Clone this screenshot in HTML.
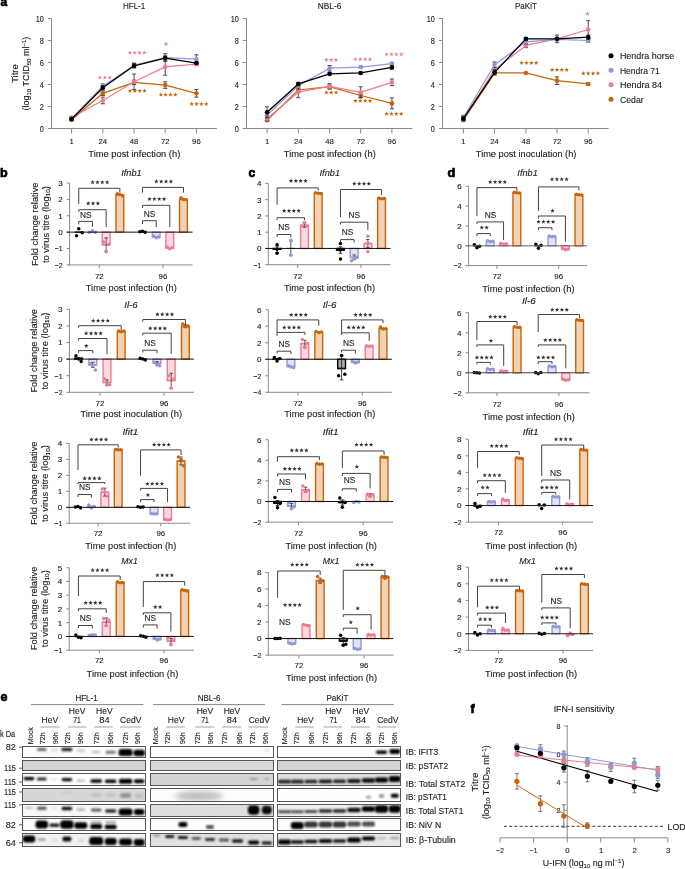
<!DOCTYPE html>
<html><head><meta charset="utf-8"><title>Figure</title>
<style>
html,body{margin:0;padding:0;background:#fff;}
body{width:685px;height:869px;overflow:hidden;}
svg{display:block;font-family:"Liberation Sans",sans-serif;will-change:transform;}
text{stroke:#1c1c1c;stroke-width:0.12px;}
</style></head><body>
<svg width="685" height="869" viewBox="0 0 685 869" fill="#1c1c1c">
<rect width="685" height="869" fill="#fff"/>
<text x="0.6" y="6.4" font-size="12" fill="#000" font-weight="bold" style="stroke:#000;stroke-width:0.7px">a</text>
<line x1="51.5" y1="18.5" x2="51.5" y2="129" stroke="#8a8a8a" stroke-width="1"/>
<line x1="48.2" y1="128.5" x2="216.8" y2="128.5" stroke="#8a8a8a" stroke-width="1"/>
<line x1="47.9" y1="128.5" x2="51.5" y2="128.5" stroke="#8a8a8a" stroke-width="1"/>
<text x="43.8" y="131.95" font-size="8.2" text-anchor="end" textLength="4.05" lengthAdjust="spacingAndGlyphs">0</text>
<line x1="47.9" y1="106.5" x2="51.5" y2="106.5" stroke="#8a8a8a" stroke-width="1"/>
<text x="43.8" y="109.95" font-size="8.2" text-anchor="end" textLength="4.05" lengthAdjust="spacingAndGlyphs">2</text>
<line x1="47.9" y1="84.5" x2="51.5" y2="84.5" stroke="#8a8a8a" stroke-width="1"/>
<text x="43.8" y="87.95" font-size="8.2" text-anchor="end" textLength="4.05" lengthAdjust="spacingAndGlyphs">4</text>
<line x1="47.9" y1="62.5" x2="51.5" y2="62.5" stroke="#8a8a8a" stroke-width="1"/>
<text x="43.8" y="65.95" font-size="8.2" text-anchor="end" textLength="4.05" lengthAdjust="spacingAndGlyphs">6</text>
<line x1="47.9" y1="40.5" x2="51.5" y2="40.5" stroke="#8a8a8a" stroke-width="1"/>
<text x="43.8" y="43.95" font-size="8.2" text-anchor="end" textLength="4.05" lengthAdjust="spacingAndGlyphs">8</text>
<line x1="47.9" y1="18.5" x2="51.5" y2="18.5" stroke="#8a8a8a" stroke-width="1"/>
<text x="43.8" y="21.95" font-size="8.2" text-anchor="end" textLength="8.1" lengthAdjust="spacingAndGlyphs">10</text>
<line x1="71.6" y1="128.5" x2="71.6" y2="133.5" stroke="#8a8a8a" stroke-width="1"/>
<text x="71.6" y="143.68" font-size="8" text-anchor="middle" textLength="4.3" lengthAdjust="spacingAndGlyphs">1</text>
<line x1="102.8" y1="128.5" x2="102.8" y2="133.5" stroke="#8a8a8a" stroke-width="1"/>
<text x="102.8" y="143.68" font-size="8" text-anchor="middle" textLength="8.6" lengthAdjust="spacingAndGlyphs">24</text>
<line x1="134.1" y1="128.5" x2="134.1" y2="133.5" stroke="#8a8a8a" stroke-width="1"/>
<text x="134.1" y="143.68" font-size="8" text-anchor="middle" textLength="8.6" lengthAdjust="spacingAndGlyphs">48</text>
<line x1="165.2" y1="128.5" x2="165.2" y2="133.5" stroke="#8a8a8a" stroke-width="1"/>
<text x="165.2" y="143.68" font-size="8" text-anchor="middle" textLength="8.6" lengthAdjust="spacingAndGlyphs">72</text>
<line x1="196.4" y1="128.5" x2="196.4" y2="133.5" stroke="#8a8a8a" stroke-width="1"/>
<text x="196.4" y="143.68" font-size="8" text-anchor="middle" textLength="8.6" lengthAdjust="spacingAndGlyphs">96</text>
<text x="134.1" y="9.4" font-size="8.8" text-anchor="middle" textLength="22.4" lengthAdjust="spacingAndGlyphs">HFL-1</text>
<text x="134.3" y="157.2" font-size="9.3" text-anchor="middle" textLength="92" lengthAdjust="spacingAndGlyphs">Time post infection (h)</text>
<line x1="71.6" y1="118.6" x2="71.6" y2="120.8" stroke="#3a3a3a" stroke-width="0.9"/>
<line x1="69.5" y1="118.6" x2="73.7" y2="118.6" stroke="#3a3a3a" stroke-width="0.9"/>
<line x1="69.5" y1="120.8" x2="73.7" y2="120.8" stroke="#3a3a3a" stroke-width="0.9"/>
<line x1="102.8" y1="91.1" x2="102.8" y2="95.5" stroke="#3a3a3a" stroke-width="0.9"/>
<line x1="100.7" y1="91.1" x2="104.9" y2="91.1" stroke="#3a3a3a" stroke-width="0.9"/>
<line x1="100.7" y1="95.5" x2="104.9" y2="95.5" stroke="#3a3a3a" stroke-width="0.9"/>
<line x1="134.1" y1="80.1" x2="134.1" y2="84.5" stroke="#3a3a3a" stroke-width="0.9"/>
<line x1="132" y1="80.1" x2="136.2" y2="80.1" stroke="#3a3a3a" stroke-width="0.9"/>
<line x1="132" y1="84.5" x2="136.2" y2="84.5" stroke="#3a3a3a" stroke-width="0.9"/>
<line x1="165.2" y1="81.75" x2="165.2" y2="88.35" stroke="#3a3a3a" stroke-width="0.9"/>
<line x1="163.1" y1="81.75" x2="167.3" y2="81.75" stroke="#3a3a3a" stroke-width="0.9"/>
<line x1="163.1" y1="88.35" x2="167.3" y2="88.35" stroke="#3a3a3a" stroke-width="0.9"/>
<line x1="196.4" y1="89.45" x2="196.4" y2="97.15" stroke="#3a3a3a" stroke-width="0.9"/>
<line x1="194.3" y1="89.45" x2="198.5" y2="89.45" stroke="#3a3a3a" stroke-width="0.9"/>
<line x1="194.3" y1="97.15" x2="198.5" y2="97.15" stroke="#3a3a3a" stroke-width="0.9"/>
<polyline points="71.6,119.7 102.8,93.3 134.1,82.3 165.2,85.05 196.4,93.3" fill="none" stroke="#c8650c" stroke-width="1.25" stroke-linejoin="round"/>
<circle cx="71.6" cy="119.7" r="2.3" fill="#c8650c"/>
<circle cx="102.8" cy="93.3" r="2.3" fill="#c8650c"/>
<circle cx="134.1" cy="82.3" r="2.3" fill="#c8650c"/>
<circle cx="165.2" cy="85.05" r="2.3" fill="#c8650c"/>
<circle cx="196.4" cy="93.3" r="2.3" fill="#c8650c"/>
<line x1="71.6" y1="116.4" x2="71.6" y2="118.6" stroke="#3a3a3a" stroke-width="0.9"/>
<line x1="69.5" y1="116.4" x2="73.7" y2="116.4" stroke="#3a3a3a" stroke-width="0.9"/>
<line x1="69.5" y1="118.6" x2="73.7" y2="118.6" stroke="#3a3a3a" stroke-width="0.9"/>
<line x1="102.8" y1="97.15" x2="102.8" y2="103.75" stroke="#3a3a3a" stroke-width="0.9"/>
<line x1="100.7" y1="97.15" x2="104.9" y2="97.15" stroke="#3a3a3a" stroke-width="0.9"/>
<line x1="100.7" y1="103.75" x2="104.9" y2="103.75" stroke="#3a3a3a" stroke-width="0.9"/>
<line x1="134.1" y1="74.05" x2="134.1" y2="89.45" stroke="#3a3a3a" stroke-width="0.9"/>
<line x1="132" y1="74.05" x2="136.2" y2="74.05" stroke="#3a3a3a" stroke-width="0.9"/>
<line x1="132" y1="89.45" x2="136.2" y2="89.45" stroke="#3a3a3a" stroke-width="0.9"/>
<line x1="165.2" y1="58.65" x2="165.2" y2="75.15" stroke="#3a3a3a" stroke-width="0.9"/>
<line x1="163.1" y1="58.65" x2="167.3" y2="58.65" stroke="#3a3a3a" stroke-width="0.9"/>
<line x1="163.1" y1="75.15" x2="167.3" y2="75.15" stroke="#3a3a3a" stroke-width="0.9"/>
<line x1="196.4" y1="63.05" x2="196.4" y2="65.25" stroke="#3a3a3a" stroke-width="0.9"/>
<line x1="194.3" y1="63.05" x2="198.5" y2="63.05" stroke="#3a3a3a" stroke-width="0.9"/>
<line x1="194.3" y1="65.25" x2="198.5" y2="65.25" stroke="#3a3a3a" stroke-width="0.9"/>
<polyline points="71.6,117.5 102.8,100.45 134.1,81.75 165.2,66.9 196.4,64.15" fill="none" stroke="#ee7c93" stroke-width="1.25" stroke-linejoin="round"/>
<circle cx="71.6" cy="117.5" r="2.3" fill="#ee7c93"/>
<circle cx="102.8" cy="100.45" r="2.3" fill="#ee7c93"/>
<circle cx="134.1" cy="81.75" r="2.3" fill="#ee7c93"/>
<circle cx="165.2" cy="66.9" r="2.3" fill="#ee7c93"/>
<circle cx="196.4" cy="64.15" r="2.3" fill="#ee7c93"/>
<line x1="71.6" y1="117.5" x2="71.6" y2="119.7" stroke="#3a3a3a" stroke-width="0.9"/>
<line x1="69.5" y1="117.5" x2="73.7" y2="117.5" stroke="#3a3a3a" stroke-width="0.9"/>
<line x1="69.5" y1="119.7" x2="73.7" y2="119.7" stroke="#3a3a3a" stroke-width="0.9"/>
<line x1="102.8" y1="83.95" x2="102.8" y2="88.35" stroke="#3a3a3a" stroke-width="0.9"/>
<line x1="100.7" y1="83.95" x2="104.9" y2="83.95" stroke="#3a3a3a" stroke-width="0.9"/>
<line x1="100.7" y1="88.35" x2="104.9" y2="88.35" stroke="#3a3a3a" stroke-width="0.9"/>
<line x1="134.1" y1="63.05" x2="134.1" y2="67.45" stroke="#3a3a3a" stroke-width="0.9"/>
<line x1="132" y1="63.05" x2="136.2" y2="63.05" stroke="#3a3a3a" stroke-width="0.9"/>
<line x1="132" y1="67.45" x2="136.2" y2="67.45" stroke="#3a3a3a" stroke-width="0.9"/>
<line x1="165.2" y1="53.7" x2="165.2" y2="61.4" stroke="#3a3a3a" stroke-width="0.9"/>
<line x1="163.1" y1="53.7" x2="167.3" y2="53.7" stroke="#3a3a3a" stroke-width="0.9"/>
<line x1="163.1" y1="61.4" x2="167.3" y2="61.4" stroke="#3a3a3a" stroke-width="0.9"/>
<line x1="196.4" y1="54.8" x2="196.4" y2="63.6" stroke="#3a3a3a" stroke-width="0.9"/>
<line x1="194.3" y1="54.8" x2="198.5" y2="54.8" stroke="#3a3a3a" stroke-width="0.9"/>
<line x1="194.3" y1="63.6" x2="198.5" y2="63.6" stroke="#3a3a3a" stroke-width="0.9"/>
<polyline points="71.6,118.6 102.8,86.15 134.1,65.25 165.2,57.55 196.4,59.2" fill="none" stroke="#8f99d6" stroke-width="1.25" stroke-linejoin="round"/>
<circle cx="71.6" cy="118.6" r="2.3" fill="#8f99d6"/>
<circle cx="102.8" cy="86.15" r="2.3" fill="#8f99d6"/>
<circle cx="134.1" cy="65.25" r="2.3" fill="#8f99d6"/>
<circle cx="165.2" cy="57.55" r="2.3" fill="#8f99d6"/>
<circle cx="196.4" cy="59.2" r="2.3" fill="#8f99d6"/>
<line x1="71.6" y1="118.05" x2="71.6" y2="120.25" stroke="#3a3a3a" stroke-width="0.9"/>
<line x1="69.5" y1="118.05" x2="73.7" y2="118.05" stroke="#3a3a3a" stroke-width="0.9"/>
<line x1="69.5" y1="120.25" x2="73.7" y2="120.25" stroke="#3a3a3a" stroke-width="0.9"/>
<line x1="102.8" y1="85.6" x2="102.8" y2="90" stroke="#3a3a3a" stroke-width="0.9"/>
<line x1="100.7" y1="85.6" x2="104.9" y2="85.6" stroke="#3a3a3a" stroke-width="0.9"/>
<line x1="100.7" y1="90" x2="104.9" y2="90" stroke="#3a3a3a" stroke-width="0.9"/>
<line x1="134.1" y1="63.6" x2="134.1" y2="68" stroke="#3a3a3a" stroke-width="0.9"/>
<line x1="132" y1="63.6" x2="136.2" y2="63.6" stroke="#3a3a3a" stroke-width="0.9"/>
<line x1="132" y1="68" x2="136.2" y2="68" stroke="#3a3a3a" stroke-width="0.9"/>
<line x1="165.2" y1="55.9" x2="165.2" y2="60.3" stroke="#3a3a3a" stroke-width="0.9"/>
<line x1="163.1" y1="55.9" x2="167.3" y2="55.9" stroke="#3a3a3a" stroke-width="0.9"/>
<line x1="163.1" y1="60.3" x2="167.3" y2="60.3" stroke="#3a3a3a" stroke-width="0.9"/>
<line x1="196.4" y1="61.95" x2="196.4" y2="64.15" stroke="#3a3a3a" stroke-width="0.9"/>
<line x1="194.3" y1="61.95" x2="198.5" y2="61.95" stroke="#3a3a3a" stroke-width="0.9"/>
<line x1="194.3" y1="64.15" x2="198.5" y2="64.15" stroke="#3a3a3a" stroke-width="0.9"/>
<polyline points="71.6,119.15 102.8,87.8 134.1,65.8 165.2,58.1 196.4,63.05" fill="none" stroke="#000000" stroke-width="1.35" stroke-linejoin="round"/>
<circle cx="71.6" cy="119.15" r="2.3" fill="#000000"/>
<circle cx="102.8" cy="87.8" r="2.3" fill="#000000"/>
<circle cx="134.1" cy="65.8" r="2.3" fill="#000000"/>
<circle cx="165.2" cy="58.1" r="2.3" fill="#000000"/>
<circle cx="196.4" cy="63.05" r="2.3" fill="#000000"/>
<path d="M100.05 75.15 L100.63 76.7 L102.28 76.77 L100.99 77.8 L101.43 79.4 L100.05 78.49 L98.67 79.4 L99.11 77.8 L97.82 76.77 L99.47 76.7ZM104.9 75.15 L105.48 76.7 L107.13 76.77 L105.84 77.8 L106.28 79.4 L104.9 78.49 L103.52 79.4 L103.96 77.8 L102.67 76.77 L104.32 76.7ZM109.75 75.15 L110.33 76.7 L111.98 76.77 L110.69 77.8 L111.13 79.4 L109.75 78.49 L108.37 79.4 L108.81 77.8 L107.52 76.77 L109.17 76.7Z" fill="#ee7c93"/>
<path d="M129.82 50.35 L130.41 51.9 L132.06 51.97 L130.76 53 L131.21 54.6 L129.82 53.69 L128.44 54.6 L128.89 53 L127.59 51.97 L129.24 51.9ZM134.67 50.35 L135.26 51.9 L136.91 51.97 L135.61 53 L136.06 54.6 L134.67 53.69 L133.29 54.6 L133.74 53 L132.44 51.97 L134.09 51.9ZM139.52 50.35 L140.11 51.9 L141.76 51.97 L140.46 53 L140.91 54.6 L139.52 53.69 L138.14 54.6 L138.59 53 L137.29 51.97 L138.94 51.9ZM144.38 50.35 L144.96 51.9 L146.61 51.97 L145.31 53 L145.76 54.6 L144.38 53.69 L142.99 54.6 L143.44 53 L142.14 51.97 L143.79 51.9Z" fill="#ee7c93"/>
<path d="M166 41.75 L166.58 43.3 L168.23 43.37 L166.94 44.4 L167.38 46 L166 45.09 L164.62 46 L165.06 44.4 L163.77 43.37 L165.42 43.3Z" fill="#ee7c93"/>
<path d="M130.03 88.55 L130.61 90.1 L132.26 90.17 L130.96 91.2 L131.41 92.8 L130.03 91.89 L128.64 92.8 L129.09 91.2 L127.79 90.17 L129.44 90.1ZM134.88 88.55 L135.46 90.1 L137.11 90.17 L135.81 91.2 L136.26 92.8 L134.88 91.89 L133.49 92.8 L133.94 91.2 L132.64 90.17 L134.29 90.1ZM139.72 88.55 L140.31 90.1 L141.96 90.17 L140.66 91.2 L141.11 92.8 L139.72 91.89 L138.34 92.8 L138.79 91.2 L137.49 90.17 L139.14 90.1ZM144.58 88.55 L145.16 90.1 L146.81 90.17 L145.51 91.2 L145.96 92.8 L144.58 91.89 L143.19 92.8 L143.64 91.2 L142.34 90.17 L143.99 90.1Z" fill="#c8650c"/>
<path d="M160.82 92.35 L161.41 93.9 L163.06 93.97 L161.76 95 L162.21 96.6 L160.82 95.69 L159.44 96.6 L159.89 95 L158.59 93.97 L160.24 93.9ZM165.67 92.35 L166.26 93.9 L167.91 93.97 L166.61 95 L167.06 96.6 L165.67 95.69 L164.29 96.6 L164.74 95 L163.44 93.97 L165.09 93.9ZM170.52 92.35 L171.11 93.9 L172.76 93.97 L171.46 95 L171.91 96.6 L170.52 95.69 L169.14 96.6 L169.59 95 L168.29 93.97 L169.94 93.9ZM175.38 92.35 L175.96 93.9 L177.61 93.97 L176.31 95 L176.76 96.6 L175.38 95.69 L173.99 96.6 L174.44 95 L173.14 93.97 L174.79 93.9Z" fill="#c8650c"/>
<path d="M191.72 101.75 L192.31 103.3 L193.96 103.37 L192.66 104.4 L193.11 106 L191.72 105.09 L190.34 106 L190.79 104.4 L189.49 103.37 L191.14 103.3ZM196.57 101.75 L197.16 103.3 L198.81 103.37 L197.51 104.4 L197.96 106 L196.57 105.09 L195.19 106 L195.64 104.4 L194.34 103.37 L195.99 103.3ZM201.42 101.75 L202.01 103.3 L203.66 103.37 L202.36 104.4 L202.81 106 L201.42 105.09 L200.04 106 L200.49 104.4 L199.19 103.37 L200.84 103.3ZM206.28 101.75 L206.86 103.3 L208.51 103.37 L207.21 104.4 L207.66 106 L206.28 105.09 L204.89 106 L205.34 104.4 L204.04 103.37 L205.69 103.3Z" fill="#c8650c"/>
<line x1="246.5" y1="18.5" x2="246.5" y2="129" stroke="#8a8a8a" stroke-width="1"/>
<line x1="243.2" y1="128.5" x2="412.3" y2="128.5" stroke="#8a8a8a" stroke-width="1"/>
<line x1="242.9" y1="128.5" x2="246.5" y2="128.5" stroke="#8a8a8a" stroke-width="1"/>
<text x="238.8" y="131.95" font-size="8.2" text-anchor="end" textLength="4.05" lengthAdjust="spacingAndGlyphs">0</text>
<line x1="242.9" y1="106.5" x2="246.5" y2="106.5" stroke="#8a8a8a" stroke-width="1"/>
<text x="238.8" y="109.95" font-size="8.2" text-anchor="end" textLength="4.05" lengthAdjust="spacingAndGlyphs">2</text>
<line x1="242.9" y1="84.5" x2="246.5" y2="84.5" stroke="#8a8a8a" stroke-width="1"/>
<text x="238.8" y="87.95" font-size="8.2" text-anchor="end" textLength="4.05" lengthAdjust="spacingAndGlyphs">4</text>
<line x1="242.9" y1="62.5" x2="246.5" y2="62.5" stroke="#8a8a8a" stroke-width="1"/>
<text x="238.8" y="65.95" font-size="8.2" text-anchor="end" textLength="4.05" lengthAdjust="spacingAndGlyphs">6</text>
<line x1="242.9" y1="40.5" x2="246.5" y2="40.5" stroke="#8a8a8a" stroke-width="1"/>
<text x="238.8" y="43.95" font-size="8.2" text-anchor="end" textLength="4.05" lengthAdjust="spacingAndGlyphs">8</text>
<line x1="242.9" y1="18.5" x2="246.5" y2="18.5" stroke="#8a8a8a" stroke-width="1"/>
<text x="238.8" y="21.95" font-size="8.2" text-anchor="end" textLength="8.1" lengthAdjust="spacingAndGlyphs">10</text>
<line x1="267.1" y1="128.5" x2="267.1" y2="133.5" stroke="#8a8a8a" stroke-width="1"/>
<text x="267.1" y="143.68" font-size="8" text-anchor="middle" textLength="4.3" lengthAdjust="spacingAndGlyphs">1</text>
<line x1="298.3" y1="128.5" x2="298.3" y2="133.5" stroke="#8a8a8a" stroke-width="1"/>
<text x="298.3" y="143.68" font-size="8" text-anchor="middle" textLength="8.6" lengthAdjust="spacingAndGlyphs">24</text>
<line x1="329.6" y1="128.5" x2="329.6" y2="133.5" stroke="#8a8a8a" stroke-width="1"/>
<text x="329.6" y="143.68" font-size="8" text-anchor="middle" textLength="8.6" lengthAdjust="spacingAndGlyphs">48</text>
<line x1="360.7" y1="128.5" x2="360.7" y2="133.5" stroke="#8a8a8a" stroke-width="1"/>
<text x="360.7" y="143.68" font-size="8" text-anchor="middle" textLength="8.6" lengthAdjust="spacingAndGlyphs">72</text>
<line x1="391.9" y1="128.5" x2="391.9" y2="133.5" stroke="#8a8a8a" stroke-width="1"/>
<text x="391.9" y="143.68" font-size="8" text-anchor="middle" textLength="8.6" lengthAdjust="spacingAndGlyphs">96</text>
<text x="329.6" y="9.4" font-size="8.8" text-anchor="middle" textLength="23.5" lengthAdjust="spacingAndGlyphs">NBL-6</text>
<text x="329.8" y="157.2" font-size="9.3" text-anchor="middle" textLength="92" lengthAdjust="spacingAndGlyphs">Time post infection (h)</text>
<line x1="267.1" y1="119.15" x2="267.1" y2="121.35" stroke="#3a3a3a" stroke-width="0.9"/>
<line x1="265" y1="119.15" x2="269.2" y2="119.15" stroke="#3a3a3a" stroke-width="0.9"/>
<line x1="265" y1="121.35" x2="269.2" y2="121.35" stroke="#3a3a3a" stroke-width="0.9"/>
<line x1="298.3" y1="88.35" x2="298.3" y2="91.65" stroke="#3a3a3a" stroke-width="0.9"/>
<line x1="296.2" y1="88.35" x2="300.4" y2="88.35" stroke="#3a3a3a" stroke-width="0.9"/>
<line x1="296.2" y1="91.65" x2="300.4" y2="91.65" stroke="#3a3a3a" stroke-width="0.9"/>
<line x1="329.6" y1="85.05" x2="329.6" y2="88.35" stroke="#3a3a3a" stroke-width="0.9"/>
<line x1="327.5" y1="85.05" x2="331.7" y2="85.05" stroke="#3a3a3a" stroke-width="0.9"/>
<line x1="327.5" y1="88.35" x2="331.7" y2="88.35" stroke="#3a3a3a" stroke-width="0.9"/>
<line x1="360.7" y1="93.3" x2="360.7" y2="97.7" stroke="#3a3a3a" stroke-width="0.9"/>
<line x1="358.6" y1="93.3" x2="362.8" y2="93.3" stroke="#3a3a3a" stroke-width="0.9"/>
<line x1="358.6" y1="97.7" x2="362.8" y2="97.7" stroke="#3a3a3a" stroke-width="0.9"/>
<line x1="391.9" y1="97.92" x2="391.9" y2="108.92" stroke="#3a3a3a" stroke-width="0.9"/>
<line x1="389.8" y1="97.92" x2="394" y2="97.92" stroke="#3a3a3a" stroke-width="0.9"/>
<line x1="389.8" y1="108.92" x2="394" y2="108.92" stroke="#3a3a3a" stroke-width="0.9"/>
<polyline points="267.1,120.25 298.3,90 329.6,86.7 360.7,95.5 391.9,103.42" fill="none" stroke="#c8650c" stroke-width="1.25" stroke-linejoin="round"/>
<circle cx="267.1" cy="120.25" r="2.3" fill="#c8650c"/>
<circle cx="298.3" cy="90" r="2.3" fill="#c8650c"/>
<circle cx="329.6" cy="86.7" r="2.3" fill="#c8650c"/>
<circle cx="360.7" cy="95.5" r="2.3" fill="#c8650c"/>
<circle cx="391.9" cy="103.42" r="2.3" fill="#c8650c"/>
<line x1="267.1" y1="116.4" x2="267.1" y2="120.8" stroke="#3a3a3a" stroke-width="0.9"/>
<line x1="265" y1="116.4" x2="269.2" y2="116.4" stroke="#3a3a3a" stroke-width="0.9"/>
<line x1="265" y1="120.8" x2="269.2" y2="120.8" stroke="#3a3a3a" stroke-width="0.9"/>
<line x1="298.3" y1="86.7" x2="298.3" y2="97.7" stroke="#3a3a3a" stroke-width="0.9"/>
<line x1="296.2" y1="86.7" x2="300.4" y2="86.7" stroke="#3a3a3a" stroke-width="0.9"/>
<line x1="296.2" y1="97.7" x2="300.4" y2="97.7" stroke="#3a3a3a" stroke-width="0.9"/>
<line x1="329.6" y1="83.73" x2="329.6" y2="89.23" stroke="#3a3a3a" stroke-width="0.9"/>
<line x1="327.5" y1="83.73" x2="331.7" y2="83.73" stroke="#3a3a3a" stroke-width="0.9"/>
<line x1="327.5" y1="89.23" x2="331.7" y2="89.23" stroke="#3a3a3a" stroke-width="0.9"/>
<line x1="360.7" y1="86.81" x2="360.7" y2="97.81" stroke="#3a3a3a" stroke-width="0.9"/>
<line x1="358.6" y1="86.81" x2="362.8" y2="86.81" stroke="#3a3a3a" stroke-width="0.9"/>
<line x1="358.6" y1="97.81" x2="362.8" y2="97.81" stroke="#3a3a3a" stroke-width="0.9"/>
<line x1="391.9" y1="79" x2="391.9" y2="85.6" stroke="#3a3a3a" stroke-width="0.9"/>
<line x1="389.8" y1="79" x2="394" y2="79" stroke="#3a3a3a" stroke-width="0.9"/>
<line x1="389.8" y1="85.6" x2="394" y2="85.6" stroke="#3a3a3a" stroke-width="0.9"/>
<polyline points="267.1,118.6 298.3,92.2 329.6,86.48 360.7,92.31 391.9,82.3" fill="none" stroke="#ee7c93" stroke-width="1.25" stroke-linejoin="round"/>
<circle cx="267.1" cy="118.6" r="2.3" fill="#ee7c93"/>
<circle cx="298.3" cy="92.2" r="2.3" fill="#ee7c93"/>
<circle cx="329.6" cy="86.48" r="2.3" fill="#ee7c93"/>
<circle cx="360.7" cy="92.31" r="2.3" fill="#ee7c93"/>
<circle cx="391.9" cy="82.3" r="2.3" fill="#ee7c93"/>
<line x1="267.1" y1="113.1" x2="267.1" y2="117.5" stroke="#3a3a3a" stroke-width="0.9"/>
<line x1="265" y1="113.1" x2="269.2" y2="113.1" stroke="#3a3a3a" stroke-width="0.9"/>
<line x1="265" y1="117.5" x2="269.2" y2="117.5" stroke="#3a3a3a" stroke-width="0.9"/>
<line x1="298.3" y1="83.95" x2="298.3" y2="87.25" stroke="#3a3a3a" stroke-width="0.9"/>
<line x1="296.2" y1="83.95" x2="300.4" y2="83.95" stroke="#3a3a3a" stroke-width="0.9"/>
<line x1="296.2" y1="87.25" x2="300.4" y2="87.25" stroke="#3a3a3a" stroke-width="0.9"/>
<line x1="329.6" y1="65.47" x2="329.6" y2="70.97" stroke="#3a3a3a" stroke-width="0.9"/>
<line x1="327.5" y1="65.47" x2="331.7" y2="65.47" stroke="#3a3a3a" stroke-width="0.9"/>
<line x1="327.5" y1="70.97" x2="331.7" y2="70.97" stroke="#3a3a3a" stroke-width="0.9"/>
<line x1="360.7" y1="66.02" x2="360.7" y2="68.22" stroke="#3a3a3a" stroke-width="0.9"/>
<line x1="358.6" y1="66.02" x2="362.8" y2="66.02" stroke="#3a3a3a" stroke-width="0.9"/>
<line x1="358.6" y1="68.22" x2="362.8" y2="68.22" stroke="#3a3a3a" stroke-width="0.9"/>
<line x1="391.9" y1="62.5" x2="391.9" y2="64.7" stroke="#3a3a3a" stroke-width="0.9"/>
<line x1="389.8" y1="62.5" x2="394" y2="62.5" stroke="#3a3a3a" stroke-width="0.9"/>
<line x1="389.8" y1="64.7" x2="394" y2="64.7" stroke="#3a3a3a" stroke-width="0.9"/>
<polyline points="267.1,115.3 298.3,85.6 329.6,68.22 360.7,67.12 391.9,63.6" fill="none" stroke="#8f99d6" stroke-width="1.25" stroke-linejoin="round"/>
<circle cx="267.1" cy="115.3" r="2.3" fill="#8f99d6"/>
<circle cx="298.3" cy="85.6" r="2.3" fill="#8f99d6"/>
<circle cx="329.6" cy="68.22" r="2.3" fill="#8f99d6"/>
<circle cx="360.7" cy="67.12" r="2.3" fill="#8f99d6"/>
<circle cx="391.9" cy="63.6" r="2.3" fill="#8f99d6"/>
<line x1="267.1" y1="106.83" x2="267.1" y2="117.83" stroke="#3a3a3a" stroke-width="0.9"/>
<line x1="265" y1="106.83" x2="269.2" y2="106.83" stroke="#3a3a3a" stroke-width="0.9"/>
<line x1="265" y1="117.83" x2="269.2" y2="117.83" stroke="#3a3a3a" stroke-width="0.9"/>
<line x1="298.3" y1="82.3" x2="298.3" y2="85.6" stroke="#3a3a3a" stroke-width="0.9"/>
<line x1="296.2" y1="82.3" x2="300.4" y2="82.3" stroke="#3a3a3a" stroke-width="0.9"/>
<line x1="296.2" y1="85.6" x2="300.4" y2="85.6" stroke="#3a3a3a" stroke-width="0.9"/>
<line x1="329.6" y1="72.73" x2="329.6" y2="74.93" stroke="#3a3a3a" stroke-width="0.9"/>
<line x1="327.5" y1="72.73" x2="331.7" y2="72.73" stroke="#3a3a3a" stroke-width="0.9"/>
<line x1="327.5" y1="74.93" x2="331.7" y2="74.93" stroke="#3a3a3a" stroke-width="0.9"/>
<line x1="360.7" y1="71.85" x2="360.7" y2="74.05" stroke="#3a3a3a" stroke-width="0.9"/>
<line x1="358.6" y1="71.85" x2="362.8" y2="71.85" stroke="#3a3a3a" stroke-width="0.9"/>
<line x1="358.6" y1="74.05" x2="362.8" y2="74.05" stroke="#3a3a3a" stroke-width="0.9"/>
<line x1="391.9" y1="65.8" x2="391.9" y2="69.1" stroke="#3a3a3a" stroke-width="0.9"/>
<line x1="389.8" y1="65.8" x2="394" y2="65.8" stroke="#3a3a3a" stroke-width="0.9"/>
<line x1="389.8" y1="69.1" x2="394" y2="69.1" stroke="#3a3a3a" stroke-width="0.9"/>
<polyline points="267.1,112.33 298.3,83.95 329.6,73.83 360.7,72.95 391.9,67.45" fill="none" stroke="#000000" stroke-width="1.35" stroke-linejoin="round"/>
<circle cx="267.1" cy="112.33" r="2.3" fill="#000000"/>
<circle cx="298.3" cy="83.95" r="2.3" fill="#000000"/>
<circle cx="329.6" cy="73.83" r="2.3" fill="#000000"/>
<circle cx="360.7" cy="72.95" r="2.3" fill="#000000"/>
<circle cx="391.9" cy="67.45" r="2.3" fill="#000000"/>
<path d="M326.35 57.55 L326.93 59.1 L328.58 59.17 L327.29 60.2 L327.73 61.8 L326.35 60.89 L324.97 61.8 L325.41 60.2 L324.12 59.17 L325.77 59.1ZM331.2 57.55 L331.78 59.1 L333.43 59.17 L332.14 60.2 L332.58 61.8 L331.2 60.89 L329.82 61.8 L330.26 60.2 L328.97 59.17 L330.62 59.1ZM336.05 57.55 L336.63 59.1 L338.28 59.17 L336.99 60.2 L337.43 61.8 L336.05 60.89 L334.67 61.8 L335.11 60.2 L333.82 59.17 L335.47 59.1Z" fill="#ee7c93"/>
<path d="M355.43 56.95 L356.01 58.5 L357.66 58.57 L356.36 59.6 L356.81 61.2 L355.43 60.29 L354.04 61.2 L354.49 59.6 L353.19 58.57 L354.84 58.5ZM360.28 56.95 L360.86 58.5 L362.51 58.57 L361.21 59.6 L361.66 61.2 L360.28 60.29 L358.89 61.2 L359.34 59.6 L358.04 58.57 L359.69 58.5ZM365.12 56.95 L365.71 58.5 L367.36 58.57 L366.06 59.6 L366.51 61.2 L365.12 60.29 L363.74 61.2 L364.19 59.6 L362.89 58.57 L364.54 58.5ZM369.98 56.95 L370.56 58.5 L372.21 58.57 L370.91 59.6 L371.36 61.2 L369.98 60.29 L368.59 61.2 L369.04 59.6 L367.74 58.57 L369.39 58.5Z" fill="#ee7c93"/>
<path d="M386.62 51.95 L387.21 53.5 L388.86 53.57 L387.56 54.6 L388.01 56.2 L386.62 55.29 L385.24 56.2 L385.69 54.6 L384.39 53.57 L386.04 53.5ZM391.48 51.95 L392.06 53.5 L393.71 53.57 L392.41 54.6 L392.86 56.2 L391.48 55.29 L390.09 56.2 L390.54 54.6 L389.24 53.57 L390.89 53.5ZM396.32 51.95 L396.91 53.5 L398.56 53.57 L397.26 54.6 L397.71 56.2 L396.32 55.29 L394.94 56.2 L395.39 54.6 L394.09 53.57 L395.74 53.5ZM401.18 51.95 L401.76 53.5 L403.41 53.57 L402.11 54.6 L402.56 56.2 L401.18 55.29 L399.79 56.2 L400.24 54.6 L398.94 53.57 L400.59 53.5Z" fill="#ee7c93"/>
<path d="M326.35 90.25 L326.93 91.8 L328.58 91.87 L327.29 92.9 L327.73 94.5 L326.35 93.59 L324.97 94.5 L325.41 92.9 L324.12 91.87 L325.77 91.8ZM331.2 90.25 L331.78 91.8 L333.43 91.87 L332.14 92.9 L332.58 94.5 L331.2 93.59 L329.82 94.5 L330.26 92.9 L328.97 91.87 L330.62 91.8ZM336.05 90.25 L336.63 91.8 L338.28 91.87 L336.99 92.9 L337.43 94.5 L336.05 93.59 L334.67 94.5 L335.11 92.9 L333.82 91.87 L335.47 91.8Z" fill="#c8650c"/>
<path d="M355.43 98.55 L356.01 100.1 L357.66 100.17 L356.36 101.2 L356.81 102.8 L355.43 101.89 L354.04 102.8 L354.49 101.2 L353.19 100.17 L354.84 100.1ZM360.28 98.55 L360.86 100.1 L362.51 100.17 L361.21 101.2 L361.66 102.8 L360.28 101.89 L358.89 102.8 L359.34 101.2 L358.04 100.17 L359.69 100.1ZM365.12 98.55 L365.71 100.1 L367.36 100.17 L366.06 101.2 L366.51 102.8 L365.12 101.89 L363.74 102.8 L364.19 101.2 L362.89 100.17 L364.54 100.1ZM369.98 98.55 L370.56 100.1 L372.21 100.17 L370.91 101.2 L371.36 102.8 L369.98 101.89 L368.59 102.8 L369.04 101.2 L367.74 100.17 L369.39 100.1Z" fill="#c8650c"/>
<path d="M386.62 111.55 L387.21 113.1 L388.86 113.17 L387.56 114.2 L388.01 115.8 L386.62 114.89 L385.24 115.8 L385.69 114.2 L384.39 113.17 L386.04 113.1ZM391.48 111.55 L392.06 113.1 L393.71 113.17 L392.41 114.2 L392.86 115.8 L391.48 114.89 L390.09 115.8 L390.54 114.2 L389.24 113.17 L390.89 113.1ZM396.32 111.55 L396.91 113.1 L398.56 113.17 L397.26 114.2 L397.71 115.8 L396.32 114.89 L394.94 115.8 L395.39 114.2 L394.09 113.17 L395.74 113.1ZM401.18 111.55 L401.76 113.1 L403.41 113.17 L402.11 114.2 L402.56 115.8 L401.18 114.89 L399.79 115.8 L400.24 114.2 L398.94 113.17 L400.59 113.1Z" fill="#c8650c"/>
<line x1="442.5" y1="18.5" x2="442.5" y2="129" stroke="#8a8a8a" stroke-width="1"/>
<line x1="439.2" y1="128.5" x2="608.6" y2="128.5" stroke="#8a8a8a" stroke-width="1"/>
<line x1="438.9" y1="128.5" x2="442.5" y2="128.5" stroke="#8a8a8a" stroke-width="1"/>
<text x="434.8" y="131.95" font-size="8.2" text-anchor="end" textLength="4.05" lengthAdjust="spacingAndGlyphs">0</text>
<line x1="438.9" y1="106.5" x2="442.5" y2="106.5" stroke="#8a8a8a" stroke-width="1"/>
<text x="434.8" y="109.95" font-size="8.2" text-anchor="end" textLength="4.05" lengthAdjust="spacingAndGlyphs">2</text>
<line x1="438.9" y1="84.5" x2="442.5" y2="84.5" stroke="#8a8a8a" stroke-width="1"/>
<text x="434.8" y="87.95" font-size="8.2" text-anchor="end" textLength="4.05" lengthAdjust="spacingAndGlyphs">4</text>
<line x1="438.9" y1="62.5" x2="442.5" y2="62.5" stroke="#8a8a8a" stroke-width="1"/>
<text x="434.8" y="65.95" font-size="8.2" text-anchor="end" textLength="4.05" lengthAdjust="spacingAndGlyphs">6</text>
<line x1="438.9" y1="40.5" x2="442.5" y2="40.5" stroke="#8a8a8a" stroke-width="1"/>
<text x="434.8" y="43.95" font-size="8.2" text-anchor="end" textLength="4.05" lengthAdjust="spacingAndGlyphs">8</text>
<line x1="438.9" y1="18.5" x2="442.5" y2="18.5" stroke="#8a8a8a" stroke-width="1"/>
<text x="434.8" y="21.95" font-size="8.2" text-anchor="end" textLength="8.1" lengthAdjust="spacingAndGlyphs">10</text>
<line x1="463.4" y1="128.5" x2="463.4" y2="133.5" stroke="#8a8a8a" stroke-width="1"/>
<text x="463.4" y="143.68" font-size="8" text-anchor="middle" textLength="4.3" lengthAdjust="spacingAndGlyphs">1</text>
<line x1="494.6" y1="128.5" x2="494.6" y2="133.5" stroke="#8a8a8a" stroke-width="1"/>
<text x="494.6" y="143.68" font-size="8" text-anchor="middle" textLength="8.6" lengthAdjust="spacingAndGlyphs">24</text>
<line x1="525.9" y1="128.5" x2="525.9" y2="133.5" stroke="#8a8a8a" stroke-width="1"/>
<text x="525.9" y="143.68" font-size="8" text-anchor="middle" textLength="8.6" lengthAdjust="spacingAndGlyphs">48</text>
<line x1="557" y1="128.5" x2="557" y2="133.5" stroke="#8a8a8a" stroke-width="1"/>
<text x="557" y="143.68" font-size="8" text-anchor="middle" textLength="8.6" lengthAdjust="spacingAndGlyphs">72</text>
<line x1="588.2" y1="128.5" x2="588.2" y2="133.5" stroke="#8a8a8a" stroke-width="1"/>
<text x="588.2" y="143.68" font-size="8" text-anchor="middle" textLength="8.6" lengthAdjust="spacingAndGlyphs">96</text>
<text x="525.9" y="9.4" font-size="8.8" text-anchor="middle" textLength="22" lengthAdjust="spacingAndGlyphs">PaKiT</text>
<text x="526.1" y="157.2" font-size="9.3" text-anchor="middle" textLength="100.5" lengthAdjust="spacingAndGlyphs">Time post inoculation (h)</text>
<line x1="463.4" y1="119.15" x2="463.4" y2="121.35" stroke="#3a3a3a" stroke-width="0.9"/>
<line x1="461.3" y1="119.15" x2="465.5" y2="119.15" stroke="#3a3a3a" stroke-width="0.9"/>
<line x1="461.3" y1="121.35" x2="465.5" y2="121.35" stroke="#3a3a3a" stroke-width="0.9"/>
<line x1="494.6" y1="71.74" x2="494.6" y2="73.94" stroke="#3a3a3a" stroke-width="0.9"/>
<line x1="492.5" y1="71.74" x2="496.7" y2="71.74" stroke="#3a3a3a" stroke-width="0.9"/>
<line x1="492.5" y1="73.94" x2="496.7" y2="73.94" stroke="#3a3a3a" stroke-width="0.9"/>
<line x1="557" y1="76.8" x2="557" y2="84.5" stroke="#3a3a3a" stroke-width="0.9"/>
<line x1="554.9" y1="76.8" x2="559.1" y2="76.8" stroke="#3a3a3a" stroke-width="0.9"/>
<line x1="554.9" y1="84.5" x2="559.1" y2="84.5" stroke="#3a3a3a" stroke-width="0.9"/>
<line x1="588.2" y1="82.85" x2="588.2" y2="85.05" stroke="#3a3a3a" stroke-width="0.9"/>
<line x1="586.1" y1="82.85" x2="590.3" y2="82.85" stroke="#3a3a3a" stroke-width="0.9"/>
<line x1="586.1" y1="85.05" x2="590.3" y2="85.05" stroke="#3a3a3a" stroke-width="0.9"/>
<polyline points="463.4,120.25 494.6,72.84 525.9,72.95 557,80.65 588.2,83.95" fill="none" stroke="#c8650c" stroke-width="1.25" stroke-linejoin="round"/>
<circle cx="463.4" cy="120.25" r="2.3" fill="#c8650c"/>
<circle cx="494.6" cy="72.84" r="2.3" fill="#c8650c"/>
<circle cx="525.9" cy="72.95" r="2.3" fill="#c8650c"/>
<circle cx="557" cy="80.65" r="2.3" fill="#c8650c"/>
<circle cx="588.2" cy="83.95" r="2.3" fill="#c8650c"/>
<line x1="463.4" y1="118.6" x2="463.4" y2="120.8" stroke="#3a3a3a" stroke-width="0.9"/>
<line x1="461.3" y1="118.6" x2="465.5" y2="118.6" stroke="#3a3a3a" stroke-width="0.9"/>
<line x1="461.3" y1="120.8" x2="465.5" y2="120.8" stroke="#3a3a3a" stroke-width="0.9"/>
<line x1="494.6" y1="67.45" x2="494.6" y2="71.85" stroke="#3a3a3a" stroke-width="0.9"/>
<line x1="492.5" y1="67.45" x2="496.7" y2="67.45" stroke="#3a3a3a" stroke-width="0.9"/>
<line x1="492.5" y1="71.85" x2="496.7" y2="71.85" stroke="#3a3a3a" stroke-width="0.9"/>
<line x1="525.9" y1="43.25" x2="525.9" y2="47.65" stroke="#3a3a3a" stroke-width="0.9"/>
<line x1="523.8" y1="43.25" x2="528" y2="43.25" stroke="#3a3a3a" stroke-width="0.9"/>
<line x1="523.8" y1="47.65" x2="528" y2="47.65" stroke="#3a3a3a" stroke-width="0.9"/>
<line x1="557" y1="37.75" x2="557" y2="39.95" stroke="#3a3a3a" stroke-width="0.9"/>
<line x1="554.9" y1="37.75" x2="559.1" y2="37.75" stroke="#3a3a3a" stroke-width="0.9"/>
<line x1="554.9" y1="39.95" x2="559.1" y2="39.95" stroke="#3a3a3a" stroke-width="0.9"/>
<line x1="588.2" y1="20.7" x2="588.2" y2="38.3" stroke="#3a3a3a" stroke-width="0.9"/>
<line x1="586.1" y1="20.7" x2="590.3" y2="20.7" stroke="#3a3a3a" stroke-width="0.9"/>
<line x1="586.1" y1="38.3" x2="590.3" y2="38.3" stroke="#3a3a3a" stroke-width="0.9"/>
<polyline points="463.4,119.7 494.6,69.65 525.9,45.45 557,38.85 588.2,29.5" fill="none" stroke="#ee7c93" stroke-width="1.25" stroke-linejoin="round"/>
<circle cx="463.4" cy="119.7" r="2.3" fill="#ee7c93"/>
<circle cx="494.6" cy="69.65" r="2.3" fill="#ee7c93"/>
<circle cx="525.9" cy="45.45" r="2.3" fill="#ee7c93"/>
<circle cx="557" cy="38.85" r="2.3" fill="#ee7c93"/>
<circle cx="588.2" cy="29.5" r="2.3" fill="#ee7c93"/>
<line x1="463.4" y1="115.3" x2="463.4" y2="119.7" stroke="#3a3a3a" stroke-width="0.9"/>
<line x1="461.3" y1="115.3" x2="465.5" y2="115.3" stroke="#3a3a3a" stroke-width="0.9"/>
<line x1="461.3" y1="119.7" x2="465.5" y2="119.7" stroke="#3a3a3a" stroke-width="0.9"/>
<line x1="494.6" y1="61.95" x2="494.6" y2="67.45" stroke="#3a3a3a" stroke-width="0.9"/>
<line x1="492.5" y1="61.95" x2="496.7" y2="61.95" stroke="#3a3a3a" stroke-width="0.9"/>
<line x1="492.5" y1="67.45" x2="496.7" y2="67.45" stroke="#3a3a3a" stroke-width="0.9"/>
<line x1="525.9" y1="39.62" x2="525.9" y2="44.02" stroke="#3a3a3a" stroke-width="0.9"/>
<line x1="523.8" y1="39.62" x2="528" y2="39.62" stroke="#3a3a3a" stroke-width="0.9"/>
<line x1="523.8" y1="44.02" x2="528" y2="44.02" stroke="#3a3a3a" stroke-width="0.9"/>
<line x1="557" y1="38.3" x2="557" y2="40.5" stroke="#3a3a3a" stroke-width="0.9"/>
<line x1="554.9" y1="38.3" x2="559.1" y2="38.3" stroke="#3a3a3a" stroke-width="0.9"/>
<line x1="554.9" y1="40.5" x2="559.1" y2="40.5" stroke="#3a3a3a" stroke-width="0.9"/>
<line x1="588.2" y1="38.85" x2="588.2" y2="42.15" stroke="#3a3a3a" stroke-width="0.9"/>
<line x1="586.1" y1="38.85" x2="590.3" y2="38.85" stroke="#3a3a3a" stroke-width="0.9"/>
<line x1="586.1" y1="42.15" x2="590.3" y2="42.15" stroke="#3a3a3a" stroke-width="0.9"/>
<polyline points="463.4,117.5 494.6,64.7 525.9,41.82 557,39.4 588.2,40.5" fill="none" stroke="#8f99d6" stroke-width="1.25" stroke-linejoin="round"/>
<circle cx="463.4" cy="117.5" r="2.3" fill="#8f99d6"/>
<circle cx="494.6" cy="64.7" r="2.3" fill="#8f99d6"/>
<circle cx="525.9" cy="41.82" r="2.3" fill="#8f99d6"/>
<circle cx="557" cy="39.4" r="2.3" fill="#8f99d6"/>
<circle cx="588.2" cy="40.5" r="2.3" fill="#8f99d6"/>
<line x1="463.4" y1="116.4" x2="463.4" y2="120.8" stroke="#3a3a3a" stroke-width="0.9"/>
<line x1="461.3" y1="116.4" x2="465.5" y2="116.4" stroke="#3a3a3a" stroke-width="0.9"/>
<line x1="461.3" y1="120.8" x2="465.5" y2="120.8" stroke="#3a3a3a" stroke-width="0.9"/>
<line x1="494.6" y1="69.65" x2="494.6" y2="75.15" stroke="#3a3a3a" stroke-width="0.9"/>
<line x1="492.5" y1="69.65" x2="496.7" y2="69.65" stroke="#3a3a3a" stroke-width="0.9"/>
<line x1="492.5" y1="75.15" x2="496.7" y2="75.15" stroke="#3a3a3a" stroke-width="0.9"/>
<line x1="525.9" y1="37.75" x2="525.9" y2="39.95" stroke="#3a3a3a" stroke-width="0.9"/>
<line x1="523.8" y1="37.75" x2="528" y2="37.75" stroke="#3a3a3a" stroke-width="0.9"/>
<line x1="523.8" y1="39.95" x2="528" y2="39.95" stroke="#3a3a3a" stroke-width="0.9"/>
<line x1="557" y1="35" x2="557" y2="42.7" stroke="#3a3a3a" stroke-width="0.9"/>
<line x1="554.9" y1="35" x2="559.1" y2="35" stroke="#3a3a3a" stroke-width="0.9"/>
<line x1="554.9" y1="42.7" x2="559.1" y2="42.7" stroke="#3a3a3a" stroke-width="0.9"/>
<line x1="588.2" y1="35" x2="588.2" y2="39.4" stroke="#3a3a3a" stroke-width="0.9"/>
<line x1="586.1" y1="35" x2="590.3" y2="35" stroke="#3a3a3a" stroke-width="0.9"/>
<line x1="586.1" y1="39.4" x2="590.3" y2="39.4" stroke="#3a3a3a" stroke-width="0.9"/>
<polyline points="463.4,118.6 494.6,72.4 525.9,38.85 557,38.85 588.2,37.2" fill="none" stroke="#000000" stroke-width="1.35" stroke-linejoin="round"/>
<circle cx="463.4" cy="118.6" r="2.3" fill="#000000"/>
<circle cx="494.6" cy="72.4" r="2.3" fill="#000000"/>
<circle cx="525.9" cy="38.85" r="2.3" fill="#000000"/>
<circle cx="557" cy="38.85" r="2.3" fill="#000000"/>
<circle cx="588.2" cy="37.2" r="2.3" fill="#000000"/>
<path d="M587.5 11.45 L588.08 13 L589.73 13.07 L588.44 14.1 L588.88 15.7 L587.5 14.79 L586.12 15.7 L586.56 14.1 L585.27 13.07 L586.92 13Z" fill="#ee7c93"/>
<path d="M521.62 60.55 L522.21 62.1 L523.86 62.17 L522.56 63.2 L523.01 64.8 L521.62 63.89 L520.24 64.8 L520.69 63.2 L519.39 62.17 L521.04 62.1ZM526.48 60.55 L527.06 62.1 L528.71 62.17 L527.41 63.2 L527.86 64.8 L526.48 63.89 L525.09 64.8 L525.54 63.2 L524.24 62.17 L525.89 62.1ZM531.33 60.55 L531.91 62.1 L533.56 62.17 L532.26 63.2 L532.71 64.8 L531.33 63.89 L529.94 64.8 L530.39 63.2 L529.09 62.17 L530.74 62.1ZM536.17 60.55 L536.76 62.1 L538.41 62.17 L537.11 63.2 L537.56 64.8 L536.17 63.89 L534.79 64.8 L535.24 63.2 L533.94 62.17 L535.59 62.1Z" fill="#c8650c"/>
<path d="M552.12 67.55 L552.71 69.1 L554.36 69.17 L553.06 70.2 L553.51 71.8 L552.12 70.89 L550.74 71.8 L551.19 70.2 L549.89 69.17 L551.54 69.1ZM556.98 67.55 L557.56 69.1 L559.21 69.17 L557.91 70.2 L558.36 71.8 L556.98 70.89 L555.59 71.8 L556.04 70.2 L554.74 69.17 L556.39 69.1ZM561.83 67.55 L562.41 69.1 L564.06 69.17 L562.76 70.2 L563.21 71.8 L561.83 70.89 L560.44 71.8 L560.89 70.2 L559.59 69.17 L561.24 69.1ZM566.67 67.55 L567.26 69.1 L568.91 69.17 L567.61 70.2 L568.06 71.8 L566.67 70.89 L565.29 71.8 L565.74 70.2 L564.44 69.17 L566.09 69.1Z" fill="#c8650c"/>
<path d="M583.33 71.05 L583.91 72.6 L585.56 72.67 L584.26 73.7 L584.71 75.3 L583.33 74.39 L581.94 75.3 L582.39 73.7 L581.09 72.67 L582.74 72.6ZM588.18 71.05 L588.76 72.6 L590.41 72.67 L589.11 73.7 L589.56 75.3 L588.18 74.39 L586.79 75.3 L587.24 73.7 L585.94 72.67 L587.59 72.6ZM593.03 71.05 L593.61 72.6 L595.26 72.67 L593.96 73.7 L594.41 75.3 L593.03 74.39 L591.64 75.3 L592.09 73.7 L590.79 72.67 L592.44 72.6ZM597.88 71.05 L598.46 72.6 L600.11 72.67 L598.81 73.7 L599.26 75.3 L597.88 74.39 L596.49 75.3 L596.94 73.7 L595.64 72.67 L597.29 72.6Z" fill="#c8650c"/>
<text x="17.9" y="73.5" font-size="9" text-anchor="middle" textLength="18.9" lengthAdjust="spacingAndGlyphs" transform="rotate(-90 17.9 73.5)">Titre</text>
<text x="29.2" y="73.6" font-size="9" text-anchor="middle" textLength="74" lengthAdjust="spacingAndGlyphs" transform="rotate(-90 29.2 73.6)">(log<tspan font-size="6" dy="1.6">10</tspan><tspan dy="-1.6"> TCID</tspan><tspan font-size="6" dy="1.6">50</tspan><tspan dy="-1.6"> ml</tspan><tspan font-size="6" dy="-3">−1</tspan><tspan dy="3">)</tspan></text>
<circle cx="611" cy="55.7" r="2.5" fill="#000000"/>
<text x="619.9" y="59" font-size="9.5" textLength="54.4" lengthAdjust="spacingAndGlyphs">Hendra horse</text>
<circle cx="611" cy="70.2" r="2.5" fill="#8f99d6"/>
<text x="619.9" y="73.5" font-size="9.5" textLength="39.9" lengthAdjust="spacingAndGlyphs">Hendra 71</text>
<circle cx="611" cy="84.7" r="2.5" fill="#ee7c93"/>
<text x="619.9" y="88" font-size="9.5" textLength="42.2" lengthAdjust="spacingAndGlyphs">Hendra 84</text>
<circle cx="611" cy="99.2" r="2.5" fill="#c8650c"/>
<text x="619.9" y="102.5" font-size="9.5" textLength="23.8" lengthAdjust="spacingAndGlyphs">Cedar</text>
<text x="0" y="177.2" font-size="12.5" fill="#000" font-weight="bold" style="stroke:#000;stroke-width:0.7px">b</text>
<text x="248.4" y="176.6" font-size="12" fill="#000" font-weight="bold" style="stroke:#000;stroke-width:0.7px">c</text>
<text x="447.6" y="177.1" font-size="12.8" fill="#000" font-weight="bold" style="stroke:#000;stroke-width:0.7px">d</text>
<line x1="69.6" y1="183" x2="69.6" y2="265.4" stroke="#8a8a8a" stroke-width="1"/>
<line x1="69.1" y1="264.9" x2="192.5" y2="264.9" stroke="#8a8a8a" stroke-width="1"/>
<line x1="66.6" y1="264.9" x2="69.6" y2="264.9" stroke="#8a8a8a" stroke-width="1"/>
<text x="62.7" y="267.75" font-size="7.9" text-anchor="end" textLength="7.88" lengthAdjust="spacingAndGlyphs">−2</text>
<line x1="66.6" y1="248.52" x2="69.6" y2="248.52" stroke="#8a8a8a" stroke-width="1"/>
<text x="62.7" y="251.37" font-size="7.9" text-anchor="end" textLength="7.88" lengthAdjust="spacingAndGlyphs">−1</text>
<line x1="66.6" y1="232.14" x2="69.6" y2="232.14" stroke="#8a8a8a" stroke-width="1"/>
<text x="62.7" y="234.99" font-size="7.9" text-anchor="end" textLength="4.5" lengthAdjust="spacingAndGlyphs">0</text>
<line x1="66.6" y1="215.76" x2="69.6" y2="215.76" stroke="#8a8a8a" stroke-width="1"/>
<text x="62.7" y="218.61" font-size="7.9" text-anchor="end" textLength="4.5" lengthAdjust="spacingAndGlyphs">1</text>
<line x1="66.6" y1="199.38" x2="69.6" y2="199.38" stroke="#8a8a8a" stroke-width="1"/>
<text x="62.7" y="202.23" font-size="7.9" text-anchor="end" textLength="4.5" lengthAdjust="spacingAndGlyphs">2</text>
<line x1="66.6" y1="183" x2="69.6" y2="183" stroke="#8a8a8a" stroke-width="1"/>
<text x="62.7" y="185.85" font-size="7.9" text-anchor="end" textLength="4.5" lengthAdjust="spacingAndGlyphs">3</text>
<text x="131.5" y="176.2" font-size="9" text-anchor="middle" font-style="italic" textLength="20.5" lengthAdjust="spacingAndGlyphs">Ifnb1</text>
<line x1="99.3" y1="264.9" x2="99.3" y2="268.1" stroke="#8a8a8a" stroke-width="1"/>
<text x="99.3" y="279.11" font-size="7.8" text-anchor="middle" textLength="8.8" lengthAdjust="spacingAndGlyphs">72</text>
<line x1="163" y1="264.9" x2="163" y2="268.1" stroke="#8a8a8a" stroke-width="1"/>
<text x="163" y="279.11" font-size="7.8" text-anchor="middle" textLength="8.8" lengthAdjust="spacingAndGlyphs">96</text>
<text x="131.3" y="291.1" font-size="9.3" text-anchor="middle" textLength="91" lengthAdjust="spacingAndGlyphs">Time post infection (h)</text>
<line x1="74.85" y1="232.14" x2="82.65" y2="232.14" stroke="#000000" stroke-width="1.4"/>
<circle cx="78.75" cy="228.86" r="1.75" fill="#000000"/>
<circle cx="82.25" cy="232.63" r="1.75" fill="#000000"/>
<circle cx="76.55" cy="235.74" r="1.75" fill="#000000"/>
<rect x="88.55" y="231.81" width="7.8" height="0.33" fill="#e2e4f5" stroke="#8f99d6" stroke-width="1.4"/>
<line x1="88.55" y1="231.81" x2="96.35" y2="231.81" stroke="#8f99d6" stroke-width="1.4"/>
<circle cx="89.55" cy="232.14" r="1.75" fill="#8f99d6"/>
<circle cx="92.45" cy="230.83" r="1.75" fill="#8f99d6"/>
<circle cx="95.35" cy="232.14" r="1.75" fill="#8f99d6"/>
<rect x="102.25" y="232.14" width="7.8" height="12.61" fill="#fad9e0" stroke="#ee7c93" stroke-width="1.4"/>
<line x1="102.25" y1="244.75" x2="110.05" y2="244.75" stroke="#ee7c93" stroke-width="1.4"/>
<line x1="106.15" y1="237.87" x2="106.15" y2="250.98" stroke="#333" stroke-width="0.8"/>
<line x1="104.35" y1="237.87" x2="107.95" y2="237.87" stroke="#333" stroke-width="0.8"/>
<line x1="104.35" y1="250.98" x2="107.95" y2="250.98" stroke="#333" stroke-width="0.8"/>
<circle cx="103.55" cy="241.97" r="1.75" fill="#ee7c93"/>
<circle cx="106.15" cy="251.63" r="1.75" fill="#ee7c93"/>
<circle cx="108.75" cy="244.42" r="1.75" fill="#ee7c93"/>
<rect x="115.95" y="194.96" width="7.8" height="37.18" fill="#f1d2b3" stroke="#c8650c" stroke-width="1.4"/>
<line x1="115.95" y1="194.96" x2="123.75" y2="194.96" stroke="#c8650c" stroke-width="1.4"/>
<circle cx="117.25" cy="193.65" r="1.75" fill="#c8650c"/>
<circle cx="119.85" cy="194.47" r="1.75" fill="#c8650c"/>
<circle cx="122.45" cy="195.78" r="1.75" fill="#c8650c"/>
<line x1="138.62" y1="232.14" x2="146.43" y2="232.14" stroke="#000000" stroke-width="1.4"/>
<circle cx="139.93" cy="231.81" r="1.75" fill="#000000"/>
<circle cx="142.53" cy="231.32" r="1.75" fill="#000000"/>
<circle cx="145.12" cy="232.14" r="1.75" fill="#000000"/>
<rect x="152.28" y="232.14" width="7.8" height="4.91" fill="#e2e4f5" stroke="#8f99d6" stroke-width="1.4"/>
<line x1="152.28" y1="237.05" x2="160.08" y2="237.05" stroke="#8f99d6" stroke-width="1.4"/>
<circle cx="153.58" cy="236.23" r="1.75" fill="#8f99d6"/>
<circle cx="156.18" cy="237.87" r="1.75" fill="#8f99d6"/>
<circle cx="158.78" cy="237.05" r="1.75" fill="#8f99d6"/>
<rect x="165.92" y="232.14" width="7.8" height="16.05" fill="#fad9e0" stroke="#ee7c93" stroke-width="1.4"/>
<line x1="165.92" y1="248.19" x2="173.72" y2="248.19" stroke="#ee7c93" stroke-width="1.4"/>
<circle cx="167.22" cy="247.21" r="1.75" fill="#ee7c93"/>
<circle cx="169.82" cy="248.85" r="1.75" fill="#ee7c93"/>
<circle cx="172.42" cy="247.7" r="1.75" fill="#ee7c93"/>
<rect x="179.57" y="199.38" width="7.8" height="32.76" fill="#f1d2b3" stroke="#c8650c" stroke-width="1.4"/>
<line x1="179.57" y1="199.38" x2="187.38" y2="199.38" stroke="#c8650c" stroke-width="1.4"/>
<circle cx="180.88" cy="197.74" r="1.75" fill="#c8650c"/>
<circle cx="183.47" cy="199.38" r="1.75" fill="#c8650c"/>
<circle cx="186.07" cy="199.87" r="1.75" fill="#c8650c"/>
<line x1="66.6" y1="232.14" x2="192.5" y2="232.14" stroke="#111" stroke-width="1"/>
<polyline points="78.75,224.5 78.75,221.4 92.45,221.4 92.45,226.7" fill="none" stroke="#3a3a3a" stroke-width="0.95" stroke-linejoin="round" stroke-linejoin="miter"/>
<text x="85.8" y="217.55" font-size="9.2" text-anchor="middle" textLength="11.6" lengthAdjust="spacingAndGlyphs">NS</text>
<polyline points="78.75,211.8 78.75,209.7 106.15,209.7 106.15,227.2" fill="none" stroke="#3a3a3a" stroke-width="0.95" stroke-linejoin="round" stroke-linejoin="miter"/>
<path d="M88.2 201.05 L88.78 202.6 L90.43 202.67 L89.14 203.7 L89.58 205.3 L88.2 204.39 L86.82 205.3 L87.26 203.7 L85.97 202.67 L87.62 202.6ZM93.05 201.05 L93.63 202.6 L95.28 202.67 L93.99 203.7 L94.43 205.3 L93.05 204.39 L91.67 205.3 L92.11 203.7 L90.82 202.67 L92.47 202.6ZM97.9 201.05 L98.48 202.6 L100.13 202.67 L98.84 203.7 L99.28 205.3 L97.9 204.39 L96.52 205.3 L96.96 203.7 L95.67 202.67 L97.32 202.6Z" fill="#333"/>
<polyline points="78.75,203.9 78.75,188.3 119.85,188.3 119.85,192.5" fill="none" stroke="#3a3a3a" stroke-width="0.95" stroke-linejoin="round" stroke-linejoin="miter"/>
<path d="M92.62 179.95 L93.21 181.5 L94.86 181.57 L93.56 182.6 L94.01 184.2 L92.62 183.29 L91.24 184.2 L91.69 182.6 L90.39 181.57 L92.04 181.5ZM97.47 179.95 L98.06 181.5 L99.71 181.57 L98.41 182.6 L98.86 184.2 L97.47 183.29 L96.09 184.2 L96.54 182.6 L95.24 181.57 L96.89 181.5ZM102.32 179.95 L102.91 181.5 L104.56 181.57 L103.26 182.6 L103.71 184.2 L102.32 183.29 L100.94 184.2 L101.39 182.6 L100.09 181.57 L101.74 181.5ZM107.17 179.95 L107.76 181.5 L109.41 181.57 L108.11 182.6 L108.56 184.2 L107.17 183.29 L105.79 184.2 L106.24 182.6 L104.94 181.57 L106.59 181.5Z" fill="#333"/>
<polyline points="142.53,224 142.53,220.7 156.18,220.7 156.18,227.2" fill="none" stroke="#3a3a3a" stroke-width="0.95" stroke-linejoin="round" stroke-linejoin="miter"/>
<text x="149.55" y="216.65" font-size="9.2" text-anchor="middle" textLength="11.6" lengthAdjust="spacingAndGlyphs">NS</text>
<polyline points="142.53,207.9 142.53,205.3 169.82,205.3 169.82,227.2" fill="none" stroke="#3a3a3a" stroke-width="0.95" stroke-linejoin="round" stroke-linejoin="miter"/>
<path d="M149.5 196.75 L150.08 198.3 L151.73 198.37 L150.44 199.4 L150.88 201 L149.5 200.09 L148.12 201 L148.56 199.4 L147.27 198.37 L148.92 198.3ZM154.35 196.75 L154.93 198.3 L156.58 198.37 L155.29 199.4 L155.73 201 L154.35 200.09 L152.97 201 L153.41 199.4 L152.12 198.37 L153.77 198.3ZM159.2 196.75 L159.78 198.3 L161.43 198.37 L160.14 199.4 L160.58 201 L159.2 200.09 L157.82 201 L158.26 199.4 L156.97 198.37 L158.62 198.3ZM164.05 196.75 L164.63 198.3 L166.28 198.37 L164.99 199.4 L165.43 201 L164.05 200.09 L162.67 201 L163.11 199.4 L161.82 198.37 L163.47 198.3Z" fill="#333"/>
<polyline points="142.53,192.7 142.53,187.4 183.47,187.4 183.47,192.7" fill="none" stroke="#3a3a3a" stroke-width="0.95" stroke-linejoin="round" stroke-linejoin="miter"/>
<path d="M156.32 179.15 L156.91 180.7 L158.56 180.77 L157.26 181.8 L157.71 183.4 L156.32 182.49 L154.94 183.4 L155.39 181.8 L154.09 180.77 L155.74 180.7ZM161.17 179.15 L161.76 180.7 L163.41 180.77 L162.11 181.8 L162.56 183.4 L161.17 182.49 L159.79 183.4 L160.24 181.8 L158.94 180.77 L160.59 180.7ZM166.02 179.15 L166.61 180.7 L168.26 180.77 L166.96 181.8 L167.41 183.4 L166.02 182.49 L164.64 183.4 L165.09 181.8 L163.79 180.77 L165.44 180.7ZM170.88 179.15 L171.46 180.7 L173.11 180.77 L171.81 181.8 L172.26 183.4 L170.88 182.49 L169.49 183.4 L169.94 181.8 L168.64 180.77 L170.29 180.7Z" fill="#333"/>
<line x1="69.4" y1="309.3" x2="69.4" y2="392.8" stroke="#8a8a8a" stroke-width="1"/>
<line x1="68.9" y1="392.3" x2="193.9" y2="392.3" stroke="#8a8a8a" stroke-width="1"/>
<line x1="66.4" y1="392.3" x2="69.4" y2="392.3" stroke="#8a8a8a" stroke-width="1"/>
<text x="62.5" y="395.15" font-size="7.9" text-anchor="end" textLength="7.88" lengthAdjust="spacingAndGlyphs">−2</text>
<line x1="66.4" y1="375.7" x2="69.4" y2="375.7" stroke="#8a8a8a" stroke-width="1"/>
<text x="62.5" y="378.55" font-size="7.9" text-anchor="end" textLength="7.88" lengthAdjust="spacingAndGlyphs">−1</text>
<line x1="66.4" y1="359.1" x2="69.4" y2="359.1" stroke="#8a8a8a" stroke-width="1"/>
<text x="62.5" y="361.95" font-size="7.9" text-anchor="end" textLength="4.5" lengthAdjust="spacingAndGlyphs">0</text>
<line x1="66.4" y1="342.5" x2="69.4" y2="342.5" stroke="#8a8a8a" stroke-width="1"/>
<text x="62.5" y="345.35" font-size="7.9" text-anchor="end" textLength="4.5" lengthAdjust="spacingAndGlyphs">1</text>
<line x1="66.4" y1="325.9" x2="69.4" y2="325.9" stroke="#8a8a8a" stroke-width="1"/>
<text x="62.5" y="328.75" font-size="7.9" text-anchor="end" textLength="4.5" lengthAdjust="spacingAndGlyphs">2</text>
<line x1="66.4" y1="309.3" x2="69.4" y2="309.3" stroke="#8a8a8a" stroke-width="1"/>
<text x="62.5" y="312.15" font-size="7.9" text-anchor="end" textLength="4.5" lengthAdjust="spacingAndGlyphs">3</text>
<text x="131" y="307.8" font-size="9" text-anchor="middle" font-style="italic" textLength="13.5" lengthAdjust="spacingAndGlyphs">Il-6</text>
<line x1="99.9" y1="392.3" x2="99.9" y2="395.5" stroke="#8a8a8a" stroke-width="1"/>
<text x="99.9" y="406.31" font-size="7.8" text-anchor="middle" textLength="8.8" lengthAdjust="spacingAndGlyphs">72</text>
<line x1="164.1" y1="392.3" x2="164.1" y2="395.5" stroke="#8a8a8a" stroke-width="1"/>
<text x="164.1" y="406.31" font-size="7.8" text-anchor="middle" textLength="8.8" lengthAdjust="spacingAndGlyphs">96</text>
<text x="131.2" y="416.8" font-size="9.3" text-anchor="middle" textLength="101.6" lengthAdjust="spacingAndGlyphs">Time post inoculation (h)</text>
<rect x="74.7" y="358.27" width="7.8" height="0.83" fill="#a9a9a9" stroke="#000000" stroke-width="1.4"/>
<line x1="74.7" y1="358.27" x2="82.5" y2="358.27" stroke="#000000" stroke-width="1.4"/>
<circle cx="76" cy="355.78" r="1.75" fill="#000000"/>
<circle cx="78.6" cy="359.1" r="1.75" fill="#000000"/>
<circle cx="81.2" cy="361.59" r="1.75" fill="#000000"/>
<rect x="88.9" y="359.1" width="7.8" height="5.81" fill="#e2e4f5" stroke="#8f99d6" stroke-width="1.4"/>
<line x1="88.9" y1="364.91" x2="96.7" y2="364.91" stroke="#8f99d6" stroke-width="1.4"/>
<line x1="92.8" y1="362.42" x2="92.8" y2="367.4" stroke="#333" stroke-width="0.8"/>
<line x1="91" y1="362.42" x2="94.6" y2="362.42" stroke="#333" stroke-width="0.8"/>
<line x1="91" y1="367.4" x2="94.6" y2="367.4" stroke="#333" stroke-width="0.8"/>
<circle cx="90.2" cy="364.08" r="1.75" fill="#8f99d6"/>
<circle cx="92.8" cy="365.74" r="1.75" fill="#8f99d6"/>
<circle cx="95.4" cy="369.89" r="1.75" fill="#8f99d6"/>
<rect x="103.1" y="359.1" width="7.8" height="23.41" fill="#fad9e0" stroke="#ee7c93" stroke-width="1.4"/>
<line x1="103.1" y1="382.51" x2="110.9" y2="382.51" stroke="#ee7c93" stroke-width="1.4"/>
<line x1="107" y1="379.85" x2="107" y2="385.66" stroke="#333" stroke-width="0.8"/>
<line x1="105.2" y1="379.85" x2="108.8" y2="379.85" stroke="#333" stroke-width="0.8"/>
<line x1="105.2" y1="385.66" x2="108.8" y2="385.66" stroke="#333" stroke-width="0.8"/>
<circle cx="104.4" cy="379.02" r="1.75" fill="#ee7c93"/>
<circle cx="107" cy="384" r="1.75" fill="#ee7c93"/>
<circle cx="109.6" cy="384.83" r="1.75" fill="#ee7c93"/>
<rect x="117.3" y="331.54" width="7.8" height="27.56" fill="#f1d2b3" stroke="#c8650c" stroke-width="1.4"/>
<line x1="117.3" y1="331.54" x2="125.1" y2="331.54" stroke="#c8650c" stroke-width="1.4"/>
<circle cx="118.6" cy="330.88" r="1.75" fill="#c8650c"/>
<circle cx="121.2" cy="331.71" r="1.75" fill="#c8650c"/>
<circle cx="123.8" cy="330.88" r="1.75" fill="#c8650c"/>
<line x1="138.9" y1="359.1" x2="146.7" y2="359.1" stroke="#000000" stroke-width="1.4"/>
<circle cx="140.2" cy="358.27" r="1.75" fill="#000000"/>
<circle cx="142.8" cy="359.1" r="1.75" fill="#000000"/>
<circle cx="145.4" cy="359.93" r="1.75" fill="#000000"/>
<rect x="153.1" y="359.1" width="7.8" height="4.15" fill="#e2e4f5" stroke="#8f99d6" stroke-width="1.4"/>
<line x1="153.1" y1="363.25" x2="160.9" y2="363.25" stroke="#8f99d6" stroke-width="1.4"/>
<line x1="157" y1="361.59" x2="157" y2="364.91" stroke="#333" stroke-width="0.8"/>
<line x1="155.2" y1="361.59" x2="158.8" y2="361.59" stroke="#333" stroke-width="0.8"/>
<line x1="155.2" y1="364.91" x2="158.8" y2="364.91" stroke="#333" stroke-width="0.8"/>
<circle cx="154.4" cy="362.42" r="1.75" fill="#8f99d6"/>
<circle cx="157" cy="364.91" r="1.75" fill="#8f99d6"/>
<circle cx="159.6" cy="365.74" r="1.75" fill="#8f99d6"/>
<rect x="167.3" y="359.1" width="7.8" height="21.41" fill="#fad9e0" stroke="#ee7c93" stroke-width="1.4"/>
<line x1="167.3" y1="380.51" x2="175.1" y2="380.51" stroke="#ee7c93" stroke-width="1.4"/>
<line x1="171.2" y1="373.21" x2="171.2" y2="388.15" stroke="#333" stroke-width="0.8"/>
<line x1="169.4" y1="373.21" x2="173" y2="373.21" stroke="#333" stroke-width="0.8"/>
<line x1="169.4" y1="388.15" x2="173" y2="388.15" stroke="#333" stroke-width="0.8"/>
<circle cx="168.6" cy="375.7" r="1.75" fill="#ee7c93"/>
<circle cx="171.2" cy="388.15" r="1.75" fill="#ee7c93"/>
<circle cx="173.8" cy="379.02" r="1.75" fill="#ee7c93"/>
<rect x="181.5" y="326.4" width="7.8" height="32.7" fill="#f1d2b3" stroke="#c8650c" stroke-width="1.4"/>
<line x1="181.5" y1="326.4" x2="189.3" y2="326.4" stroke="#c8650c" stroke-width="1.4"/>
<line x1="185.4" y1="327.56" x2="185.4" y2="324.74" stroke="#333" stroke-width="0.8"/>
<line x1="183.6" y1="327.56" x2="187.2" y2="327.56" stroke="#333" stroke-width="0.8"/>
<line x1="183.6" y1="324.74" x2="187.2" y2="324.74" stroke="#333" stroke-width="0.8"/>
<circle cx="182.8" cy="323.91" r="1.75" fill="#c8650c"/>
<circle cx="185.4" cy="326.73" r="1.75" fill="#c8650c"/>
<circle cx="188" cy="325.9" r="1.75" fill="#c8650c"/>
<line x1="66.4" y1="359.1" x2="193.9" y2="359.1" stroke="#111" stroke-width="1"/>
<polyline points="78.6,352.8 78.6,350.6 92.8,350.6 92.8,353.2" fill="none" stroke="#3a3a3a" stroke-width="0.95" stroke-linejoin="round" stroke-linejoin="miter"/>
<path d="M86.3 343.55 L86.88 345.1 L88.53 345.17 L87.24 346.2 L87.68 347.8 L86.3 346.89 L84.92 347.8 L85.36 346.2 L84.07 345.17 L85.72 345.1Z" fill="#333"/>
<polyline points="78.6,340.6 78.6,338.5 107,338.5 107,354.3" fill="none" stroke="#3a3a3a" stroke-width="0.95" stroke-linejoin="round" stroke-linejoin="miter"/>
<path d="M86.12 331.05 L86.71 332.6 L88.36 332.67 L87.06 333.7 L87.51 335.3 L86.12 334.39 L84.74 335.3 L85.19 333.7 L83.89 332.67 L85.54 332.6ZM90.97 331.05 L91.56 332.6 L93.21 332.67 L91.91 333.7 L92.36 335.3 L90.97 334.39 L89.59 335.3 L90.04 333.7 L88.74 332.67 L90.39 332.6ZM95.83 331.05 L96.41 332.6 L98.06 332.67 L96.76 333.7 L97.21 335.3 L95.83 334.39 L94.44 335.3 L94.89 333.7 L93.59 332.67 L95.24 332.6ZM100.67 331.05 L101.26 332.6 L102.91 332.67 L101.61 333.7 L102.06 335.3 L100.67 334.39 L99.29 335.3 L99.74 333.7 L98.44 332.67 L100.09 332.6Z" fill="#333"/>
<polyline points="78.6,327.8 78.6,325.7 121.2,325.7 121.2,330" fill="none" stroke="#3a3a3a" stroke-width="0.95" stroke-linejoin="round" stroke-linejoin="miter"/>
<path d="M93.22 318.35 L93.81 319.9 L95.46 319.97 L94.16 321 L94.61 322.6 L93.22 321.69 L91.84 322.6 L92.29 321 L90.99 319.97 L92.64 319.9ZM98.07 318.35 L98.66 319.9 L100.31 319.97 L99.01 321 L99.46 322.6 L98.07 321.69 L96.69 322.6 L97.14 321 L95.84 319.97 L97.49 319.9ZM102.92 318.35 L103.51 319.9 L105.16 319.97 L103.86 321 L104.31 322.6 L102.92 321.69 L101.54 322.6 L101.99 321 L100.69 319.97 L102.34 319.9ZM107.77 318.35 L108.36 319.9 L110.01 319.97 L108.71 321 L109.16 322.6 L107.77 321.69 L106.39 322.6 L106.84 321 L105.54 319.97 L107.19 319.9Z" fill="#333"/>
<polyline points="142.8,352.5 142.8,350.2 157,350.2 157,353.2" fill="none" stroke="#3a3a3a" stroke-width="0.95" stroke-linejoin="round" stroke-linejoin="miter"/>
<text x="150.1" y="346.35" font-size="9.2" text-anchor="middle" textLength="11.6" lengthAdjust="spacingAndGlyphs">NS</text>
<polyline points="142.8,335.5 142.8,333.2 171.2,333.2 171.2,354" fill="none" stroke="#3a3a3a" stroke-width="0.95" stroke-linejoin="round" stroke-linejoin="miter"/>
<path d="M150.32 326.05 L150.91 327.6 L152.56 327.67 L151.26 328.7 L151.71 330.3 L150.32 329.39 L148.94 330.3 L149.39 328.7 L148.09 327.67 L149.74 327.6ZM155.17 326.05 L155.76 327.6 L157.41 327.67 L156.11 328.7 L156.56 330.3 L155.17 329.39 L153.79 330.3 L154.24 328.7 L152.94 327.67 L154.59 327.6ZM160.02 326.05 L160.61 327.6 L162.26 327.67 L160.96 328.7 L161.41 330.3 L160.02 329.39 L158.64 330.3 L159.09 328.7 L157.79 327.67 L159.44 327.6ZM164.88 326.05 L165.46 327.6 L167.11 327.67 L165.81 328.7 L166.26 330.3 L164.88 329.39 L163.49 330.3 L163.94 328.7 L162.64 327.67 L164.29 327.6Z" fill="#333"/>
<polyline points="142.8,321.8 142.8,319.5 185.4,319.5 185.4,325" fill="none" stroke="#3a3a3a" stroke-width="0.95" stroke-linejoin="round" stroke-linejoin="miter"/>
<path d="M157.42 312.05 L158.01 313.6 L159.66 313.67 L158.36 314.7 L158.81 316.3 L157.42 315.39 L156.04 316.3 L156.49 314.7 L155.19 313.67 L156.84 313.6ZM162.27 312.05 L162.86 313.6 L164.51 313.67 L163.21 314.7 L163.66 316.3 L162.27 315.39 L160.89 316.3 L161.34 314.7 L160.04 313.67 L161.69 313.6ZM167.12 312.05 L167.71 313.6 L169.36 313.67 L168.06 314.7 L168.51 316.3 L167.12 315.39 L165.74 316.3 L166.19 314.7 L164.89 313.67 L166.54 313.6ZM171.97 312.05 L172.56 313.6 L174.21 313.67 L172.91 314.7 L173.36 316.3 L171.97 315.39 L170.59 316.3 L171.04 314.7 L169.74 313.67 L171.39 313.6Z" fill="#333"/>
<line x1="69.2" y1="443.4" x2="69.2" y2="523.8" stroke="#8a8a8a" stroke-width="1"/>
<line x1="68.7" y1="523.3" x2="190.2" y2="523.3" stroke="#8a8a8a" stroke-width="1"/>
<line x1="66.2" y1="523.3" x2="69.2" y2="523.3" stroke="#8a8a8a" stroke-width="1"/>
<text x="62.3" y="526.15" font-size="7.9" text-anchor="end" textLength="7.88" lengthAdjust="spacingAndGlyphs">−1</text>
<line x1="66.2" y1="507.32" x2="69.2" y2="507.32" stroke="#8a8a8a" stroke-width="1"/>
<text x="62.3" y="510.17" font-size="7.9" text-anchor="end" textLength="4.5" lengthAdjust="spacingAndGlyphs">0</text>
<line x1="66.2" y1="491.34" x2="69.2" y2="491.34" stroke="#8a8a8a" stroke-width="1"/>
<text x="62.3" y="494.19" font-size="7.9" text-anchor="end" textLength="4.5" lengthAdjust="spacingAndGlyphs">1</text>
<line x1="66.2" y1="475.36" x2="69.2" y2="475.36" stroke="#8a8a8a" stroke-width="1"/>
<text x="62.3" y="478.21" font-size="7.9" text-anchor="end" textLength="4.5" lengthAdjust="spacingAndGlyphs">2</text>
<line x1="66.2" y1="459.38" x2="69.2" y2="459.38" stroke="#8a8a8a" stroke-width="1"/>
<text x="62.3" y="462.23" font-size="7.9" text-anchor="end" textLength="4.5" lengthAdjust="spacingAndGlyphs">3</text>
<line x1="66.2" y1="443.4" x2="69.2" y2="443.4" stroke="#8a8a8a" stroke-width="1"/>
<text x="62.3" y="446.25" font-size="7.9" text-anchor="end" textLength="4.5" lengthAdjust="spacingAndGlyphs">4</text>
<text x="130.3" y="435" font-size="9" text-anchor="middle" font-style="italic" textLength="15.8" lengthAdjust="spacingAndGlyphs">Ifit1</text>
<line x1="98.1" y1="523.3" x2="98.1" y2="526.5" stroke="#8a8a8a" stroke-width="1"/>
<text x="98.1" y="535.91" font-size="7.8" text-anchor="middle" textLength="8.8" lengthAdjust="spacingAndGlyphs">72</text>
<line x1="160.8" y1="523.3" x2="160.8" y2="526.5" stroke="#8a8a8a" stroke-width="1"/>
<text x="160.8" y="535.91" font-size="7.8" text-anchor="middle" textLength="8.8" lengthAdjust="spacingAndGlyphs">96</text>
<text x="130.8" y="548.6" font-size="9.3" text-anchor="middle" textLength="91" lengthAdjust="spacingAndGlyphs">Time post infection (h)</text>
<line x1="74.1" y1="507.32" x2="81.9" y2="507.32" stroke="#000000" stroke-width="1.4"/>
<circle cx="75.4" cy="507" r="1.75" fill="#000000"/>
<circle cx="78" cy="506.52" r="1.75" fill="#000000"/>
<circle cx="80.6" cy="507.8" r="1.75" fill="#000000"/>
<rect x="87.5" y="506.52" width="7.8" height="0.8" fill="#e2e4f5" stroke="#8f99d6" stroke-width="1.4"/>
<line x1="87.5" y1="506.52" x2="95.3" y2="506.52" stroke="#8f99d6" stroke-width="1.4"/>
<circle cx="88.8" cy="504.92" r="1.75" fill="#8f99d6"/>
<circle cx="91.4" cy="508.12" r="1.75" fill="#8f99d6"/>
<circle cx="94" cy="506.52" r="1.75" fill="#8f99d6"/>
<rect x="100.9" y="492.14" width="7.8" height="15.18" fill="#fad9e0" stroke="#ee7c93" stroke-width="1.4"/>
<line x1="100.9" y1="492.14" x2="108.7" y2="492.14" stroke="#ee7c93" stroke-width="1.4"/>
<line x1="104.8" y1="496.13" x2="104.8" y2="488.14" stroke="#333" stroke-width="0.8"/>
<line x1="103" y1="496.13" x2="106.6" y2="496.13" stroke="#333" stroke-width="0.8"/>
<line x1="103" y1="488.14" x2="106.6" y2="488.14" stroke="#333" stroke-width="0.8"/>
<circle cx="102.2" cy="488.94" r="1.75" fill="#ee7c93"/>
<circle cx="104.8" cy="492.14" r="1.75" fill="#ee7c93"/>
<circle cx="107.4" cy="496.13" r="1.75" fill="#ee7c93"/>
<rect x="114.3" y="449.79" width="7.8" height="57.53" fill="#f1d2b3" stroke="#c8650c" stroke-width="1.4"/>
<line x1="114.3" y1="449.79" x2="122.1" y2="449.79" stroke="#c8650c" stroke-width="1.4"/>
<circle cx="115.6" cy="449.47" r="1.75" fill="#c8650c"/>
<circle cx="118.2" cy="449.79" r="1.75" fill="#c8650c"/>
<circle cx="120.8" cy="449.79" r="1.75" fill="#c8650c"/>
<line x1="136.65" y1="507.32" x2="144.45" y2="507.32" stroke="#000000" stroke-width="1.4"/>
<circle cx="137.95" cy="506.84" r="1.75" fill="#000000"/>
<circle cx="140.55" cy="507.32" r="1.75" fill="#000000"/>
<circle cx="143.15" cy="507" r="1.75" fill="#000000"/>
<rect x="150.15" y="507.32" width="7.8" height="6.39" fill="#e2e4f5" stroke="#8f99d6" stroke-width="1.4"/>
<line x1="150.15" y1="513.71" x2="157.95" y2="513.71" stroke="#8f99d6" stroke-width="1.4"/>
<circle cx="151.45" cy="513.39" r="1.75" fill="#8f99d6"/>
<circle cx="154.05" cy="514.03" r="1.75" fill="#8f99d6"/>
<circle cx="156.65" cy="513.71" r="1.75" fill="#8f99d6"/>
<rect x="163.65" y="507.32" width="7.8" height="12.46" fill="#fad9e0" stroke="#ee7c93" stroke-width="1.4"/>
<line x1="163.65" y1="519.78" x2="171.45" y2="519.78" stroke="#ee7c93" stroke-width="1.4"/>
<circle cx="164.95" cy="519.3" r="1.75" fill="#ee7c93"/>
<circle cx="167.55" cy="520.1" r="1.75" fill="#ee7c93"/>
<circle cx="170.15" cy="519.62" r="1.75" fill="#ee7c93"/>
<rect x="177.15" y="460.98" width="7.8" height="46.34" fill="#f1d2b3" stroke="#c8650c" stroke-width="1.4"/>
<line x1="177.15" y1="460.98" x2="184.95" y2="460.98" stroke="#c8650c" stroke-width="1.4"/>
<line x1="181.05" y1="464.97" x2="181.05" y2="456.98" stroke="#333" stroke-width="0.8"/>
<line x1="179.25" y1="464.97" x2="182.85" y2="464.97" stroke="#333" stroke-width="0.8"/>
<line x1="179.25" y1="456.98" x2="182.85" y2="456.98" stroke="#333" stroke-width="0.8"/>
<circle cx="178.45" cy="456.98" r="1.75" fill="#c8650c"/>
<circle cx="181.05" cy="459.38" r="1.75" fill="#c8650c"/>
<circle cx="183.65" cy="465.77" r="1.75" fill="#c8650c"/>
<line x1="66.2" y1="507.32" x2="190.2" y2="507.32" stroke="#111" stroke-width="1"/>
<polyline points="78,497 78,494.5 91.4,494.5 91.4,497.5" fill="none" stroke="#3a3a3a" stroke-width="0.95" stroke-linejoin="round" stroke-linejoin="miter"/>
<text x="84.9" y="489.95" font-size="9.2" text-anchor="middle" textLength="11.6" lengthAdjust="spacingAndGlyphs">NS</text>
<polyline points="78,484 78,482.6 104.8,482.6 104.8,484" fill="none" stroke="#3a3a3a" stroke-width="0.95" stroke-linejoin="round" stroke-linejoin="miter"/>
<path d="M84.72 476.05 L85.31 477.6 L86.96 477.67 L85.66 478.7 L86.11 480.3 L84.72 479.39 L83.34 480.3 L83.79 478.7 L82.49 477.67 L84.14 477.6ZM89.57 476.05 L90.16 477.6 L91.81 477.67 L90.51 478.7 L90.96 480.3 L89.57 479.39 L88.19 480.3 L88.64 478.7 L87.34 477.67 L88.99 477.6ZM94.42 476.05 L95.01 477.6 L96.66 477.67 L95.36 478.7 L95.81 480.3 L94.42 479.39 L93.04 480.3 L93.49 478.7 L92.19 477.67 L93.84 477.6ZM99.27 476.05 L99.86 477.6 L101.51 477.67 L100.21 478.7 L100.66 480.3 L99.27 479.39 L97.89 480.3 L98.34 478.7 L97.04 477.67 L98.69 477.6Z" fill="#333"/>
<polyline points="78,470 78,444.8 118.2,444.8 118.2,447.5" fill="none" stroke="#3a3a3a" stroke-width="0.95" stroke-linejoin="round" stroke-linejoin="miter"/>
<path d="M91.42 437.25 L92.01 438.8 L93.66 438.87 L92.36 439.9 L92.81 441.5 L91.42 440.59 L90.04 441.5 L90.49 439.9 L89.19 438.87 L90.84 438.8ZM96.27 437.25 L96.86 438.8 L98.51 438.87 L97.21 439.9 L97.66 441.5 L96.27 440.59 L94.89 441.5 L95.34 439.9 L94.04 438.87 L95.69 438.8ZM101.12 437.25 L101.71 438.8 L103.36 438.87 L102.06 439.9 L102.51 441.5 L101.12 440.59 L99.74 441.5 L100.19 439.9 L98.89 438.87 L100.54 438.8ZM105.97 437.25 L106.56 438.8 L108.21 438.87 L106.91 439.9 L107.36 441.5 L105.97 440.59 L104.59 441.5 L105.04 439.9 L103.74 438.87 L105.39 438.8Z" fill="#333"/>
<polyline points="140.55,502 140.55,499.6 154.05,499.6 154.05,502" fill="none" stroke="#3a3a3a" stroke-width="0.95" stroke-linejoin="round" stroke-linejoin="miter"/>
<path d="M147.9 492.65 L148.48 494.2 L150.13 494.27 L148.84 495.3 L149.28 496.9 L147.9 495.99 L146.52 496.9 L146.96 495.3 L145.67 494.27 L147.32 494.2Z" fill="#333"/>
<polyline points="140.55,490.5 140.55,488.4 167.55,488.4 167.55,502.3" fill="none" stroke="#3a3a3a" stroke-width="0.95" stroke-linejoin="round" stroke-linejoin="miter"/>
<path d="M147.38 481.45 L147.96 483 L149.61 483.07 L148.31 484.1 L148.76 485.7 L147.38 484.79 L145.99 485.7 L146.44 484.1 L145.14 483.07 L146.79 483ZM152.22 481.45 L152.81 483 L154.46 483.07 L153.16 484.1 L153.61 485.7 L152.22 484.79 L150.84 485.7 L151.29 484.1 L149.99 483.07 L151.64 483ZM157.07 481.45 L157.66 483 L159.31 483.07 L158.01 484.1 L158.46 485.7 L157.07 484.79 L155.69 485.7 L156.14 484.1 L154.84 483.07 L156.49 483ZM161.93 481.45 L162.51 483 L164.16 483.07 L162.86 484.1 L163.31 485.7 L161.93 484.79 L160.54 485.7 L160.99 484.1 L159.69 483.07 L161.34 483Z" fill="#333"/>
<polyline points="140.55,475.7 140.55,449.9 181.05,449.9 181.05,455" fill="none" stroke="#3a3a3a" stroke-width="0.95" stroke-linejoin="round" stroke-linejoin="miter"/>
<path d="M154.12 442.35 L154.71 443.9 L156.36 443.97 L155.06 445 L155.51 446.6 L154.12 445.69 L152.74 446.6 L153.19 445 L151.89 443.97 L153.54 443.9ZM158.97 442.35 L159.56 443.9 L161.21 443.97 L159.91 445 L160.36 446.6 L158.97 445.69 L157.59 446.6 L158.04 445 L156.74 443.97 L158.39 443.9ZM163.82 442.35 L164.41 443.9 L166.06 443.97 L164.76 445 L165.21 446.6 L163.82 445.69 L162.44 446.6 L162.89 445 L161.59 443.97 L163.24 443.9ZM168.68 442.35 L169.26 443.9 L170.91 443.97 L169.61 445 L170.06 446.6 L168.68 445.69 L167.29 446.6 L167.74 445 L166.44 443.97 L168.09 443.9Z" fill="#333"/>
<line x1="69.2" y1="567.7" x2="69.2" y2="650.7" stroke="#8a8a8a" stroke-width="1"/>
<line x1="68.7" y1="650.2" x2="193.9" y2="650.2" stroke="#8a8a8a" stroke-width="1"/>
<line x1="66.2" y1="650.2" x2="69.2" y2="650.2" stroke="#8a8a8a" stroke-width="1"/>
<text x="62.3" y="653.05" font-size="7.9" text-anchor="end" textLength="7.88" lengthAdjust="spacingAndGlyphs">−1</text>
<line x1="66.2" y1="636.45" x2="69.2" y2="636.45" stroke="#8a8a8a" stroke-width="1"/>
<text x="62.3" y="639.3" font-size="7.9" text-anchor="end" textLength="4.5" lengthAdjust="spacingAndGlyphs">0</text>
<line x1="66.2" y1="622.7" x2="69.2" y2="622.7" stroke="#8a8a8a" stroke-width="1"/>
<text x="62.3" y="625.55" font-size="7.9" text-anchor="end" textLength="4.5" lengthAdjust="spacingAndGlyphs">1</text>
<line x1="66.2" y1="608.95" x2="69.2" y2="608.95" stroke="#8a8a8a" stroke-width="1"/>
<text x="62.3" y="611.8" font-size="7.9" text-anchor="end" textLength="4.5" lengthAdjust="spacingAndGlyphs">2</text>
<line x1="66.2" y1="595.2" x2="69.2" y2="595.2" stroke="#8a8a8a" stroke-width="1"/>
<text x="62.3" y="598.05" font-size="7.9" text-anchor="end" textLength="4.5" lengthAdjust="spacingAndGlyphs">3</text>
<line x1="66.2" y1="581.45" x2="69.2" y2="581.45" stroke="#8a8a8a" stroke-width="1"/>
<text x="62.3" y="584.3" font-size="7.9" text-anchor="end" textLength="4.5" lengthAdjust="spacingAndGlyphs">4</text>
<line x1="66.2" y1="567.7" x2="69.2" y2="567.7" stroke="#8a8a8a" stroke-width="1"/>
<text x="62.3" y="570.55" font-size="7.9" text-anchor="end" textLength="4.5" lengthAdjust="spacingAndGlyphs">5</text>
<text x="129.5" y="563.9" font-size="9" text-anchor="middle" font-style="italic" textLength="16.5" lengthAdjust="spacingAndGlyphs">Mx1</text>
<line x1="99.3" y1="650.2" x2="99.3" y2="653.4" stroke="#8a8a8a" stroke-width="1"/>
<text x="99.3" y="662.51" font-size="7.8" text-anchor="middle" textLength="8.8" lengthAdjust="spacingAndGlyphs">72</text>
<line x1="164" y1="650.2" x2="164" y2="653.4" stroke="#8a8a8a" stroke-width="1"/>
<text x="164" y="662.51" font-size="7.8" text-anchor="middle" textLength="8.8" lengthAdjust="spacingAndGlyphs">96</text>
<text x="132.4" y="676.8" font-size="9.3" text-anchor="middle" textLength="91.7" lengthAdjust="spacingAndGlyphs">Time post infection (h)</text>
<line x1="74.55" y1="636.45" x2="82.35" y2="636.45" stroke="#000000" stroke-width="1.4"/>
<circle cx="75.85" cy="635.08" r="1.75" fill="#000000"/>
<circle cx="78.45" cy="637.14" r="1.75" fill="#000000"/>
<circle cx="81.05" cy="637.83" r="1.75" fill="#000000"/>
<rect x="88.45" y="635.08" width="7.8" height="1.38" fill="#e2e4f5" stroke="#8f99d6" stroke-width="1.4"/>
<line x1="88.45" y1="635.08" x2="96.25" y2="635.08" stroke="#8f99d6" stroke-width="1.4"/>
<circle cx="89.75" cy="635.35" r="1.75" fill="#8f99d6"/>
<circle cx="92.35" cy="634.8" r="1.75" fill="#8f99d6"/>
<circle cx="94.95" cy="635.08" r="1.75" fill="#8f99d6"/>
<rect x="102.35" y="622.01" width="7.8" height="14.44" fill="#fad9e0" stroke="#ee7c93" stroke-width="1.4"/>
<line x1="102.35" y1="622.01" x2="110.15" y2="622.01" stroke="#ee7c93" stroke-width="1.4"/>
<line x1="106.25" y1="626.14" x2="106.25" y2="617.89" stroke="#333" stroke-width="0.8"/>
<line x1="104.45" y1="626.14" x2="108.05" y2="626.14" stroke="#333" stroke-width="0.8"/>
<line x1="104.45" y1="617.89" x2="108.05" y2="617.89" stroke="#333" stroke-width="0.8"/>
<circle cx="103.65" cy="618.58" r="1.75" fill="#ee7c93"/>
<circle cx="106.25" cy="625.45" r="1.75" fill="#ee7c93"/>
<circle cx="108.85" cy="619.95" r="1.75" fill="#ee7c93"/>
<rect x="116.25" y="582.55" width="7.8" height="53.9" fill="#f1d2b3" stroke="#c8650c" stroke-width="1.4"/>
<line x1="116.25" y1="582.55" x2="124.05" y2="582.55" stroke="#c8650c" stroke-width="1.4"/>
<circle cx="117.55" cy="581.73" r="1.75" fill="#c8650c"/>
<circle cx="120.15" cy="582.83" r="1.75" fill="#c8650c"/>
<circle cx="122.75" cy="582.55" r="1.75" fill="#c8650c"/>
<line x1="139.4" y1="636.45" x2="147.2" y2="636.45" stroke="#000000" stroke-width="1.4"/>
<circle cx="140.7" cy="635.76" r="1.75" fill="#000000"/>
<circle cx="143.3" cy="636.18" r="1.75" fill="#000000"/>
<circle cx="145.9" cy="637.14" r="1.75" fill="#000000"/>
<rect x="153.2" y="636.45" width="7.8" height="2.75" fill="#e2e4f5" stroke="#8f99d6" stroke-width="1.4"/>
<line x1="153.2" y1="639.2" x2="161" y2="639.2" stroke="#8f99d6" stroke-width="1.4"/>
<circle cx="154.5" cy="638.51" r="1.75" fill="#8f99d6"/>
<circle cx="157.1" cy="639.89" r="1.75" fill="#8f99d6"/>
<circle cx="159.7" cy="639.2" r="1.75" fill="#8f99d6"/>
<rect x="167" y="636.45" width="7.8" height="4.81" fill="#fad9e0" stroke="#ee7c93" stroke-width="1.4"/>
<line x1="167" y1="641.26" x2="174.8" y2="641.26" stroke="#ee7c93" stroke-width="1.4"/>
<line x1="170.9" y1="638.51" x2="170.9" y2="644.01" stroke="#333" stroke-width="0.8"/>
<line x1="169.1" y1="638.51" x2="172.7" y2="638.51" stroke="#333" stroke-width="0.8"/>
<line x1="169.1" y1="644.01" x2="172.7" y2="644.01" stroke="#333" stroke-width="0.8"/>
<circle cx="168.3" cy="637.83" r="1.75" fill="#ee7c93"/>
<circle cx="170.9" cy="644.7" r="1.75" fill="#ee7c93"/>
<circle cx="173.5" cy="640.58" r="1.75" fill="#ee7c93"/>
<rect x="180.8" y="590.39" width="7.8" height="46.06" fill="#f1d2b3" stroke="#c8650c" stroke-width="1.4"/>
<line x1="180.8" y1="590.39" x2="188.6" y2="590.39" stroke="#c8650c" stroke-width="1.4"/>
<circle cx="182.1" cy="589.7" r="1.75" fill="#c8650c"/>
<circle cx="184.7" cy="590.39" r="1.75" fill="#c8650c"/>
<circle cx="187.3" cy="591.08" r="1.75" fill="#c8650c"/>
<line x1="66.2" y1="636.45" x2="193.9" y2="636.45" stroke="#111" stroke-width="1"/>
<polyline points="78.45,628 78.45,625.5 92.35,625.5 92.35,628.5" fill="none" stroke="#3a3a3a" stroke-width="0.95" stroke-linejoin="round" stroke-linejoin="miter"/>
<text x="85.6" y="621.45" font-size="9.2" text-anchor="middle" textLength="11.6" lengthAdjust="spacingAndGlyphs">NS</text>
<polyline points="78.45,611 78.45,608.8 106.25,608.8 106.25,613" fill="none" stroke="#3a3a3a" stroke-width="0.95" stroke-linejoin="round" stroke-linejoin="miter"/>
<path d="M85.67 600.55 L86.26 602.1 L87.91 602.17 L86.61 603.2 L87.06 604.8 L85.67 603.89 L84.29 604.8 L84.74 603.2 L83.44 602.17 L85.09 602.1ZM90.52 600.55 L91.11 602.1 L92.76 602.17 L91.46 603.2 L91.91 604.8 L90.52 603.89 L89.14 604.8 L89.59 603.2 L88.29 602.17 L89.94 602.1ZM95.37 600.55 L95.96 602.1 L97.61 602.17 L96.31 603.2 L96.76 604.8 L95.37 603.89 L93.99 604.8 L94.44 603.2 L93.14 602.17 L94.79 602.1ZM100.22 600.55 L100.81 602.1 L102.46 602.17 L101.16 603.2 L101.61 604.8 L100.22 603.89 L98.84 604.8 L99.29 603.2 L97.99 602.17 L99.64 602.1Z" fill="#333"/>
<polyline points="78.45,595.9 78.45,576 120.15,576 120.15,580" fill="none" stroke="#3a3a3a" stroke-width="0.95" stroke-linejoin="round" stroke-linejoin="miter"/>
<path d="M92.62 567.85 L93.21 569.4 L94.86 569.47 L93.56 570.5 L94.01 572.1 L92.62 571.19 L91.24 572.1 L91.69 570.5 L90.39 569.47 L92.04 569.4ZM97.47 567.85 L98.06 569.4 L99.71 569.47 L98.41 570.5 L98.86 572.1 L97.47 571.19 L96.09 572.1 L96.54 570.5 L95.24 569.47 L96.89 569.4ZM102.32 567.85 L102.91 569.4 L104.56 569.47 L103.26 570.5 L103.71 572.1 L102.32 571.19 L100.94 572.1 L101.39 570.5 L100.09 569.47 L101.74 569.4ZM107.17 567.85 L107.76 569.4 L109.41 569.47 L108.11 570.5 L108.56 572.1 L107.17 571.19 L105.79 572.1 L106.24 570.5 L104.94 569.47 L106.59 569.4Z" fill="#333"/>
<polyline points="143.3,627.5 143.3,624.9 157.1,624.9 157.1,628.5" fill="none" stroke="#3a3a3a" stroke-width="0.95" stroke-linejoin="round" stroke-linejoin="miter"/>
<text x="150.4" y="621.05" font-size="9.2" text-anchor="middle" textLength="11.6" lengthAdjust="spacingAndGlyphs">NS</text>
<polyline points="143.3,615 143.3,612.8 170.9,612.8 170.9,631.6" fill="none" stroke="#3a3a3a" stroke-width="0.95" stroke-linejoin="round" stroke-linejoin="miter"/>
<path d="M155.28 604.65 L155.86 606.2 L157.51 606.27 L156.21 607.3 L156.66 608.9 L155.28 607.99 L153.89 608.9 L154.34 607.3 L153.04 606.27 L154.69 606.2ZM160.12 604.65 L160.71 606.2 L162.36 606.27 L161.06 607.3 L161.51 608.9 L160.12 607.99 L158.74 608.9 L159.19 607.3 L157.89 606.27 L159.54 606.2Z" fill="#333"/>
<polyline points="143.3,607 143.3,581.6 184.7,581.6 184.7,585.5" fill="none" stroke="#3a3a3a" stroke-width="0.95" stroke-linejoin="round" stroke-linejoin="miter"/>
<path d="M157.32 572.95 L157.91 574.5 L159.56 574.57 L158.26 575.6 L158.71 577.2 L157.32 576.29 L155.94 577.2 L156.39 575.6 L155.09 574.57 L156.74 574.5ZM162.17 572.95 L162.76 574.5 L164.41 574.57 L163.11 575.6 L163.56 577.2 L162.17 576.29 L160.79 577.2 L161.24 575.6 L159.94 574.57 L161.59 574.5ZM167.02 572.95 L167.61 574.5 L169.26 574.57 L167.96 575.6 L168.41 577.2 L167.02 576.29 L165.64 577.2 L166.09 575.6 L164.79 574.57 L166.44 574.5ZM171.88 572.95 L172.46 574.5 L174.11 574.57 L172.81 575.6 L173.26 577.2 L171.88 576.29 L170.49 577.2 L170.94 575.6 L169.64 574.57 L171.29 574.5Z" fill="#333"/>
<line x1="268.3" y1="183.4" x2="268.3" y2="265.2" stroke="#8a8a8a" stroke-width="1"/>
<line x1="267.8" y1="264.7" x2="390.5" y2="264.7" stroke="#8a8a8a" stroke-width="1"/>
<line x1="265.3" y1="264.7" x2="268.3" y2="264.7" stroke="#8a8a8a" stroke-width="1"/>
<text x="261.4" y="267.55" font-size="7.9" text-anchor="end" textLength="7.88" lengthAdjust="spacingAndGlyphs">−1</text>
<line x1="265.3" y1="248.44" x2="268.3" y2="248.44" stroke="#8a8a8a" stroke-width="1"/>
<text x="261.4" y="251.29" font-size="7.9" text-anchor="end" textLength="4.5" lengthAdjust="spacingAndGlyphs">0</text>
<line x1="265.3" y1="232.18" x2="268.3" y2="232.18" stroke="#8a8a8a" stroke-width="1"/>
<text x="261.4" y="235.03" font-size="7.9" text-anchor="end" textLength="4.5" lengthAdjust="spacingAndGlyphs">1</text>
<line x1="265.3" y1="215.92" x2="268.3" y2="215.92" stroke="#8a8a8a" stroke-width="1"/>
<text x="261.4" y="218.77" font-size="7.9" text-anchor="end" textLength="4.5" lengthAdjust="spacingAndGlyphs">2</text>
<line x1="265.3" y1="199.66" x2="268.3" y2="199.66" stroke="#8a8a8a" stroke-width="1"/>
<text x="261.4" y="202.51" font-size="7.9" text-anchor="end" textLength="4.5" lengthAdjust="spacingAndGlyphs">3</text>
<line x1="265.3" y1="183.4" x2="268.3" y2="183.4" stroke="#8a8a8a" stroke-width="1"/>
<text x="261.4" y="186.25" font-size="7.9" text-anchor="end" textLength="4.5" lengthAdjust="spacingAndGlyphs">4</text>
<text x="329.8" y="176.3" font-size="9" text-anchor="middle" font-style="italic" textLength="20.5" lengthAdjust="spacingAndGlyphs">Ifnb1</text>
<line x1="297.65" y1="264.7" x2="297.65" y2="267.9" stroke="#8a8a8a" stroke-width="1"/>
<text x="297.65" y="279.11" font-size="7.8" text-anchor="middle" textLength="8.8" lengthAdjust="spacingAndGlyphs">72</text>
<line x1="361" y1="264.7" x2="361" y2="267.9" stroke="#8a8a8a" stroke-width="1"/>
<text x="361" y="279.11" font-size="7.8" text-anchor="middle" textLength="8.8" lengthAdjust="spacingAndGlyphs">96</text>
<text x="329.5" y="291.1" font-size="9.3" text-anchor="middle" textLength="91" lengthAdjust="spacingAndGlyphs">Time post infection (h)</text>
<rect x="273.2" y="248.44" width="7.8" height="0.81" fill="#a9a9a9" stroke="#000000" stroke-width="1.4"/>
<line x1="273.2" y1="249.25" x2="281" y2="249.25" stroke="#000000" stroke-width="1.4"/>
<line x1="277.1" y1="246" x2="277.1" y2="252.5" stroke="#111" stroke-width="0.8"/>
<line x1="275.3" y1="246" x2="278.9" y2="246" stroke="#111" stroke-width="0.8"/>
<line x1="275.3" y1="252.5" x2="278.9" y2="252.5" stroke="#111" stroke-width="0.8"/>
<circle cx="277.1" cy="244.86" r="1.75" fill="#000000"/>
<circle cx="277.1" cy="249.25" r="1.75" fill="#000000"/>
<circle cx="277.1" cy="253.32" r="1.75" fill="#000000"/>
<line x1="286.9" y1="248.44" x2="294.7" y2="248.44" stroke="#8f99d6" stroke-width="1.4"/>
<line x1="290.8" y1="241.12" x2="290.8" y2="255.76" stroke="#333" stroke-width="0.8"/>
<line x1="289" y1="241.12" x2="292.6" y2="241.12" stroke="#333" stroke-width="0.8"/>
<line x1="289" y1="255.76" x2="292.6" y2="255.76" stroke="#333" stroke-width="0.8"/>
<circle cx="290.8" cy="240.31" r="1.75" fill="#8f99d6"/>
<circle cx="290.8" cy="254.94" r="1.75" fill="#8f99d6"/>
<rect x="300.6" y="225.35" width="7.8" height="23.09" fill="#fad9e0" stroke="#ee7c93" stroke-width="1.4"/>
<line x1="300.6" y1="225.35" x2="308.4" y2="225.35" stroke="#ee7c93" stroke-width="1.4"/>
<line x1="304.5" y1="223.24" x2="304.5" y2="227.3" stroke="#333" stroke-width="0.8"/>
<line x1="302.7" y1="223.24" x2="306.3" y2="223.24" stroke="#333" stroke-width="0.8"/>
<line x1="302.7" y1="227.3" x2="306.3" y2="227.3" stroke="#333" stroke-width="0.8"/>
<circle cx="304.5" cy="222.42" r="1.75" fill="#ee7c93"/>
<circle cx="302.5" cy="225.68" r="1.75" fill="#ee7c93"/>
<circle cx="306.5" cy="226" r="1.75" fill="#ee7c93"/>
<rect x="314.3" y="193.16" width="7.8" height="55.28" fill="#f1d2b3" stroke="#c8650c" stroke-width="1.4"/>
<line x1="314.3" y1="193.16" x2="322.1" y2="193.16" stroke="#c8650c" stroke-width="1.4"/>
<circle cx="315.6" cy="192.83" r="1.75" fill="#c8650c"/>
<circle cx="318.2" cy="193.16" r="1.75" fill="#c8650c"/>
<circle cx="320.8" cy="193.48" r="1.75" fill="#c8650c"/>
<rect x="336.55" y="248.44" width="7.8" height="1.63" fill="#a9a9a9" stroke="#000000" stroke-width="1.4"/>
<line x1="336.55" y1="250.07" x2="344.35" y2="250.07" stroke="#000000" stroke-width="1.4"/>
<line x1="340.45" y1="246.81" x2="340.45" y2="253.32" stroke="#111" stroke-width="0.8"/>
<line x1="338.65" y1="246.81" x2="342.25" y2="246.81" stroke="#111" stroke-width="0.8"/>
<line x1="338.65" y1="253.32" x2="342.25" y2="253.32" stroke="#111" stroke-width="0.8"/>
<circle cx="340.45" cy="243.56" r="1.75" fill="#000000"/>
<circle cx="340.45" cy="259.01" r="1.75" fill="#000000"/>
<circle cx="340.45" cy="250.07" r="1.75" fill="#000000"/>
<rect x="350.25" y="248.44" width="7.8" height="8.94" fill="#e2e4f5" stroke="#8f99d6" stroke-width="1.4"/>
<line x1="350.25" y1="257.38" x2="358.05" y2="257.38" stroke="#8f99d6" stroke-width="1.4"/>
<line x1="354.15" y1="254.94" x2="354.15" y2="259.82" stroke="#333" stroke-width="0.8"/>
<line x1="352.35" y1="254.94" x2="355.95" y2="254.94" stroke="#333" stroke-width="0.8"/>
<line x1="352.35" y1="259.82" x2="355.95" y2="259.82" stroke="#333" stroke-width="0.8"/>
<circle cx="351.55" cy="260.63" r="1.75" fill="#8f99d6"/>
<circle cx="354.15" cy="258.2" r="1.75" fill="#8f99d6"/>
<circle cx="356.75" cy="257.38" r="1.75" fill="#8f99d6"/>
<rect x="363.95" y="243.56" width="7.8" height="4.88" fill="#fad9e0" stroke="#ee7c93" stroke-width="1.4"/>
<line x1="363.95" y1="243.56" x2="371.75" y2="243.56" stroke="#ee7c93" stroke-width="1.4"/>
<line x1="367.85" y1="239.5" x2="367.85" y2="247.63" stroke="#333" stroke-width="0.8"/>
<line x1="366.05" y1="239.5" x2="369.65" y2="239.5" stroke="#333" stroke-width="0.8"/>
<line x1="366.05" y1="247.63" x2="369.65" y2="247.63" stroke="#333" stroke-width="0.8"/>
<circle cx="367.85" cy="236.25" r="1.75" fill="#ee7c93"/>
<circle cx="367.85" cy="251.69" r="1.75" fill="#ee7c93"/>
<circle cx="367.85" cy="242.75" r="1.75" fill="#ee7c93"/>
<rect x="377.65" y="198.52" width="7.8" height="49.92" fill="#f1d2b3" stroke="#c8650c" stroke-width="1.4"/>
<line x1="377.65" y1="198.52" x2="385.45" y2="198.52" stroke="#c8650c" stroke-width="1.4"/>
<circle cx="378.95" cy="198.03" r="1.75" fill="#c8650c"/>
<circle cx="381.55" cy="198.85" r="1.75" fill="#c8650c"/>
<circle cx="384.15" cy="198.52" r="1.75" fill="#c8650c"/>
<line x1="265.3" y1="248.44" x2="390.5" y2="248.44" stroke="#111" stroke-width="1"/>
<polyline points="277.1,237 277.1,234.5 290.8,234.5 290.8,237.5" fill="none" stroke="#3a3a3a" stroke-width="0.95" stroke-linejoin="round" stroke-linejoin="miter"/>
<text x="284.15" y="229.95" font-size="9.2" text-anchor="middle" textLength="11.6" lengthAdjust="spacingAndGlyphs">NS</text>
<polyline points="277.1,220 277.1,217.7 304.5,217.7 304.5,220" fill="none" stroke="#3a3a3a" stroke-width="0.95" stroke-linejoin="round" stroke-linejoin="miter"/>
<path d="M284.12 208.55 L284.71 210.1 L286.36 210.17 L285.06 211.2 L285.51 212.8 L284.12 211.89 L282.74 212.8 L283.19 211.2 L281.89 210.17 L283.54 210.1ZM288.98 208.55 L289.56 210.1 L291.21 210.17 L289.91 211.2 L290.36 212.8 L288.98 211.89 L287.59 212.8 L288.04 211.2 L286.74 210.17 L288.39 210.1ZM293.82 208.55 L294.41 210.1 L296.06 210.17 L294.76 211.2 L295.21 212.8 L293.82 211.89 L292.44 212.8 L292.89 211.2 L291.59 210.17 L293.24 210.1ZM298.68 208.55 L299.26 210.1 L300.91 210.17 L299.61 211.2 L300.06 212.8 L298.68 211.89 L297.29 212.8 L297.74 211.2 L296.44 210.17 L298.09 210.1Z" fill="#333"/>
<polyline points="277.1,204.9 277.1,187.9 318.2,187.9 318.2,190.5" fill="none" stroke="#3a3a3a" stroke-width="0.95" stroke-linejoin="round" stroke-linejoin="miter"/>
<path d="M290.98 178.55 L291.56 180.1 L293.21 180.17 L291.91 181.2 L292.36 182.8 L290.98 181.89 L289.59 182.8 L290.04 181.2 L288.74 180.17 L290.39 180.1ZM295.83 178.55 L296.41 180.1 L298.06 180.17 L296.76 181.2 L297.21 182.8 L295.83 181.89 L294.44 182.8 L294.89 181.2 L293.59 180.17 L295.24 180.1ZM300.68 178.55 L301.26 180.1 L302.91 180.17 L301.61 181.2 L302.06 182.8 L300.68 181.89 L299.29 182.8 L299.74 181.2 L298.44 180.17 L300.09 180.1ZM305.53 178.55 L306.11 180.1 L307.76 180.17 L306.46 181.2 L306.91 182.8 L305.53 181.89 L304.14 182.8 L304.59 181.2 L303.29 180.17 L304.94 180.1Z" fill="#333"/>
<polyline points="340.45,242 340.45,239.6 354.15,239.6 354.15,242.5" fill="none" stroke="#3a3a3a" stroke-width="0.95" stroke-linejoin="round" stroke-linejoin="miter"/>
<text x="347.5" y="235.05" font-size="9.2" text-anchor="middle" textLength="11.6" lengthAdjust="spacingAndGlyphs">NS</text>
<polyline points="340.45,224.5 340.45,222.2 367.85,222.2 367.85,230" fill="none" stroke="#3a3a3a" stroke-width="0.95" stroke-linejoin="round" stroke-linejoin="miter"/>
<text x="354.35" y="217.65" font-size="9.2" text-anchor="middle" textLength="11.6" lengthAdjust="spacingAndGlyphs">NS</text>
<polyline points="340.45,217 340.45,189.5 381.55,189.5 381.55,195" fill="none" stroke="#3a3a3a" stroke-width="0.95" stroke-linejoin="round" stroke-linejoin="miter"/>
<path d="M354.33 181.35 L354.91 182.9 L356.56 182.97 L355.26 184 L355.71 185.6 L354.33 184.69 L352.94 185.6 L353.39 184 L352.09 182.97 L353.74 182.9ZM359.18 181.35 L359.76 182.9 L361.41 182.97 L360.11 184 L360.56 185.6 L359.18 184.69 L357.79 185.6 L358.24 184 L356.94 182.97 L358.59 182.9ZM364.03 181.35 L364.61 182.9 L366.26 182.97 L364.96 184 L365.41 185.6 L364.03 184.69 L362.64 185.6 L363.09 184 L361.79 182.97 L363.44 182.9ZM368.88 181.35 L369.46 182.9 L371.11 182.97 L369.81 184 L370.26 185.6 L368.88 184.69 L367.49 185.6 L367.94 184 L366.64 182.97 L368.29 182.9Z" fill="#333"/>
<line x1="268.3" y1="309.7" x2="268.3" y2="392.8" stroke="#8a8a8a" stroke-width="1"/>
<line x1="267.8" y1="392.3" x2="391.9" y2="392.3" stroke="#8a8a8a" stroke-width="1"/>
<line x1="265.3" y1="392.3" x2="268.3" y2="392.3" stroke="#8a8a8a" stroke-width="1"/>
<text x="261.4" y="395.15" font-size="7.9" text-anchor="end" textLength="7.88" lengthAdjust="spacingAndGlyphs">−4</text>
<line x1="265.3" y1="375.78" x2="268.3" y2="375.78" stroke="#8a8a8a" stroke-width="1"/>
<text x="261.4" y="378.63" font-size="7.9" text-anchor="end" textLength="7.88" lengthAdjust="spacingAndGlyphs">−2</text>
<line x1="265.3" y1="359.26" x2="268.3" y2="359.26" stroke="#8a8a8a" stroke-width="1"/>
<text x="261.4" y="362.11" font-size="7.9" text-anchor="end" textLength="4.5" lengthAdjust="spacingAndGlyphs">0</text>
<line x1="265.3" y1="342.74" x2="268.3" y2="342.74" stroke="#8a8a8a" stroke-width="1"/>
<text x="261.4" y="345.59" font-size="7.9" text-anchor="end" textLength="4.5" lengthAdjust="spacingAndGlyphs">2</text>
<line x1="265.3" y1="326.22" x2="268.3" y2="326.22" stroke="#8a8a8a" stroke-width="1"/>
<text x="261.4" y="329.07" font-size="7.9" text-anchor="end" textLength="4.5" lengthAdjust="spacingAndGlyphs">4</text>
<line x1="265.3" y1="309.7" x2="268.3" y2="309.7" stroke="#8a8a8a" stroke-width="1"/>
<text x="261.4" y="312.55" font-size="7.9" text-anchor="end" textLength="4.5" lengthAdjust="spacingAndGlyphs">6</text>
<text x="329.6" y="308" font-size="9" text-anchor="middle" font-style="italic" textLength="13.5" lengthAdjust="spacingAndGlyphs">Il-6</text>
<line x1="297.9" y1="392.3" x2="297.9" y2="395.5" stroke="#8a8a8a" stroke-width="1"/>
<text x="297.9" y="406.31" font-size="7.8" text-anchor="middle" textLength="8.8" lengthAdjust="spacingAndGlyphs">72</text>
<line x1="362.3" y1="392.3" x2="362.3" y2="395.5" stroke="#8a8a8a" stroke-width="1"/>
<text x="362.3" y="406.31" font-size="7.8" text-anchor="middle" textLength="8.8" lengthAdjust="spacingAndGlyphs">96</text>
<text x="329.8" y="416.8" font-size="9.3" text-anchor="middle" textLength="91" lengthAdjust="spacingAndGlyphs">Time post infection (h)</text>
<rect x="273.15" y="358.85" width="7.8" height="0.41" fill="#a9a9a9" stroke="#000000" stroke-width="1.4"/>
<line x1="273.15" y1="358.85" x2="280.95" y2="358.85" stroke="#000000" stroke-width="1.4"/>
<circle cx="274.45" cy="357.61" r="1.75" fill="#000000"/>
<circle cx="277.05" cy="360.91" r="1.75" fill="#000000"/>
<circle cx="279.65" cy="358.43" r="1.75" fill="#000000"/>
<rect x="287.05" y="359.26" width="7.8" height="7.27" fill="#e2e4f5" stroke="#8f99d6" stroke-width="1.4"/>
<line x1="287.05" y1="366.53" x2="294.85" y2="366.53" stroke="#8f99d6" stroke-width="1.4"/>
<circle cx="288.35" cy="365.87" r="1.75" fill="#8f99d6"/>
<circle cx="290.95" cy="367.11" r="1.75" fill="#8f99d6"/>
<circle cx="293.55" cy="367.52" r="1.75" fill="#8f99d6"/>
<rect x="300.95" y="343.57" width="7.8" height="15.69" fill="#fad9e0" stroke="#ee7c93" stroke-width="1.4"/>
<line x1="300.95" y1="343.57" x2="308.75" y2="343.57" stroke="#ee7c93" stroke-width="1.4"/>
<line x1="304.85" y1="340.26" x2="304.85" y2="346.87" stroke="#333" stroke-width="0.8"/>
<line x1="303.05" y1="340.26" x2="306.65" y2="340.26" stroke="#333" stroke-width="0.8"/>
<line x1="303.05" y1="346.87" x2="306.65" y2="346.87" stroke="#333" stroke-width="0.8"/>
<circle cx="302.25" cy="339.44" r="1.75" fill="#ee7c93"/>
<circle cx="304.85" cy="347.7" r="1.75" fill="#ee7c93"/>
<circle cx="307.45" cy="343.15" r="1.75" fill="#ee7c93"/>
<rect x="314.85" y="332.17" width="7.8" height="27.09" fill="#f1d2b3" stroke="#c8650c" stroke-width="1.4"/>
<line x1="314.85" y1="332.17" x2="322.65" y2="332.17" stroke="#c8650c" stroke-width="1.4"/>
<circle cx="316.15" cy="331.59" r="1.75" fill="#c8650c"/>
<circle cx="318.75" cy="332.41" r="1.75" fill="#c8650c"/>
<circle cx="321.35" cy="332" r="1.75" fill="#c8650c"/>
<rect x="337.7" y="359.26" width="7.8" height="9.25" fill="#a9a9a9" stroke="#000000" stroke-width="1.4"/>
<line x1="337.7" y1="368.51" x2="345.5" y2="368.51" stroke="#000000" stroke-width="1.4"/>
<line x1="341.6" y1="355.96" x2="341.6" y2="379.91" stroke="#111" stroke-width="0.8"/>
<line x1="339.8" y1="355.96" x2="343.4" y2="355.96" stroke="#111" stroke-width="0.8"/>
<line x1="339.8" y1="379.91" x2="343.4" y2="379.91" stroke="#111" stroke-width="0.8"/>
<circle cx="341.6" cy="355.54" r="1.75" fill="#000000"/>
<circle cx="338.6" cy="375.78" r="1.75" fill="#000000"/>
<circle cx="344.8" cy="374.13" r="1.75" fill="#000000"/>
<rect x="351.5" y="359.26" width="7.8" height="2.89" fill="#e2e4f5" stroke="#8f99d6" stroke-width="1.4"/>
<line x1="351.5" y1="362.15" x2="359.3" y2="362.15" stroke="#8f99d6" stroke-width="1.4"/>
<circle cx="352.8" cy="361.74" r="1.75" fill="#8f99d6"/>
<circle cx="355.4" cy="362.98" r="1.75" fill="#8f99d6"/>
<circle cx="358" cy="362.15" r="1.75" fill="#8f99d6"/>
<rect x="365.3" y="346.04" width="7.8" height="13.22" fill="#fad9e0" stroke="#ee7c93" stroke-width="1.4"/>
<line x1="365.3" y1="346.04" x2="373.1" y2="346.04" stroke="#ee7c93" stroke-width="1.4"/>
<circle cx="366.6" cy="345.88" r="1.75" fill="#ee7c93"/>
<circle cx="369.2" cy="346.21" r="1.75" fill="#ee7c93"/>
<circle cx="371.8" cy="346.04" r="1.75" fill="#ee7c93"/>
<rect x="379.1" y="328.53" width="7.8" height="30.73" fill="#f1d2b3" stroke="#c8650c" stroke-width="1.4"/>
<line x1="379.1" y1="328.53" x2="386.9" y2="328.53" stroke="#c8650c" stroke-width="1.4"/>
<circle cx="380.4" cy="327.05" r="1.75" fill="#c8650c"/>
<circle cx="383" cy="329.11" r="1.75" fill="#c8650c"/>
<circle cx="385.6" cy="328.7" r="1.75" fill="#c8650c"/>
<line x1="265.3" y1="359.26" x2="391.9" y2="359.26" stroke="#111" stroke-width="1"/>
<polyline points="277.05,353.5 277.05,351.2 290.95,351.2 290.95,354" fill="none" stroke="#3a3a3a" stroke-width="0.95" stroke-linejoin="round" stroke-linejoin="miter"/>
<text x="284.2" y="346.65" font-size="9.2" text-anchor="middle" textLength="11.6" lengthAdjust="spacingAndGlyphs">NS</text>
<polyline points="277.05,336 277.05,332.4 304.85,332.4 304.85,335" fill="none" stroke="#3a3a3a" stroke-width="0.95" stroke-linejoin="round" stroke-linejoin="miter"/>
<path d="M284.27 325.25 L284.86 326.8 L286.51 326.87 L285.21 327.9 L285.66 329.5 L284.27 328.59 L282.89 329.5 L283.34 327.9 L282.04 326.87 L283.69 326.8ZM289.12 325.25 L289.71 326.8 L291.36 326.87 L290.06 327.9 L290.51 329.5 L289.12 328.59 L287.74 329.5 L288.19 327.9 L286.89 326.87 L288.54 326.8ZM293.97 325.25 L294.56 326.8 L296.21 326.87 L294.91 327.9 L295.36 329.5 L293.97 328.59 L292.59 329.5 L293.04 327.9 L291.74 326.87 L293.39 326.8ZM298.82 325.25 L299.41 326.8 L301.06 326.87 L299.76 327.9 L300.21 329.5 L298.82 328.59 L297.44 329.5 L297.89 327.9 L296.59 326.87 L298.24 326.8Z" fill="#333"/>
<polyline points="277.05,332.4 277.05,319.9 318.75,319.9 318.75,325.7" fill="none" stroke="#3a3a3a" stroke-width="0.95" stroke-linejoin="round" stroke-linejoin="miter"/>
<path d="M291.23 312.55 L291.81 314.1 L293.46 314.17 L292.16 315.2 L292.61 316.8 L291.23 315.89 L289.84 316.8 L290.29 315.2 L288.99 314.17 L290.64 314.1ZM296.08 312.55 L296.66 314.1 L298.31 314.17 L297.01 315.2 L297.46 316.8 L296.08 315.89 L294.69 316.8 L295.14 315.2 L293.84 314.17 L295.49 314.1ZM300.93 312.55 L301.51 314.1 L303.16 314.17 L301.86 315.2 L302.31 316.8 L300.93 315.89 L299.54 316.8 L299.99 315.2 L298.69 314.17 L300.34 314.1ZM305.78 312.55 L306.36 314.1 L308.01 314.17 L306.71 315.2 L307.16 316.8 L305.78 315.89 L304.39 316.8 L304.84 315.2 L303.54 314.17 L305.19 314.1Z" fill="#333"/>
<polyline points="341.6,352.5 341.6,350.2 355.4,350.2 355.4,353.5" fill="none" stroke="#3a3a3a" stroke-width="0.95" stroke-linejoin="round" stroke-linejoin="miter"/>
<text x="348.7" y="346.05" font-size="9.2" text-anchor="middle" textLength="11.6" lengthAdjust="spacingAndGlyphs">NS</text>
<polyline points="341.6,335 341.6,332.8 369.2,332.8 369.2,341" fill="none" stroke="#3a3a3a" stroke-width="0.95" stroke-linejoin="round" stroke-linejoin="miter"/>
<path d="M348.73 325.25 L349.31 326.8 L350.96 326.87 L349.66 327.9 L350.11 329.5 L348.73 328.59 L347.34 329.5 L347.79 327.9 L346.49 326.87 L348.14 326.8ZM353.58 325.25 L354.16 326.8 L355.81 326.87 L354.51 327.9 L354.96 329.5 L353.58 328.59 L352.19 329.5 L352.64 327.9 L351.34 326.87 L352.99 326.8ZM358.43 325.25 L359.01 326.8 L360.66 326.87 L359.36 327.9 L359.81 329.5 L358.43 328.59 L357.04 329.5 L357.49 327.9 L356.19 326.87 L357.84 326.8ZM363.28 325.25 L363.86 326.8 L365.51 326.87 L364.21 327.9 L364.66 329.5 L363.28 328.59 L361.89 329.5 L362.34 327.9 L361.04 326.87 L362.69 326.8Z" fill="#333"/>
<polyline points="341.6,332.8 341.6,319.9 383,319.9 383,323" fill="none" stroke="#3a3a3a" stroke-width="0.95" stroke-linejoin="round" stroke-linejoin="miter"/>
<path d="M355.63 312.55 L356.21 314.1 L357.86 314.17 L356.56 315.2 L357.01 316.8 L355.63 315.89 L354.24 316.8 L354.69 315.2 L353.39 314.17 L355.04 314.1ZM360.48 312.55 L361.06 314.1 L362.71 314.17 L361.41 315.2 L361.86 316.8 L360.48 315.89 L359.09 316.8 L359.54 315.2 L358.24 314.17 L359.89 314.1ZM365.33 312.55 L365.91 314.1 L367.56 314.17 L366.26 315.2 L366.71 316.8 L365.33 315.89 L363.94 316.8 L364.39 315.2 L363.09 314.17 L364.74 314.1ZM370.18 312.55 L370.76 314.1 L372.41 314.17 L371.11 315.2 L371.56 316.8 L370.18 315.89 L368.79 316.8 L369.24 315.2 L367.94 314.17 L369.59 314.1Z" fill="#333"/>
<line x1="268.3" y1="439.7" x2="268.3" y2="522.6" stroke="#8a8a8a" stroke-width="1"/>
<line x1="267.8" y1="522.1" x2="393" y2="522.1" stroke="#8a8a8a" stroke-width="1"/>
<line x1="265.3" y1="522.1" x2="268.3" y2="522.1" stroke="#8a8a8a" stroke-width="1"/>
<text x="261.4" y="524.95" font-size="7.9" text-anchor="end" textLength="7.88" lengthAdjust="spacingAndGlyphs">−2</text>
<line x1="265.3" y1="501.5" x2="268.3" y2="501.5" stroke="#8a8a8a" stroke-width="1"/>
<text x="261.4" y="504.35" font-size="7.9" text-anchor="end" textLength="4.5" lengthAdjust="spacingAndGlyphs">0</text>
<line x1="265.3" y1="480.9" x2="268.3" y2="480.9" stroke="#8a8a8a" stroke-width="1"/>
<text x="261.4" y="483.75" font-size="7.9" text-anchor="end" textLength="4.5" lengthAdjust="spacingAndGlyphs">2</text>
<line x1="265.3" y1="460.3" x2="268.3" y2="460.3" stroke="#8a8a8a" stroke-width="1"/>
<text x="261.4" y="463.15" font-size="7.9" text-anchor="end" textLength="4.5" lengthAdjust="spacingAndGlyphs">4</text>
<line x1="265.3" y1="439.7" x2="268.3" y2="439.7" stroke="#8a8a8a" stroke-width="1"/>
<text x="261.4" y="442.55" font-size="7.9" text-anchor="end" textLength="4.5" lengthAdjust="spacingAndGlyphs">6</text>
<text x="330.6" y="435.4" font-size="9" text-anchor="middle" font-style="italic" textLength="15.8" lengthAdjust="spacingAndGlyphs">Ifit1</text>
<line x1="298.5" y1="522.1" x2="298.5" y2="525.3" stroke="#8a8a8a" stroke-width="1"/>
<text x="298.5" y="535.91" font-size="7.8" text-anchor="middle" textLength="8.8" lengthAdjust="spacingAndGlyphs">72</text>
<line x1="363.2" y1="522.1" x2="363.2" y2="525.3" stroke="#8a8a8a" stroke-width="1"/>
<text x="363.2" y="535.91" font-size="7.8" text-anchor="middle" textLength="8.8" lengthAdjust="spacingAndGlyphs">96</text>
<text x="331.2" y="548.5" font-size="9.3" text-anchor="middle" textLength="91.5" lengthAdjust="spacingAndGlyphs">Time post infection (h)</text>
<rect x="273.6" y="501.5" width="7.8" height="1.55" fill="#a9a9a9" stroke="#000000" stroke-width="1.4"/>
<line x1="273.6" y1="503.05" x2="281.4" y2="503.05" stroke="#000000" stroke-width="1.4"/>
<line x1="277.5" y1="500.47" x2="277.5" y2="505.62" stroke="#111" stroke-width="0.8"/>
<line x1="275.7" y1="500.47" x2="279.3" y2="500.47" stroke="#111" stroke-width="0.8"/>
<line x1="275.7" y1="505.62" x2="279.3" y2="505.62" stroke="#111" stroke-width="0.8"/>
<circle cx="274.9" cy="497.38" r="1.75" fill="#000000"/>
<circle cx="277.5" cy="507.68" r="1.75" fill="#000000"/>
<circle cx="280.1" cy="503.56" r="1.75" fill="#000000"/>
<rect x="287.6" y="501.5" width="7.8" height="4.63" fill="#e2e4f5" stroke="#8f99d6" stroke-width="1.4"/>
<line x1="287.6" y1="506.13" x2="295.4" y2="506.13" stroke="#8f99d6" stroke-width="1.4"/>
<line x1="291.5" y1="503.56" x2="291.5" y2="508.71" stroke="#333" stroke-width="0.8"/>
<line x1="289.7" y1="503.56" x2="293.3" y2="503.56" stroke="#333" stroke-width="0.8"/>
<line x1="289.7" y1="508.71" x2="293.3" y2="508.71" stroke="#333" stroke-width="0.8"/>
<circle cx="288.9" cy="502.53" r="1.75" fill="#8f99d6"/>
<circle cx="291.5" cy="508.71" r="1.75" fill="#8f99d6"/>
<circle cx="294.1" cy="506.65" r="1.75" fill="#8f99d6"/>
<rect x="301.6" y="489.66" width="7.8" height="11.84" fill="#fad9e0" stroke="#ee7c93" stroke-width="1.4"/>
<line x1="301.6" y1="489.66" x2="309.4" y2="489.66" stroke="#ee7c93" stroke-width="1.4"/>
<line x1="305.5" y1="487.08" x2="305.5" y2="492.23" stroke="#333" stroke-width="0.8"/>
<line x1="303.7" y1="487.08" x2="307.3" y2="487.08" stroke="#333" stroke-width="0.8"/>
<line x1="303.7" y1="492.23" x2="307.3" y2="492.23" stroke="#333" stroke-width="0.8"/>
<circle cx="302.9" cy="486.05" r="1.75" fill="#ee7c93"/>
<circle cx="305.5" cy="491.2" r="1.75" fill="#ee7c93"/>
<circle cx="308.1" cy="490.17" r="1.75" fill="#ee7c93"/>
<rect x="315.6" y="463.9" width="7.8" height="37.6" fill="#f1d2b3" stroke="#c8650c" stroke-width="1.4"/>
<line x1="315.6" y1="463.9" x2="323.4" y2="463.9" stroke="#c8650c" stroke-width="1.4"/>
<circle cx="316.9" cy="463.39" r="1.75" fill="#c8650c"/>
<circle cx="319.5" cy="464.21" r="1.75" fill="#c8650c"/>
<circle cx="322.1" cy="463.9" r="1.75" fill="#c8650c"/>
<rect x="338.45" y="501.5" width="7.8" height="1.03" fill="#a9a9a9" stroke="#000000" stroke-width="1.4"/>
<line x1="338.45" y1="502.53" x2="346.25" y2="502.53" stroke="#000000" stroke-width="1.4"/>
<line x1="342.35" y1="499.96" x2="342.35" y2="505.11" stroke="#111" stroke-width="0.8"/>
<line x1="340.55" y1="499.96" x2="344.15" y2="499.96" stroke="#111" stroke-width="0.8"/>
<line x1="340.55" y1="505.11" x2="344.15" y2="505.11" stroke="#111" stroke-width="0.8"/>
<circle cx="339.75" cy="497.9" r="1.75" fill="#000000"/>
<circle cx="342.35" cy="507.17" r="1.75" fill="#000000"/>
<circle cx="344.95" cy="502.53" r="1.75" fill="#000000"/>
<rect x="352.35" y="501.5" width="7.8" height="0.51" fill="#e2e4f5" stroke="#8f99d6" stroke-width="1.4"/>
<line x1="352.35" y1="502.01" x2="360.15" y2="502.01" stroke="#8f99d6" stroke-width="1.4"/>
<circle cx="353.65" cy="502.53" r="1.75" fill="#8f99d6"/>
<circle cx="356.25" cy="501.5" r="1.75" fill="#8f99d6"/>
<circle cx="358.85" cy="502.01" r="1.75" fill="#8f99d6"/>
<rect x="366.25" y="495.32" width="7.8" height="6.18" fill="#fad9e0" stroke="#ee7c93" stroke-width="1.4"/>
<line x1="366.25" y1="495.32" x2="374.05" y2="495.32" stroke="#ee7c93" stroke-width="1.4"/>
<line x1="370.15" y1="493.78" x2="370.15" y2="496.87" stroke="#333" stroke-width="0.8"/>
<line x1="368.35" y1="493.78" x2="371.95" y2="493.78" stroke="#333" stroke-width="0.8"/>
<line x1="368.35" y1="496.87" x2="371.95" y2="496.87" stroke="#333" stroke-width="0.8"/>
<circle cx="367.55" cy="494.29" r="1.75" fill="#ee7c93"/>
<circle cx="370.15" cy="496.35" r="1.75" fill="#ee7c93"/>
<circle cx="372.75" cy="494.81" r="1.75" fill="#ee7c93"/>
<rect x="380.15" y="457.21" width="7.8" height="44.29" fill="#f1d2b3" stroke="#c8650c" stroke-width="1.4"/>
<line x1="380.15" y1="457.21" x2="387.95" y2="457.21" stroke="#c8650c" stroke-width="1.4"/>
<circle cx="381.45" cy="456.9" r="1.75" fill="#c8650c"/>
<circle cx="384.05" cy="457.21" r="1.75" fill="#c8650c"/>
<circle cx="386.65" cy="457.42" r="1.75" fill="#c8650c"/>
<line x1="265.3" y1="501.5" x2="393" y2="501.5" stroke="#111" stroke-width="1"/>
<polyline points="277.5,492 277.5,489.4 291.5,489.4 291.5,492.5" fill="none" stroke="#3a3a3a" stroke-width="0.95" stroke-linejoin="round" stroke-linejoin="miter"/>
<text x="284.7" y="484.85" font-size="9.2" text-anchor="middle" textLength="11.6" lengthAdjust="spacingAndGlyphs">NS</text>
<polyline points="277.5,476.5 277.5,474 305.5,474 305.5,479.2" fill="none" stroke="#3a3a3a" stroke-width="0.95" stroke-linejoin="round" stroke-linejoin="miter"/>
<path d="M284.83 466.55 L285.41 468.1 L287.06 468.17 L285.76 469.2 L286.21 470.8 L284.83 469.89 L283.44 470.8 L283.89 469.2 L282.59 468.17 L284.24 468.1ZM289.68 466.55 L290.26 468.1 L291.91 468.17 L290.61 469.2 L291.06 470.8 L289.68 469.89 L288.29 470.8 L288.74 469.2 L287.44 468.17 L289.09 468.1ZM294.53 466.55 L295.11 468.1 L296.76 468.17 L295.46 469.2 L295.91 470.8 L294.53 469.89 L293.14 470.8 L293.59 469.2 L292.29 468.17 L293.94 468.1ZM299.38 466.55 L299.96 468.1 L301.61 468.17 L300.31 469.2 L300.76 470.8 L299.38 469.89 L297.99 470.8 L298.44 469.2 L297.14 468.17 L298.79 468.1Z" fill="#333"/>
<polyline points="277.5,461.8 277.5,456.7 319.5,456.7 319.5,460" fill="none" stroke="#3a3a3a" stroke-width="0.95" stroke-linejoin="round" stroke-linejoin="miter"/>
<path d="M291.83 448.05 L292.41 449.6 L294.06 449.67 L292.76 450.7 L293.21 452.3 L291.83 451.39 L290.44 452.3 L290.89 450.7 L289.59 449.67 L291.24 449.6ZM296.68 448.05 L297.26 449.6 L298.91 449.67 L297.61 450.7 L298.06 452.3 L296.68 451.39 L295.29 452.3 L295.74 450.7 L294.44 449.67 L296.09 449.6ZM301.53 448.05 L302.11 449.6 L303.76 449.67 L302.46 450.7 L302.91 452.3 L301.53 451.39 L300.14 452.3 L300.59 450.7 L299.29 449.67 L300.94 449.6ZM306.38 448.05 L306.96 449.6 L308.61 449.67 L307.31 450.7 L307.76 452.3 L306.38 451.39 L304.99 452.3 L305.44 450.7 L304.14 449.67 L305.79 449.6Z" fill="#333"/>
<polyline points="342.35,491 342.35,488.8 356.25,488.8 356.25,491.5" fill="none" stroke="#3a3a3a" stroke-width="0.95" stroke-linejoin="round" stroke-linejoin="miter"/>
<text x="349.5" y="483.45" font-size="9.2" text-anchor="middle" textLength="11.6" lengthAdjust="spacingAndGlyphs">NS</text>
<polyline points="342.35,476 342.35,473.4 370.15,473.4 370.15,488.4" fill="none" stroke="#3a3a3a" stroke-width="0.95" stroke-linejoin="round" stroke-linejoin="miter"/>
<path d="M356.85 464.45 L357.43 466 L359.08 466.07 L357.79 467.1 L358.23 468.7 L356.85 467.79 L355.47 468.7 L355.91 467.1 L354.62 466.07 L356.27 466Z" fill="#333"/>
<polyline points="342.35,467.9 342.35,451 384.05,451 384.05,455" fill="none" stroke="#3a3a3a" stroke-width="0.95" stroke-linejoin="round" stroke-linejoin="miter"/>
<path d="M356.53 442.35 L357.11 443.9 L358.76 443.97 L357.46 445 L357.91 446.6 L356.53 445.69 L355.14 446.6 L355.59 445 L354.29 443.97 L355.94 443.9ZM361.38 442.35 L361.96 443.9 L363.61 443.97 L362.31 445 L362.76 446.6 L361.38 445.69 L359.99 446.6 L360.44 445 L359.14 443.97 L360.79 443.9ZM366.23 442.35 L366.81 443.9 L368.46 443.97 L367.16 445 L367.61 446.6 L366.23 445.69 L364.84 446.6 L365.29 445 L363.99 443.97 L365.64 443.9ZM371.08 442.35 L371.66 443.9 L373.31 443.97 L372.01 445 L372.46 446.6 L371.08 445.69 L369.69 446.6 L370.14 445 L368.84 443.97 L370.49 443.9Z" fill="#333"/>
<line x1="268.3" y1="572.4" x2="268.3" y2="655.6" stroke="#8a8a8a" stroke-width="1"/>
<line x1="267.8" y1="655.1" x2="393.5" y2="655.1" stroke="#8a8a8a" stroke-width="1"/>
<line x1="265.3" y1="655.1" x2="268.3" y2="655.1" stroke="#8a8a8a" stroke-width="1"/>
<text x="261.4" y="657.95" font-size="7.9" text-anchor="end" textLength="7.88" lengthAdjust="spacingAndGlyphs">−2</text>
<line x1="265.3" y1="638.56" x2="268.3" y2="638.56" stroke="#8a8a8a" stroke-width="1"/>
<text x="261.4" y="641.41" font-size="7.9" text-anchor="end" textLength="4.5" lengthAdjust="spacingAndGlyphs">0</text>
<line x1="265.3" y1="622.02" x2="268.3" y2="622.02" stroke="#8a8a8a" stroke-width="1"/>
<text x="261.4" y="624.87" font-size="7.9" text-anchor="end" textLength="4.5" lengthAdjust="spacingAndGlyphs">2</text>
<line x1="265.3" y1="605.48" x2="268.3" y2="605.48" stroke="#8a8a8a" stroke-width="1"/>
<text x="261.4" y="608.33" font-size="7.9" text-anchor="end" textLength="4.5" lengthAdjust="spacingAndGlyphs">4</text>
<line x1="265.3" y1="588.94" x2="268.3" y2="588.94" stroke="#8a8a8a" stroke-width="1"/>
<text x="261.4" y="591.79" font-size="7.9" text-anchor="end" textLength="4.5" lengthAdjust="spacingAndGlyphs">6</text>
<line x1="265.3" y1="572.4" x2="268.3" y2="572.4" stroke="#8a8a8a" stroke-width="1"/>
<text x="261.4" y="575.25" font-size="7.9" text-anchor="end" textLength="4.5" lengthAdjust="spacingAndGlyphs">8</text>
<text x="331" y="564" font-size="9" text-anchor="middle" font-style="italic" textLength="16.5" lengthAdjust="spacingAndGlyphs">Mx1</text>
<line x1="298.9" y1="655.1" x2="298.9" y2="658.3" stroke="#8a8a8a" stroke-width="1"/>
<text x="298.9" y="668.31" font-size="7.8" text-anchor="middle" textLength="8.8" lengthAdjust="spacingAndGlyphs">72</text>
<line x1="364.1" y1="655.1" x2="364.1" y2="658.3" stroke="#8a8a8a" stroke-width="1"/>
<text x="364.1" y="668.31" font-size="7.8" text-anchor="middle" textLength="8.8" lengthAdjust="spacingAndGlyphs">96</text>
<text x="331.5" y="681" font-size="9.3" text-anchor="middle" textLength="91" lengthAdjust="spacingAndGlyphs">Time post infection (h)</text>
<line x1="273.7" y1="638.56" x2="281.5" y2="638.56" stroke="#000000" stroke-width="1.4"/>
<circle cx="275" cy="638.39" r="1.75" fill="#000000"/>
<circle cx="277.6" cy="638.56" r="1.75" fill="#000000"/>
<circle cx="280.2" cy="638.31" r="1.75" fill="#000000"/>
<rect x="287.9" y="638.56" width="7.8" height="4.96" fill="#e2e4f5" stroke="#8f99d6" stroke-width="1.4"/>
<line x1="287.9" y1="643.52" x2="295.7" y2="643.52" stroke="#8f99d6" stroke-width="1.4"/>
<circle cx="289.2" cy="643.11" r="1.75" fill="#8f99d6"/>
<circle cx="291.8" cy="643.94" r="1.75" fill="#8f99d6"/>
<circle cx="294.4" cy="643.52" r="1.75" fill="#8f99d6"/>
<rect x="302.1" y="625.16" width="7.8" height="13.4" fill="#fad9e0" stroke="#ee7c93" stroke-width="1.4"/>
<line x1="302.1" y1="625.16" x2="309.9" y2="625.16" stroke="#ee7c93" stroke-width="1.4"/>
<circle cx="303.4" cy="624.5" r="1.75" fill="#ee7c93"/>
<circle cx="306" cy="625.33" r="1.75" fill="#ee7c93"/>
<circle cx="308.6" cy="625.74" r="1.75" fill="#ee7c93"/>
<rect x="316.3" y="580.5" width="7.8" height="58.06" fill="#f1d2b3" stroke="#c8650c" stroke-width="1.4"/>
<line x1="316.3" y1="580.5" x2="324.1" y2="580.5" stroke="#c8650c" stroke-width="1.4"/>
<line x1="320.2" y1="578.19" x2="320.2" y2="583.15" stroke="#333" stroke-width="0.8"/>
<line x1="318.4" y1="578.19" x2="322" y2="578.19" stroke="#333" stroke-width="0.8"/>
<line x1="318.4" y1="583.15" x2="322" y2="583.15" stroke="#333" stroke-width="0.8"/>
<circle cx="317.6" cy="576.53" r="1.75" fill="#c8650c"/>
<circle cx="320.2" cy="582.32" r="1.75" fill="#c8650c"/>
<circle cx="322.8" cy="580.67" r="1.75" fill="#c8650c"/>
<rect x="339.35" y="638.56" width="7.8" height="2.48" fill="#a9a9a9" stroke="#000000" stroke-width="1.4"/>
<line x1="339.35" y1="641.04" x2="347.15" y2="641.04" stroke="#000000" stroke-width="1.4"/>
<line x1="343.25" y1="637.73" x2="343.25" y2="644.35" stroke="#111" stroke-width="0.8"/>
<line x1="341.45" y1="637.73" x2="345.05" y2="637.73" stroke="#111" stroke-width="0.8"/>
<line x1="341.45" y1="644.35" x2="345.05" y2="644.35" stroke="#111" stroke-width="0.8"/>
<circle cx="340.65" cy="635.25" r="1.75" fill="#000000"/>
<circle cx="343.25" cy="645.18" r="1.75" fill="#000000"/>
<circle cx="345.85" cy="644.35" r="1.75" fill="#000000"/>
<rect x="353.25" y="638.56" width="7.8" height="10.34" fill="#e2e4f5" stroke="#8f99d6" stroke-width="1.4"/>
<line x1="353.25" y1="648.9" x2="361.05" y2="648.9" stroke="#8f99d6" stroke-width="1.4"/>
<circle cx="354.55" cy="648.48" r="1.75" fill="#8f99d6"/>
<circle cx="357.15" cy="649.31" r="1.75" fill="#8f99d6"/>
<circle cx="359.75" cy="648.9" r="1.75" fill="#8f99d6"/>
<rect x="367.15" y="634.84" width="7.8" height="3.72" fill="#fad9e0" stroke="#ee7c93" stroke-width="1.4"/>
<line x1="367.15" y1="634.84" x2="374.95" y2="634.84" stroke="#ee7c93" stroke-width="1.4"/>
<circle cx="368.45" cy="634.59" r="1.75" fill="#ee7c93"/>
<circle cx="371.05" cy="635.09" r="1.75" fill="#ee7c93"/>
<circle cx="373.65" cy="634.84" r="1.75" fill="#ee7c93"/>
<rect x="381.05" y="576.95" width="7.8" height="61.61" fill="#f1d2b3" stroke="#c8650c" stroke-width="1.4"/>
<line x1="381.05" y1="576.95" x2="388.85" y2="576.95" stroke="#c8650c" stroke-width="1.4"/>
<line x1="384.95" y1="575.71" x2="384.95" y2="578.19" stroke="#333" stroke-width="0.8"/>
<line x1="383.15" y1="575.71" x2="386.75" y2="575.71" stroke="#333" stroke-width="0.8"/>
<line x1="383.15" y1="578.19" x2="386.75" y2="578.19" stroke="#333" stroke-width="0.8"/>
<circle cx="382.35" cy="576.53" r="1.75" fill="#c8650c"/>
<circle cx="384.95" cy="578.19" r="1.75" fill="#c8650c"/>
<circle cx="387.55" cy="576.95" r="1.75" fill="#c8650c"/>
<line x1="265.3" y1="638.56" x2="393.5" y2="638.56" stroke="#111" stroke-width="1"/>
<text x="284.9" y="624.95" font-size="9.2" text-anchor="middle" textLength="11.6" lengthAdjust="spacingAndGlyphs">NS</text>
<path d="M285.12 602.75 L285.71 604.3 L287.36 604.37 L286.06 605.4 L286.51 607 L285.12 606.09 L283.74 607 L284.19 605.4 L282.89 604.37 L284.54 604.3ZM289.98 602.75 L290.56 604.3 L292.21 604.37 L290.91 605.4 L291.36 607 L289.98 606.09 L288.59 607 L289.04 605.4 L287.74 604.37 L289.39 604.3ZM294.82 602.75 L295.41 604.3 L297.06 604.37 L295.76 605.4 L296.21 607 L294.82 606.09 L293.44 607 L293.89 605.4 L292.59 604.37 L294.24 604.3ZM299.68 602.75 L300.26 604.3 L301.91 604.37 L300.61 605.4 L301.06 607 L299.68 606.09 L298.29 607 L298.74 605.4 L297.44 604.37 L299.09 604.3Z" fill="#333"/>
<polyline points="277.6,597.9 277.6,571 320.2,571 320.2,575" fill="none" stroke="#3a3a3a" stroke-width="0.95" stroke-linejoin="round" stroke-linejoin="miter"/>
<path d="M292.23 562.35 L292.81 563.9 L294.46 563.97 L293.16 565 L293.61 566.6 L292.23 565.69 L290.84 566.6 L291.29 565 L289.99 563.97 L291.64 563.9ZM297.08 562.35 L297.66 563.9 L299.31 563.97 L298.01 565 L298.46 566.6 L297.08 565.69 L295.69 566.6 L296.14 565 L294.84 563.97 L296.49 563.9ZM301.93 562.35 L302.51 563.9 L304.16 563.97 L302.86 565 L303.31 566.6 L301.93 565.69 L300.54 566.6 L300.99 565 L299.69 563.97 L301.34 563.9ZM306.78 562.35 L307.36 563.9 L309.01 563.97 L307.71 565 L308.16 566.6 L306.78 565.69 L305.39 566.6 L305.84 565 L304.54 563.97 L306.19 563.9Z" fill="#333"/>
<polyline points="343.25,630.5 343.25,628.2 357.15,628.2 357.15,633.7" fill="none" stroke="#3a3a3a" stroke-width="0.95" stroke-linejoin="round" stroke-linejoin="miter"/>
<path d="M350.8 619.95 L351.38 621.5 L353.03 621.57 L351.74 622.6 L352.18 624.2 L350.8 623.29 L349.42 624.2 L349.86 622.6 L348.57 621.57 L350.22 621.5Z" fill="#333"/>
<polyline points="343.25,617 343.25,614.7 371.05,614.7 371.05,629.6" fill="none" stroke="#3a3a3a" stroke-width="0.95" stroke-linejoin="round" stroke-linejoin="miter"/>
<path d="M357.75 606.05 L358.33 607.6 L359.98 607.67 L358.69 608.7 L359.13 610.3 L357.75 609.39 L356.37 610.3 L356.81 608.7 L355.52 607.67 L357.17 607.6Z" fill="#333"/>
<polyline points="343.25,609.8 343.25,570.3 384.95,570.3 384.95,575" fill="none" stroke="#3a3a3a" stroke-width="0.95" stroke-linejoin="round" stroke-linejoin="miter"/>
<path d="M357.43 562.35 L358.01 563.9 L359.66 563.97 L358.36 565 L358.81 566.6 L357.43 565.69 L356.04 566.6 L356.49 565 L355.19 563.97 L356.84 563.9ZM362.28 562.35 L362.86 563.9 L364.51 563.97 L363.21 565 L363.66 566.6 L362.28 565.69 L360.89 566.6 L361.34 565 L360.04 563.97 L361.69 563.9ZM367.13 562.35 L367.71 563.9 L369.36 563.97 L368.06 565 L368.51 566.6 L367.13 565.69 L365.74 566.6 L366.19 565 L364.89 563.97 L366.54 563.9ZM371.98 562.35 L372.56 563.9 L374.21 563.97 L372.91 565 L373.36 566.6 L371.98 565.69 L370.59 566.6 L371.04 565 L369.74 563.97 L371.39 563.9Z" fill="#333"/>
<line x1="468.6" y1="186.4" x2="468.6" y2="266.1" stroke="#8a8a8a" stroke-width="1"/>
<line x1="468.1" y1="265.6" x2="587.1" y2="265.6" stroke="#8a8a8a" stroke-width="1"/>
<line x1="465.6" y1="265.6" x2="468.6" y2="265.6" stroke="#8a8a8a" stroke-width="1"/>
<text x="461.7" y="268.45" font-size="7.9" text-anchor="end" textLength="7.88" lengthAdjust="spacingAndGlyphs">−2</text>
<line x1="465.6" y1="245.8" x2="468.6" y2="245.8" stroke="#8a8a8a" stroke-width="1"/>
<text x="461.7" y="248.65" font-size="7.9" text-anchor="end" textLength="4.5" lengthAdjust="spacingAndGlyphs">0</text>
<line x1="465.6" y1="226" x2="468.6" y2="226" stroke="#8a8a8a" stroke-width="1"/>
<text x="461.7" y="228.85" font-size="7.9" text-anchor="end" textLength="4.5" lengthAdjust="spacingAndGlyphs">2</text>
<line x1="465.6" y1="206.2" x2="468.6" y2="206.2" stroke="#8a8a8a" stroke-width="1"/>
<text x="461.7" y="209.05" font-size="7.9" text-anchor="end" textLength="4.5" lengthAdjust="spacingAndGlyphs">4</text>
<line x1="465.6" y1="186.4" x2="468.6" y2="186.4" stroke="#8a8a8a" stroke-width="1"/>
<text x="461.7" y="189.25" font-size="7.9" text-anchor="end" textLength="4.5" lengthAdjust="spacingAndGlyphs">6</text>
<text x="527.6" y="176.1" font-size="9" text-anchor="middle" font-style="italic" textLength="20.5" lengthAdjust="spacingAndGlyphs">Ifnb1</text>
<line x1="496.9" y1="265.6" x2="496.9" y2="268.8" stroke="#8a8a8a" stroke-width="1"/>
<text x="496.9" y="278.51" font-size="7.8" text-anchor="middle" textLength="8.8" lengthAdjust="spacingAndGlyphs">72</text>
<line x1="558.7" y1="265.6" x2="558.7" y2="268.8" stroke="#8a8a8a" stroke-width="1"/>
<text x="558.7" y="278.51" font-size="7.8" text-anchor="middle" textLength="8.8" lengthAdjust="spacingAndGlyphs">96</text>
<text x="528.4" y="291.6" font-size="9.3" text-anchor="middle" textLength="92.4" lengthAdjust="spacingAndGlyphs">Time post infection (h)</text>
<line x1="473.05" y1="245.8" x2="480.85" y2="245.8" stroke="#000000" stroke-width="1.4"/>
<circle cx="474.35" cy="244.81" r="1.75" fill="#000000"/>
<circle cx="476.95" cy="247.78" r="1.75" fill="#000000"/>
<circle cx="479.55" cy="246.3" r="1.75" fill="#000000"/>
<rect x="486.35" y="241.35" width="7.8" height="4.45" fill="#e2e4f5" stroke="#8f99d6" stroke-width="1.4"/>
<line x1="486.35" y1="241.35" x2="494.15" y2="241.35" stroke="#8f99d6" stroke-width="1.4"/>
<circle cx="487.65" cy="240.85" r="1.75" fill="#8f99d6"/>
<circle cx="490.25" cy="241.64" r="1.75" fill="#8f99d6"/>
<circle cx="492.85" cy="241.35" r="1.75" fill="#8f99d6"/>
<rect x="499.65" y="243.82" width="7.8" height="1.98" fill="#fad9e0" stroke="#ee7c93" stroke-width="1.4"/>
<line x1="499.65" y1="243.82" x2="507.45" y2="243.82" stroke="#ee7c93" stroke-width="1.4"/>
<circle cx="500.95" cy="243.33" r="1.75" fill="#ee7c93"/>
<circle cx="503.55" cy="244.31" r="1.75" fill="#ee7c93"/>
<circle cx="506.15" cy="243.82" r="1.75" fill="#ee7c93"/>
<rect x="512.95" y="192.84" width="7.8" height="52.97" fill="#f1d2b3" stroke="#c8650c" stroke-width="1.4"/>
<line x1="512.95" y1="192.84" x2="520.75" y2="192.84" stroke="#c8650c" stroke-width="1.4"/>
<circle cx="514.25" cy="192.34" r="1.75" fill="#c8650c"/>
<circle cx="516.85" cy="192.84" r="1.75" fill="#c8650c"/>
<circle cx="519.45" cy="193.03" r="1.75" fill="#c8650c"/>
<line x1="534.55" y1="245.8" x2="542.35" y2="245.8" stroke="#000000" stroke-width="1.4"/>
<circle cx="535.85" cy="244.31" r="1.75" fill="#000000"/>
<circle cx="538.45" cy="248.28" r="1.75" fill="#000000"/>
<circle cx="541.05" cy="245.31" r="1.75" fill="#000000"/>
<rect x="548.05" y="236.4" width="7.8" height="9.41" fill="#e2e4f5" stroke="#8f99d6" stroke-width="1.4"/>
<line x1="548.05" y1="236.4" x2="555.85" y2="236.4" stroke="#8f99d6" stroke-width="1.4"/>
<circle cx="549.35" cy="235.9" r="1.75" fill="#8f99d6"/>
<circle cx="551.95" cy="236.69" r="1.75" fill="#8f99d6"/>
<circle cx="554.55" cy="236.4" r="1.75" fill="#8f99d6"/>
<rect x="561.55" y="245.8" width="7.8" height="3.47" fill="#fad9e0" stroke="#ee7c93" stroke-width="1.4"/>
<line x1="561.55" y1="249.27" x2="569.35" y2="249.27" stroke="#ee7c93" stroke-width="1.4"/>
<circle cx="562.85" cy="248.77" r="1.75" fill="#ee7c93"/>
<circle cx="565.45" cy="249.76" r="1.75" fill="#ee7c93"/>
<circle cx="568.05" cy="249.27" r="1.75" fill="#ee7c93"/>
<rect x="575.05" y="194.81" width="7.8" height="50.99" fill="#f1d2b3" stroke="#c8650c" stroke-width="1.4"/>
<line x1="575.05" y1="194.81" x2="582.85" y2="194.81" stroke="#c8650c" stroke-width="1.4"/>
<circle cx="576.35" cy="194.32" r="1.75" fill="#c8650c"/>
<circle cx="578.95" cy="194.81" r="1.75" fill="#c8650c"/>
<circle cx="581.55" cy="195.01" r="1.75" fill="#c8650c"/>
<line x1="465.6" y1="245.8" x2="587.1" y2="245.8" stroke="#666" stroke-width="1"/>
<polyline points="476.95,236 476.95,233.6 490.25,233.6 490.25,236" fill="none" stroke="#3a3a3a" stroke-width="0.95" stroke-linejoin="round" stroke-linejoin="miter"/>
<path d="M481.78 225.25 L482.36 226.8 L484.01 226.87 L482.71 227.9 L483.16 229.5 L481.78 228.59 L480.39 229.5 L480.84 227.9 L479.54 226.87 L481.19 226.8ZM486.63 225.25 L487.21 226.8 L488.86 226.87 L487.56 227.9 L488.01 229.5 L486.63 228.59 L485.24 229.5 L485.69 227.9 L484.39 226.87 L486.04 226.8Z" fill="#333"/>
<polyline points="476.95,224 476.95,221.9 503.55,221.9 503.55,240.1" fill="none" stroke="#3a3a3a" stroke-width="0.95" stroke-linejoin="round" stroke-linejoin="miter"/>
<text x="490.45" y="218.05" font-size="9.2" text-anchor="middle" textLength="11.6" lengthAdjust="spacingAndGlyphs">NS</text>
<polyline points="476.95,216 476.95,187.6 516.85,187.6 516.85,191" fill="none" stroke="#3a3a3a" stroke-width="0.95" stroke-linejoin="round" stroke-linejoin="miter"/>
<path d="M490.23 179.75 L490.81 181.3 L492.46 181.37 L491.16 182.4 L491.61 184 L490.23 183.09 L488.84 184 L489.29 182.4 L487.99 181.37 L489.64 181.3ZM495.08 179.75 L495.66 181.3 L497.31 181.37 L496.01 182.4 L496.46 184 L495.08 183.09 L493.69 184 L494.14 182.4 L492.84 181.37 L494.49 181.3ZM499.93 179.75 L500.51 181.3 L502.16 181.37 L500.86 182.4 L501.31 184 L499.93 183.09 L498.54 184 L498.99 182.4 L497.69 181.37 L499.34 181.3ZM504.78 179.75 L505.36 181.3 L507.01 181.37 L505.71 182.4 L506.16 184 L504.78 183.09 L503.39 184 L503.84 182.4 L502.54 181.37 L504.19 181.3Z" fill="#333"/>
<polyline points="538.45,230 538.45,227.7 551.95,227.7 551.95,230" fill="none" stroke="#3a3a3a" stroke-width="0.95" stroke-linejoin="round" stroke-linejoin="miter"/>
<path d="M538.53 219.45 L539.11 221 L540.76 221.07 L539.46 222.1 L539.91 223.7 L538.53 222.79 L537.14 223.7 L537.59 222.1 L536.29 221.07 L537.94 221ZM543.38 219.45 L543.96 221 L545.61 221.07 L544.31 222.1 L544.76 223.7 L543.38 222.79 L541.99 223.7 L542.44 222.1 L541.14 221.07 L542.79 221ZM548.23 219.45 L548.81 221 L550.46 221.07 L549.16 222.1 L549.61 223.7 L548.23 222.79 L546.84 223.7 L547.29 222.1 L545.99 221.07 L547.64 221ZM553.08 219.45 L553.66 221 L555.31 221.07 L554.01 222.1 L554.46 223.7 L553.08 222.79 L551.69 223.7 L552.14 222.1 L550.84 221.07 L552.49 221Z" fill="#333"/>
<polyline points="538.45,218.5 538.45,216 565.45,216 565.45,241.8" fill="none" stroke="#3a3a3a" stroke-width="0.95" stroke-linejoin="round" stroke-linejoin="miter"/>
<path d="M552.55 208.45 L553.13 210 L554.78 210.07 L553.49 211.1 L553.93 212.7 L552.55 211.79 L551.17 212.7 L551.61 211.1 L550.32 210.07 L551.97 210Z" fill="#333"/>
<polyline points="538.45,210.9 538.45,186.9 578.95,186.9 578.95,190.5" fill="none" stroke="#3a3a3a" stroke-width="0.95" stroke-linejoin="round" stroke-linejoin="miter"/>
<path d="M552.03 176.95 L552.61 178.5 L554.26 178.57 L552.96 179.6 L553.41 181.2 L552.03 180.29 L550.64 181.2 L551.09 179.6 L549.79 178.57 L551.44 178.5ZM556.88 176.95 L557.46 178.5 L559.11 178.57 L557.81 179.6 L558.26 181.2 L556.88 180.29 L555.49 181.2 L555.94 179.6 L554.64 178.57 L556.29 178.5ZM561.73 176.95 L562.31 178.5 L563.96 178.57 L562.66 179.6 L563.11 181.2 L561.73 180.29 L560.34 181.2 L560.79 179.6 L559.49 178.57 L561.14 178.5ZM566.58 176.95 L567.16 178.5 L568.81 178.57 L567.51 179.6 L567.96 181.2 L566.58 180.29 L565.19 181.2 L565.64 179.6 L564.34 178.57 L565.99 178.5Z" fill="#333"/>
<line x1="468.5" y1="312.7" x2="468.5" y2="393.3" stroke="#8a8a8a" stroke-width="1"/>
<line x1="468" y1="392.8" x2="589.5" y2="392.8" stroke="#8a8a8a" stroke-width="1"/>
<line x1="465.5" y1="392.8" x2="468.5" y2="392.8" stroke="#8a8a8a" stroke-width="1"/>
<text x="461.6" y="395.65" font-size="7.9" text-anchor="end" textLength="7.88" lengthAdjust="spacingAndGlyphs">−2</text>
<line x1="465.5" y1="372.77" x2="468.5" y2="372.77" stroke="#8a8a8a" stroke-width="1"/>
<text x="461.6" y="375.62" font-size="7.9" text-anchor="end" textLength="4.5" lengthAdjust="spacingAndGlyphs">0</text>
<line x1="465.5" y1="352.75" x2="468.5" y2="352.75" stroke="#8a8a8a" stroke-width="1"/>
<text x="461.6" y="355.6" font-size="7.9" text-anchor="end" textLength="4.5" lengthAdjust="spacingAndGlyphs">2</text>
<line x1="465.5" y1="332.73" x2="468.5" y2="332.73" stroke="#8a8a8a" stroke-width="1"/>
<text x="461.6" y="335.57" font-size="7.9" text-anchor="end" textLength="4.5" lengthAdjust="spacingAndGlyphs">4</text>
<line x1="465.5" y1="312.7" x2="468.5" y2="312.7" stroke="#8a8a8a" stroke-width="1"/>
<text x="461.6" y="315.55" font-size="7.9" text-anchor="end" textLength="4.5" lengthAdjust="spacingAndGlyphs">6</text>
<text x="528.8" y="303.8" font-size="9" text-anchor="middle" font-style="italic" textLength="13.5" lengthAdjust="spacingAndGlyphs">Il-6</text>
<line x1="497" y1="392.8" x2="497" y2="396" stroke="#8a8a8a" stroke-width="1"/>
<text x="497" y="406.81" font-size="7.8" text-anchor="middle" textLength="8.8" lengthAdjust="spacingAndGlyphs">72</text>
<line x1="558.9" y1="392.8" x2="558.9" y2="396" stroke="#8a8a8a" stroke-width="1"/>
<text x="558.9" y="406.81" font-size="7.8" text-anchor="middle" textLength="8.8" lengthAdjust="spacingAndGlyphs">96</text>
<text x="528.7" y="419.9" font-size="9.3" text-anchor="middle" textLength="92.2" lengthAdjust="spacingAndGlyphs">Time post infection (h)</text>
<line x1="473" y1="372.77" x2="480.8" y2="372.77" stroke="#000000" stroke-width="1.4"/>
<circle cx="474.3" cy="372.57" r="1.75" fill="#000000"/>
<circle cx="476.9" cy="372.77" r="1.75" fill="#000000"/>
<circle cx="479.5" cy="372.98" r="1.75" fill="#000000"/>
<rect x="486.4" y="369.27" width="7.8" height="3.5" fill="#e2e4f5" stroke="#8f99d6" stroke-width="1.4"/>
<line x1="486.4" y1="369.27" x2="494.2" y2="369.27" stroke="#8f99d6" stroke-width="1.4"/>
<circle cx="487.7" cy="368.77" r="1.75" fill="#8f99d6"/>
<circle cx="490.3" cy="369.47" r="1.75" fill="#8f99d6"/>
<circle cx="492.9" cy="369.27" r="1.75" fill="#8f99d6"/>
<rect x="499.8" y="371.27" width="7.8" height="1.5" fill="#fad9e0" stroke="#ee7c93" stroke-width="1.4"/>
<line x1="499.8" y1="371.27" x2="507.6" y2="371.27" stroke="#ee7c93" stroke-width="1.4"/>
<circle cx="501.1" cy="370.77" r="1.75" fill="#ee7c93"/>
<circle cx="503.7" cy="371.57" r="1.75" fill="#ee7c93"/>
<circle cx="506.3" cy="371.27" r="1.75" fill="#ee7c93"/>
<rect x="513.2" y="327.22" width="7.8" height="45.56" fill="#f1d2b3" stroke="#c8650c" stroke-width="1.4"/>
<line x1="513.2" y1="327.22" x2="521" y2="327.22" stroke="#c8650c" stroke-width="1.4"/>
<circle cx="514.5" cy="326.72" r="1.75" fill="#c8650c"/>
<circle cx="517.1" cy="327.22" r="1.75" fill="#c8650c"/>
<circle cx="519.7" cy="327.52" r="1.75" fill="#c8650c"/>
<line x1="534.3" y1="372.77" x2="542.1" y2="372.77" stroke="#000000" stroke-width="1.4"/>
<circle cx="535.6" cy="372.57" r="1.75" fill="#000000"/>
<circle cx="538.2" cy="373.78" r="1.75" fill="#000000"/>
<circle cx="540.8" cy="372.47" r="1.75" fill="#000000"/>
<rect x="548.1" y="366.47" width="7.8" height="6.31" fill="#e2e4f5" stroke="#8f99d6" stroke-width="1.4"/>
<line x1="548.1" y1="366.47" x2="555.9" y2="366.47" stroke="#8f99d6" stroke-width="1.4"/>
<circle cx="549.4" cy="365.97" r="1.75" fill="#8f99d6"/>
<circle cx="552" cy="366.77" r="1.75" fill="#8f99d6"/>
<circle cx="554.6" cy="366.47" r="1.75" fill="#8f99d6"/>
<rect x="561.9" y="372.77" width="7.8" height="7.01" fill="#fad9e0" stroke="#ee7c93" stroke-width="1.4"/>
<line x1="561.9" y1="379.78" x2="569.7" y2="379.78" stroke="#ee7c93" stroke-width="1.4"/>
<circle cx="563.2" cy="379.28" r="1.75" fill="#ee7c93"/>
<circle cx="565.8" cy="380.28" r="1.75" fill="#ee7c93"/>
<circle cx="568.4" cy="379.78" r="1.75" fill="#ee7c93"/>
<rect x="575.7" y="320.21" width="7.8" height="52.57" fill="#f1d2b3" stroke="#c8650c" stroke-width="1.4"/>
<line x1="575.7" y1="320.21" x2="583.5" y2="320.21" stroke="#c8650c" stroke-width="1.4"/>
<circle cx="577" cy="319.71" r="1.75" fill="#c8650c"/>
<circle cx="579.6" cy="320.21" r="1.75" fill="#c8650c"/>
<circle cx="582.2" cy="320.51" r="1.75" fill="#c8650c"/>
<line x1="465.5" y1="372.77" x2="589.5" y2="372.77" stroke="#444" stroke-width="1"/>
<polyline points="476.9,364.5 476.9,362.4 490.3,362.4 490.3,364.5" fill="none" stroke="#3a3a3a" stroke-width="0.95" stroke-linejoin="round" stroke-linejoin="miter"/>
<path d="M476.93 355.25 L477.51 356.8 L479.16 356.87 L477.86 357.9 L478.31 359.5 L476.93 358.59 L475.54 359.5 L475.99 357.9 L474.69 356.87 L476.34 356.8ZM481.78 355.25 L482.36 356.8 L484.01 356.87 L482.71 357.9 L483.16 359.5 L481.78 358.59 L480.39 359.5 L480.84 357.9 L479.54 356.87 L481.19 356.8ZM486.63 355.25 L487.21 356.8 L488.86 356.87 L487.56 357.9 L488.01 359.5 L486.63 358.59 L485.24 359.5 L485.69 357.9 L484.39 356.87 L486.04 356.8ZM491.48 355.25 L492.06 356.8 L493.71 356.87 L492.41 357.9 L492.86 359.5 L491.48 358.59 L490.09 359.5 L490.54 357.9 L489.24 356.87 L490.89 356.8Z" fill="#333"/>
<polyline points="476.9,347 476.9,344.9 503.7,344.9 503.7,365.9" fill="none" stroke="#3a3a3a" stroke-width="0.95" stroke-linejoin="round" stroke-linejoin="miter"/>
<path d="M490.9 338.45 L491.48 340 L493.13 340.07 L491.84 341.1 L492.28 342.7 L490.9 341.79 L489.52 342.7 L489.96 341.1 L488.67 340.07 L490.32 340Z" fill="#333"/>
<polyline points="476.9,340.2 476.9,321.5 517.1,321.5 517.1,325" fill="none" stroke="#3a3a3a" stroke-width="0.95" stroke-linejoin="round" stroke-linejoin="miter"/>
<path d="M490.33 314.45 L490.91 316 L492.56 316.07 L491.26 317.1 L491.71 318.7 L490.33 317.79 L488.94 318.7 L489.39 317.1 L488.09 316.07 L489.74 316ZM495.18 314.45 L495.76 316 L497.41 316.07 L496.11 317.1 L496.56 318.7 L495.18 317.79 L493.79 318.7 L494.24 317.1 L492.94 316.07 L494.59 316ZM500.03 314.45 L500.61 316 L502.26 316.07 L500.96 317.1 L501.41 318.7 L500.03 317.79 L498.64 318.7 L499.09 317.1 L497.79 316.07 L499.44 316ZM504.88 314.45 L505.46 316 L507.11 316.07 L505.81 317.1 L506.26 318.7 L504.88 317.79 L503.49 318.7 L503.94 317.1 L502.64 316.07 L504.29 316Z" fill="#333"/>
<polyline points="538.2,364 538.2,361.7 552,361.7 552,364" fill="none" stroke="#3a3a3a" stroke-width="0.95" stroke-linejoin="round" stroke-linejoin="miter"/>
<path d="M538.42 355.25 L539.01 356.8 L540.66 356.87 L539.36 357.9 L539.81 359.5 L538.42 358.59 L537.04 359.5 L537.49 357.9 L536.19 356.87 L537.84 356.8ZM543.27 355.25 L543.86 356.8 L545.51 356.87 L544.21 357.9 L544.66 359.5 L543.27 358.59 L541.89 359.5 L542.34 357.9 L541.04 356.87 L542.69 356.8ZM548.12 355.25 L548.71 356.8 L550.36 356.87 L549.06 357.9 L549.51 359.5 L548.12 358.59 L546.74 359.5 L547.19 357.9 L545.89 356.87 L547.54 356.8ZM552.97 355.25 L553.56 356.8 L555.21 356.87 L553.91 357.9 L554.36 359.5 L552.97 358.59 L551.59 359.5 L552.04 357.9 L550.74 356.87 L552.39 356.8Z" fill="#333"/>
<polyline points="538.2,347 538.2,344.9 565.8,344.9 565.8,368.3" fill="none" stroke="#3a3a3a" stroke-width="0.95" stroke-linejoin="round" stroke-linejoin="miter"/>
<path d="M545.33 337.75 L545.91 339.3 L547.56 339.37 L546.26 340.4 L546.71 342 L545.33 341.09 L543.94 342 L544.39 340.4 L543.09 339.37 L544.74 339.3ZM550.18 337.75 L550.76 339.3 L552.41 339.37 L551.11 340.4 L551.56 342 L550.18 341.09 L548.79 342 L549.24 340.4 L547.94 339.37 L549.59 339.3ZM555.03 337.75 L555.61 339.3 L557.26 339.37 L555.96 340.4 L556.41 342 L555.03 341.09 L553.64 342 L554.09 340.4 L552.79 339.37 L554.44 339.3ZM559.88 337.75 L560.46 339.3 L562.11 339.37 L560.81 340.4 L561.26 342 L559.88 341.09 L558.49 342 L558.94 340.4 L557.64 339.37 L559.29 339.3Z" fill="#333"/>
<polyline points="538.2,332 538.2,314.5 579.6,314.5 579.6,318" fill="none" stroke="#3a3a3a" stroke-width="0.95" stroke-linejoin="round" stroke-linejoin="miter"/>
<path d="M552.23 307.45 L552.81 309 L554.46 309.07 L553.16 310.1 L553.61 311.7 L552.23 310.79 L550.84 311.7 L551.29 310.1 L549.99 309.07 L551.64 309ZM557.08 307.45 L557.66 309 L559.31 309.07 L558.01 310.1 L558.46 311.7 L557.08 310.79 L555.69 311.7 L556.14 310.1 L554.84 309.07 L556.49 309ZM561.93 307.45 L562.51 309 L564.16 309.07 L562.86 310.1 L563.31 311.7 L561.93 310.79 L560.54 311.7 L560.99 310.1 L559.69 309.07 L561.34 309ZM566.77 307.45 L567.36 309 L569.01 309.07 L567.71 310.1 L568.16 311.7 L566.77 310.79 L565.39 311.7 L565.84 310.1 L564.54 309.07 L566.19 309Z" fill="#333"/>
<line x1="468.5" y1="439.2" x2="468.5" y2="522.6" stroke="#8a8a8a" stroke-width="1"/>
<line x1="468" y1="522.1" x2="593" y2="522.1" stroke="#8a8a8a" stroke-width="1"/>
<line x1="465.5" y1="522.1" x2="468.5" y2="522.1" stroke="#8a8a8a" stroke-width="1"/>
<text x="461.6" y="524.95" font-size="7.9" text-anchor="end" textLength="7.88" lengthAdjust="spacingAndGlyphs">−2</text>
<line x1="465.5" y1="505.52" x2="468.5" y2="505.52" stroke="#8a8a8a" stroke-width="1"/>
<text x="461.6" y="508.37" font-size="7.9" text-anchor="end" textLength="4.5" lengthAdjust="spacingAndGlyphs">0</text>
<line x1="465.5" y1="488.94" x2="468.5" y2="488.94" stroke="#8a8a8a" stroke-width="1"/>
<text x="461.6" y="491.79" font-size="7.9" text-anchor="end" textLength="4.5" lengthAdjust="spacingAndGlyphs">2</text>
<line x1="465.5" y1="472.36" x2="468.5" y2="472.36" stroke="#8a8a8a" stroke-width="1"/>
<text x="461.6" y="475.21" font-size="7.9" text-anchor="end" textLength="4.5" lengthAdjust="spacingAndGlyphs">4</text>
<line x1="465.5" y1="455.78" x2="468.5" y2="455.78" stroke="#8a8a8a" stroke-width="1"/>
<text x="461.6" y="458.63" font-size="7.9" text-anchor="end" textLength="4.5" lengthAdjust="spacingAndGlyphs">6</text>
<line x1="465.5" y1="439.2" x2="468.5" y2="439.2" stroke="#8a8a8a" stroke-width="1"/>
<text x="461.6" y="442.05" font-size="7.9" text-anchor="end" textLength="4.5" lengthAdjust="spacingAndGlyphs">8</text>
<text x="530.6" y="435" font-size="9" text-anchor="middle" font-style="italic" textLength="15.8" lengthAdjust="spacingAndGlyphs">Ifit1</text>
<line x1="498.4" y1="522.1" x2="498.4" y2="525.3" stroke="#8a8a8a" stroke-width="1"/>
<text x="498.4" y="534.91" font-size="7.8" text-anchor="middle" textLength="8.8" lengthAdjust="spacingAndGlyphs">72</text>
<line x1="562.7" y1="522.1" x2="562.7" y2="525.3" stroke="#8a8a8a" stroke-width="1"/>
<text x="562.7" y="534.91" font-size="7.8" text-anchor="middle" textLength="8.8" lengthAdjust="spacingAndGlyphs">96</text>
<text x="531.2" y="548.8" font-size="9.3" text-anchor="middle" textLength="92" lengthAdjust="spacingAndGlyphs">Time post infection (h)</text>
<rect x="473.65" y="505.52" width="7.8" height="0.41" fill="#a9a9a9" stroke="#000000" stroke-width="1.4"/>
<line x1="473.65" y1="505.93" x2="481.45" y2="505.93" stroke="#000000" stroke-width="1.4"/>
<circle cx="474.95" cy="503.45" r="1.75" fill="#000000"/>
<circle cx="477.55" cy="507.18" r="1.75" fill="#000000"/>
<circle cx="480.15" cy="506.35" r="1.75" fill="#000000"/>
<rect x="487.55" y="501.79" width="7.8" height="3.73" fill="#e2e4f5" stroke="#8f99d6" stroke-width="1.4"/>
<line x1="487.55" y1="501.79" x2="495.35" y2="501.79" stroke="#8f99d6" stroke-width="1.4"/>
<circle cx="488.85" cy="501.38" r="1.75" fill="#8f99d6"/>
<circle cx="491.45" cy="502.04" r="1.75" fill="#8f99d6"/>
<circle cx="494.05" cy="501.79" r="1.75" fill="#8f99d6"/>
<rect x="501.45" y="500.13" width="7.8" height="5.39" fill="#fad9e0" stroke="#ee7c93" stroke-width="1.4"/>
<line x1="501.45" y1="500.13" x2="509.25" y2="500.13" stroke="#ee7c93" stroke-width="1.4"/>
<circle cx="502.75" cy="498.89" r="1.75" fill="#ee7c93"/>
<circle cx="505.35" cy="500.55" r="1.75" fill="#ee7c93"/>
<circle cx="507.95" cy="500.13" r="1.75" fill="#ee7c93"/>
<rect x="515.35" y="458.27" width="7.8" height="47.25" fill="#f1d2b3" stroke="#c8650c" stroke-width="1.4"/>
<line x1="515.35" y1="458.27" x2="523.15" y2="458.27" stroke="#c8650c" stroke-width="1.4"/>
<circle cx="516.65" cy="457.85" r="1.75" fill="#c8650c"/>
<circle cx="519.25" cy="458.27" r="1.75" fill="#c8650c"/>
<circle cx="521.85" cy="458.43" r="1.75" fill="#c8650c"/>
<line x1="537.8" y1="505.52" x2="545.6" y2="505.52" stroke="#000000" stroke-width="1.4"/>
<circle cx="539.1" cy="504.69" r="1.75" fill="#000000"/>
<circle cx="541.7" cy="508.42" r="1.75" fill="#000000"/>
<circle cx="544.3" cy="505.11" r="1.75" fill="#000000"/>
<rect x="551.8" y="496.82" width="7.8" height="8.7" fill="#e2e4f5" stroke="#8f99d6" stroke-width="1.4"/>
<line x1="551.8" y1="496.82" x2="559.6" y2="496.82" stroke="#8f99d6" stroke-width="1.4"/>
<circle cx="553.1" cy="496.4" r="1.75" fill="#8f99d6"/>
<circle cx="555.7" cy="497.06" r="1.75" fill="#8f99d6"/>
<circle cx="558.3" cy="496.82" r="1.75" fill="#8f99d6"/>
<rect x="565.8" y="504.28" width="7.8" height="1.24" fill="#fad9e0" stroke="#ee7c93" stroke-width="1.4"/>
<line x1="565.8" y1="504.28" x2="573.6" y2="504.28" stroke="#ee7c93" stroke-width="1.4"/>
<circle cx="567.1" cy="503.86" r="1.75" fill="#ee7c93"/>
<circle cx="569.7" cy="504.69" r="1.75" fill="#ee7c93"/>
<circle cx="572.3" cy="504.28" r="1.75" fill="#ee7c93"/>
<rect x="579.8" y="449.98" width="7.8" height="55.54" fill="#f1d2b3" stroke="#c8650c" stroke-width="1.4"/>
<line x1="579.8" y1="449.98" x2="587.6" y2="449.98" stroke="#c8650c" stroke-width="1.4"/>
<circle cx="581.1" cy="449.56" r="1.75" fill="#c8650c"/>
<circle cx="583.7" cy="449.98" r="1.75" fill="#c8650c"/>
<circle cx="586.3" cy="450.14" r="1.75" fill="#c8650c"/>
<line x1="465.5" y1="505.52" x2="593" y2="505.52" stroke="#222" stroke-width="1"/>
<polyline points="477.55,496 477.55,493.6 491.45,493.6 491.45,496" fill="none" stroke="#3a3a3a" stroke-width="0.95" stroke-linejoin="round" stroke-linejoin="miter"/>
<path d="M482.68 485.25 L483.26 486.8 L484.91 486.87 L483.61 487.9 L484.06 489.5 L482.68 488.59 L481.29 489.5 L481.74 487.9 L480.44 486.87 L482.09 486.8ZM487.53 485.25 L488.11 486.8 L489.76 486.87 L488.46 487.9 L488.91 489.5 L487.53 488.59 L486.14 489.5 L486.59 487.9 L485.29 486.87 L486.94 486.8Z" fill="#333"/>
<polyline points="477.55,483 477.55,480.7 505.35,480.7 505.35,492.9" fill="none" stroke="#3a3a3a" stroke-width="0.95" stroke-linejoin="round" stroke-linejoin="miter"/>
<path d="M484.77 472.95 L485.36 474.5 L487.01 474.57 L485.71 475.6 L486.16 477.2 L484.77 476.29 L483.39 477.2 L483.84 475.6 L482.54 474.57 L484.19 474.5ZM489.62 472.95 L490.21 474.5 L491.86 474.57 L490.56 475.6 L491.01 477.2 L489.62 476.29 L488.24 477.2 L488.69 475.6 L487.39 474.57 L489.04 474.5ZM494.47 472.95 L495.06 474.5 L496.71 474.57 L495.41 475.6 L495.86 477.2 L494.47 476.29 L493.09 477.2 L493.54 475.6 L492.24 474.57 L493.89 474.5ZM499.32 472.95 L499.91 474.5 L501.56 474.57 L500.26 475.6 L500.71 477.2 L499.32 476.29 L497.94 477.2 L498.39 475.6 L497.09 474.57 L498.74 474.5Z" fill="#333"/>
<polyline points="477.55,467.9 477.55,451.5 519.25,451.5 519.25,455" fill="none" stroke="#3a3a3a" stroke-width="0.95" stroke-linejoin="round" stroke-linejoin="miter"/>
<path d="M491.73 443.75 L492.31 445.3 L493.96 445.37 L492.66 446.4 L493.11 448 L491.73 447.09 L490.34 448 L490.79 446.4 L489.49 445.37 L491.14 445.3ZM496.58 443.75 L497.16 445.3 L498.81 445.37 L497.51 446.4 L497.96 448 L496.58 447.09 L495.19 448 L495.64 446.4 L494.34 445.37 L495.99 445.3ZM501.43 443.75 L502.01 445.3 L503.66 445.37 L502.36 446.4 L502.81 448 L501.43 447.09 L500.04 448 L500.49 446.4 L499.19 445.37 L500.84 445.3ZM506.28 443.75 L506.86 445.3 L508.51 445.37 L507.21 446.4 L507.66 448 L506.28 447.09 L504.89 448 L505.34 446.4 L504.04 445.37 L505.69 445.3Z" fill="#333"/>
<polyline points="541.7,494.5 541.7,492.4 555.7,492.4 555.7,494.5" fill="none" stroke="#3a3a3a" stroke-width="0.95" stroke-linejoin="round" stroke-linejoin="miter"/>
<path d="M542.03 485.25 L542.61 486.8 L544.26 486.87 L542.96 487.9 L543.41 489.5 L542.03 488.59 L540.64 489.5 L541.09 487.9 L539.79 486.87 L541.44 486.8ZM546.88 485.25 L547.46 486.8 L549.11 486.87 L547.81 487.9 L548.26 489.5 L546.88 488.59 L545.49 489.5 L545.94 487.9 L544.64 486.87 L546.29 486.8ZM551.73 485.25 L552.31 486.8 L553.96 486.87 L552.66 487.9 L553.11 489.5 L551.73 488.59 L550.34 489.5 L550.79 487.9 L549.49 486.87 L551.14 486.8ZM556.58 485.25 L557.16 486.8 L558.81 486.87 L557.51 487.9 L557.96 489.5 L556.58 488.59 L555.19 489.5 L555.64 487.9 L554.34 486.87 L555.99 486.8Z" fill="#333"/>
<polyline points="541.7,482.5 541.7,480 569.7,480 569.7,499.4" fill="none" stroke="#3a3a3a" stroke-width="0.95" stroke-linejoin="round" stroke-linejoin="miter"/>
<text x="555.9" y="475.95" font-size="9.2" text-anchor="middle" textLength="11.6" lengthAdjust="spacingAndGlyphs">NS</text>
<polyline points="541.7,476 541.7,445 583.7,445 583.7,449" fill="none" stroke="#3a3a3a" stroke-width="0.95" stroke-linejoin="round" stroke-linejoin="miter"/>
<path d="M556.03 436.95 L556.61 438.5 L558.26 438.57 L556.96 439.6 L557.41 441.2 L556.03 440.29 L554.64 441.2 L555.09 439.6 L553.79 438.57 L555.44 438.5ZM560.88 436.95 L561.46 438.5 L563.11 438.57 L561.81 439.6 L562.26 441.2 L560.88 440.29 L559.49 441.2 L559.94 439.6 L558.64 438.57 L560.29 438.5ZM565.73 436.95 L566.31 438.5 L567.96 438.57 L566.66 439.6 L567.11 441.2 L565.73 440.29 L564.34 441.2 L564.79 439.6 L563.49 438.57 L565.14 438.5ZM570.58 436.95 L571.16 438.5 L572.81 438.57 L571.51 439.6 L571.96 441.2 L570.58 440.29 L569.19 441.2 L569.64 439.6 L568.34 438.57 L569.99 438.5Z" fill="#333"/>
<line x1="468.5" y1="567.1" x2="468.5" y2="650.9" stroke="#8a8a8a" stroke-width="1"/>
<line x1="468" y1="650.4" x2="593" y2="650.4" stroke="#8a8a8a" stroke-width="1"/>
<line x1="465.5" y1="650.4" x2="468.5" y2="650.4" stroke="#8a8a8a" stroke-width="1"/>
<text x="461.6" y="653.25" font-size="7.9" text-anchor="end" textLength="7.88" lengthAdjust="spacingAndGlyphs">−2</text>
<line x1="465.5" y1="633.74" x2="468.5" y2="633.74" stroke="#8a8a8a" stroke-width="1"/>
<text x="461.6" y="636.59" font-size="7.9" text-anchor="end" textLength="4.5" lengthAdjust="spacingAndGlyphs">0</text>
<line x1="465.5" y1="617.08" x2="468.5" y2="617.08" stroke="#8a8a8a" stroke-width="1"/>
<text x="461.6" y="619.93" font-size="7.9" text-anchor="end" textLength="4.5" lengthAdjust="spacingAndGlyphs">2</text>
<line x1="465.5" y1="600.42" x2="468.5" y2="600.42" stroke="#8a8a8a" stroke-width="1"/>
<text x="461.6" y="603.27" font-size="7.9" text-anchor="end" textLength="4.5" lengthAdjust="spacingAndGlyphs">4</text>
<line x1="465.5" y1="583.76" x2="468.5" y2="583.76" stroke="#8a8a8a" stroke-width="1"/>
<text x="461.6" y="586.61" font-size="7.9" text-anchor="end" textLength="4.5" lengthAdjust="spacingAndGlyphs">6</text>
<line x1="465.5" y1="567.1" x2="468.5" y2="567.1" stroke="#8a8a8a" stroke-width="1"/>
<text x="461.6" y="569.95" font-size="7.9" text-anchor="end" textLength="4.5" lengthAdjust="spacingAndGlyphs">8</text>
<text x="527.6" y="563.8" font-size="9" text-anchor="middle" font-style="italic" textLength="16.5" lengthAdjust="spacingAndGlyphs">Mx1</text>
<line x1="498.5" y1="650.4" x2="498.5" y2="653.6" stroke="#8a8a8a" stroke-width="1"/>
<text x="498.5" y="663.31" font-size="7.8" text-anchor="middle" textLength="8.8" lengthAdjust="spacingAndGlyphs">72</text>
<line x1="563.1" y1="650.4" x2="563.1" y2="653.6" stroke="#8a8a8a" stroke-width="1"/>
<text x="563.1" y="663.31" font-size="7.8" text-anchor="middle" textLength="8.8" lengthAdjust="spacingAndGlyphs">96</text>
<text x="531.1" y="676.5" font-size="9.3" text-anchor="middle" textLength="92" lengthAdjust="spacingAndGlyphs">Time post infection (h)</text>
<line x1="473.6" y1="633.74" x2="481.4" y2="633.74" stroke="#000000" stroke-width="1.4"/>
<circle cx="474.9" cy="632.49" r="1.75" fill="#000000"/>
<circle cx="477.5" cy="634.99" r="1.75" fill="#000000"/>
<circle cx="480.1" cy="633.74" r="1.75" fill="#000000"/>
<rect x="487.6" y="630.41" width="7.8" height="3.33" fill="#e2e4f5" stroke="#8f99d6" stroke-width="1.4"/>
<line x1="487.6" y1="630.41" x2="495.4" y2="630.41" stroke="#8f99d6" stroke-width="1.4"/>
<circle cx="488.9" cy="629.99" r="1.75" fill="#8f99d6"/>
<circle cx="491.5" cy="630.57" r="1.75" fill="#8f99d6"/>
<circle cx="494.1" cy="630.41" r="1.75" fill="#8f99d6"/>
<rect x="501.6" y="629.99" width="7.8" height="3.75" fill="#fad9e0" stroke="#ee7c93" stroke-width="1.4"/>
<line x1="501.6" y1="629.99" x2="509.4" y2="629.99" stroke="#ee7c93" stroke-width="1.4"/>
<circle cx="502.9" cy="628.33" r="1.75" fill="#ee7c93"/>
<circle cx="505.5" cy="630.41" r="1.75" fill="#ee7c93"/>
<circle cx="508.1" cy="629.99" r="1.75" fill="#ee7c93"/>
<rect x="515.6" y="590.84" width="7.8" height="42.9" fill="#f1d2b3" stroke="#c8650c" stroke-width="1.4"/>
<line x1="515.6" y1="590.84" x2="523.4" y2="590.84" stroke="#c8650c" stroke-width="1.4"/>
<circle cx="516.9" cy="590.42" r="1.75" fill="#c8650c"/>
<circle cx="519.5" cy="590.84" r="1.75" fill="#c8650c"/>
<circle cx="522.1" cy="591.09" r="1.75" fill="#c8650c"/>
<line x1="537.9" y1="633.74" x2="545.7" y2="633.74" stroke="#000000" stroke-width="1.4"/>
<circle cx="539.2" cy="633.32" r="1.75" fill="#000000"/>
<circle cx="541.8" cy="634.16" r="1.75" fill="#000000"/>
<circle cx="544.4" cy="633.49" r="1.75" fill="#000000"/>
<rect x="552.1" y="626.66" width="7.8" height="7.08" fill="#e2e4f5" stroke="#8f99d6" stroke-width="1.4"/>
<line x1="552.1" y1="626.66" x2="559.9" y2="626.66" stroke="#8f99d6" stroke-width="1.4"/>
<circle cx="553.4" cy="626.24" r="1.75" fill="#8f99d6"/>
<circle cx="556" cy="626.91" r="1.75" fill="#8f99d6"/>
<circle cx="558.6" cy="626.66" r="1.75" fill="#8f99d6"/>
<rect x="566.3" y="633.74" width="7.8" height="0.83" fill="#fad9e0" stroke="#ee7c93" stroke-width="1.4"/>
<line x1="566.3" y1="634.57" x2="574.1" y2="634.57" stroke="#ee7c93" stroke-width="1.4"/>
<circle cx="567.6" cy="635.82" r="1.75" fill="#ee7c93"/>
<circle cx="570.2" cy="632.91" r="1.75" fill="#ee7c93"/>
<circle cx="572.8" cy="634.57" r="1.75" fill="#ee7c93"/>
<rect x="580.5" y="584.18" width="7.8" height="49.56" fill="#f1d2b3" stroke="#c8650c" stroke-width="1.4"/>
<line x1="580.5" y1="584.18" x2="588.3" y2="584.18" stroke="#c8650c" stroke-width="1.4"/>
<circle cx="581.8" cy="583.76" r="1.75" fill="#c8650c"/>
<circle cx="584.4" cy="584.18" r="1.75" fill="#c8650c"/>
<circle cx="587" cy="584.43" r="1.75" fill="#c8650c"/>
<line x1="465.5" y1="633.74" x2="593" y2="633.74" stroke="#222" stroke-width="1"/>
<polyline points="477.5,627.5 477.5,625.2 491.5,625.2 491.5,627.5" fill="none" stroke="#3a3a3a" stroke-width="0.95" stroke-linejoin="round" stroke-linejoin="miter"/>
<path d="M480.25 616.95 L480.83 618.5 L482.48 618.57 L481.19 619.6 L481.63 621.2 L480.25 620.29 L478.87 621.2 L479.31 619.6 L478.02 618.57 L479.67 618.5ZM485.1 616.95 L485.68 618.5 L487.33 618.57 L486.04 619.6 L486.48 621.2 L485.1 620.29 L483.72 621.2 L484.16 619.6 L482.87 618.57 L484.52 618.5ZM489.95 616.95 L490.53 618.5 L492.18 618.57 L490.89 619.6 L491.33 621.2 L489.95 620.29 L488.57 621.2 L489.01 619.6 L487.72 618.57 L489.37 618.5Z" fill="#333"/>
<polyline points="477.5,615.5 477.5,613.1 505.5,613.1 505.5,622.9" fill="none" stroke="#3a3a3a" stroke-width="0.95" stroke-linejoin="round" stroke-linejoin="miter"/>
<path d="M487.25 605.25 L487.83 606.8 L489.48 606.87 L488.19 607.9 L488.63 609.5 L487.25 608.59 L485.87 609.5 L486.31 607.9 L485.02 606.87 L486.67 606.8ZM492.1 605.25 L492.68 606.8 L494.33 606.87 L493.04 607.9 L493.48 609.5 L492.1 608.59 L490.72 609.5 L491.16 607.9 L489.87 606.87 L491.52 606.8ZM496.95 605.25 L497.53 606.8 L499.18 606.87 L497.89 607.9 L498.33 609.5 L496.95 608.59 L495.57 609.5 L496.01 607.9 L494.72 606.87 L496.37 606.8Z" fill="#333"/>
<polyline points="477.5,607.2 477.5,586.2 519.5,586.2 519.5,590" fill="none" stroke="#3a3a3a" stroke-width="0.95" stroke-linejoin="round" stroke-linejoin="miter"/>
<path d="M491.83 577.95 L492.41 579.5 L494.06 579.57 L492.76 580.6 L493.21 582.2 L491.83 581.29 L490.44 582.2 L490.89 580.6 L489.59 579.57 L491.24 579.5ZM496.68 577.95 L497.26 579.5 L498.91 579.57 L497.61 580.6 L498.06 582.2 L496.68 581.29 L495.29 582.2 L495.74 580.6 L494.44 579.57 L496.09 579.5ZM501.53 577.95 L502.11 579.5 L503.76 579.57 L502.46 580.6 L502.91 582.2 L501.53 581.29 L500.14 582.2 L500.59 580.6 L499.29 579.57 L500.94 579.5ZM506.38 577.95 L506.96 579.5 L508.61 579.57 L507.31 580.6 L507.76 582.2 L506.38 581.29 L504.99 582.2 L505.44 580.6 L504.14 579.57 L505.79 579.5Z" fill="#333"/>
<polyline points="541.8,625 541.8,622.9 556,622.9 556,625" fill="none" stroke="#3a3a3a" stroke-width="0.95" stroke-linejoin="round" stroke-linejoin="miter"/>
<path d="M542.23 615.25 L542.81 616.8 L544.46 616.87 L543.16 617.9 L543.61 619.5 L542.23 618.59 L540.84 619.5 L541.29 617.9 L539.99 616.87 L541.64 616.8ZM547.08 615.25 L547.66 616.8 L549.31 616.87 L548.01 617.9 L548.46 619.5 L547.08 618.59 L545.69 619.5 L546.14 617.9 L544.84 616.87 L546.49 616.8ZM551.93 615.25 L552.51 616.8 L554.16 616.87 L552.86 617.9 L553.31 619.5 L551.93 618.59 L550.54 619.5 L550.99 617.9 L549.69 616.87 L551.34 616.8ZM556.78 615.25 L557.36 616.8 L559.01 616.87 L557.71 617.9 L558.16 619.5 L556.78 618.59 L555.39 619.5 L555.84 617.9 L554.54 616.87 L556.19 616.8Z" fill="#333"/>
<polyline points="541.8,610 541.8,607.9 570.2,607.9 570.2,628.3" fill="none" stroke="#3a3a3a" stroke-width="0.95" stroke-linejoin="round" stroke-linejoin="miter"/>
<text x="556.2" y="603.55" font-size="9.2" text-anchor="middle" textLength="11.6" lengthAdjust="spacingAndGlyphs">NS</text>
<polyline points="541.8,602.6 541.8,574.5 584.4,574.5 584.4,578" fill="none" stroke="#3a3a3a" stroke-width="0.95" stroke-linejoin="round" stroke-linejoin="miter"/>
<path d="M556.43 566.25 L557.01 567.8 L558.66 567.87 L557.36 568.9 L557.81 570.5 L556.43 569.59 L555.04 570.5 L555.49 568.9 L554.19 567.87 L555.84 567.8ZM561.28 566.25 L561.86 567.8 L563.51 567.87 L562.21 568.9 L562.66 570.5 L561.28 569.59 L559.89 570.5 L560.34 568.9 L559.04 567.87 L560.69 567.8ZM566.13 566.25 L566.71 567.8 L568.36 567.87 L567.06 568.9 L567.51 570.5 L566.13 569.59 L564.74 570.5 L565.19 568.9 L563.89 567.87 L565.54 567.8ZM570.98 566.25 L571.56 567.8 L573.21 567.87 L571.91 568.9 L572.36 570.5 L570.98 569.59 L569.59 570.5 L570.04 568.9 L568.74 567.87 L570.39 567.8Z" fill="#333"/>
<text x="38" y="224.3" font-size="8.8" text-anchor="middle" textLength="83.6" lengthAdjust="spacingAndGlyphs" transform="rotate(-90 38 224.3)">Fold change relative</text>
<text x="49" y="224.6" font-size="8.8" text-anchor="middle" textLength="77" lengthAdjust="spacingAndGlyphs" transform="rotate(-90 49 224.6)">to virus titre (log<tspan font-size="6" dy="1.5">10</tspan><tspan dy="-1.5">)</tspan></text>
<text x="36.8" y="350.8" font-size="8.8" text-anchor="middle" textLength="83.6" lengthAdjust="spacingAndGlyphs" transform="rotate(-90 36.8 350.8)">Fold change relative</text>
<text x="47.9" y="351.1" font-size="8.8" text-anchor="middle" textLength="77" lengthAdjust="spacingAndGlyphs" transform="rotate(-90 47.9 351.1)">to virus titre (log<tspan font-size="6" dy="1.5">10</tspan><tspan dy="-1.5">)</tspan></text>
<text x="37.3" y="483.3" font-size="8.8" text-anchor="middle" textLength="83.6" lengthAdjust="spacingAndGlyphs" transform="rotate(-90 37.3 483.3)">Fold change relative</text>
<text x="48.4" y="483.6" font-size="8.8" text-anchor="middle" textLength="77" lengthAdjust="spacingAndGlyphs" transform="rotate(-90 48.4 483.6)">to virus titre (log<tspan font-size="6" dy="1.5">10</tspan><tspan dy="-1.5">)</tspan></text>
<text x="36.8" y="608.4" font-size="8.8" text-anchor="middle" textLength="83.6" lengthAdjust="spacingAndGlyphs" transform="rotate(-90 36.8 608.4)">Fold change relative</text>
<text x="47.9" y="608.7" font-size="8.8" text-anchor="middle" textLength="77" lengthAdjust="spacingAndGlyphs" transform="rotate(-90 47.9 608.7)">to virus titre (log<tspan font-size="6" dy="1.5">10</tspan><tspan dy="-1.5">)</tspan></text>
<text x="0.5" y="700.6" font-size="12.5" fill="#000" font-weight="bold" style="stroke:#000;stroke-width:0.7px">e</text>
<defs><filter id="bl" x="-50%" y="-80%" width="200%" height="260%"><feGaussianBlur stdDeviation="1.0"/></filter><filter id="bl2" x="-50%" y="-80%" width="200%" height="260%"><feGaussianBlur stdDeviation="2.5"/></filter></defs>
<text x="86.5" y="701.3" font-size="8.6" text-anchor="middle" textLength="22.22" lengthAdjust="spacingAndGlyphs">HFL-1</text>
<line x1="31" y1="704.6" x2="143.4" y2="704.6" stroke="#7a7a7a" stroke-width="0.9"/>
<line x1="40.4" y1="727" x2="59.6" y2="727" stroke="#c6c6c6" stroke-width="1.6"/>
<text x="49.9" y="723.4" font-size="8.6" text-anchor="middle" textLength="16.56" lengthAdjust="spacingAndGlyphs">HeV</text>
<line x1="67.9" y1="727" x2="86.5" y2="727" stroke="#c6c6c6" stroke-width="1.6"/>
<text x="77.1" y="713.7" font-size="8.6" text-anchor="middle" textLength="16.56" lengthAdjust="spacingAndGlyphs">HeV</text>
<text x="77.1" y="723.3" font-size="8.6" text-anchor="middle" textLength="7.6" lengthAdjust="spacingAndGlyphs">71</text>
<line x1="94.2" y1="727" x2="112.8" y2="727" stroke="#c6c6c6" stroke-width="1.6"/>
<text x="104.4" y="713.7" font-size="8.6" text-anchor="middle" textLength="16.56" lengthAdjust="spacingAndGlyphs">HeV</text>
<text x="104.4" y="723.3" font-size="8.6" text-anchor="middle" textLength="10.3" lengthAdjust="spacingAndGlyphs">84</text>
<line x1="120" y1="727" x2="141.2" y2="727" stroke="#c6c6c6" stroke-width="1.6"/>
<text x="130.7" y="723.4" font-size="8.6" text-anchor="middle" textLength="21.3" lengthAdjust="spacingAndGlyphs">CedV</text>
<text x="32.7" y="744.2" font-size="7.3" textLength="17" lengthAdjust="spacingAndGlyphs" transform="rotate(-90 32.7 744.2)">Mock</text>
<text x="44.9" y="744.2" font-size="7.3" textLength="12" lengthAdjust="spacingAndGlyphs" transform="rotate(-90 44.9 744.2)">72h</text>
<text x="57.7" y="744.2" font-size="7.3" textLength="12" lengthAdjust="spacingAndGlyphs" transform="rotate(-90 57.7 744.2)">96h</text>
<text x="69.7" y="744.2" font-size="7.3" textLength="12" lengthAdjust="spacingAndGlyphs" transform="rotate(-90 69.7 744.2)">72h</text>
<text x="83.4" y="744.2" font-size="7.3" textLength="12" lengthAdjust="spacingAndGlyphs" transform="rotate(-90 83.4 744.2)">96h</text>
<text x="98.7" y="744.2" font-size="7.3" textLength="12" lengthAdjust="spacingAndGlyphs" transform="rotate(-90 98.7 744.2)">72h</text>
<text x="112.8" y="744.2" font-size="7.3" textLength="12" lengthAdjust="spacingAndGlyphs" transform="rotate(-90 112.8 744.2)">96h</text>
<text x="128" y="744.2" font-size="7.3" textLength="12" lengthAdjust="spacingAndGlyphs" transform="rotate(-90 128 744.2)">72h</text>
<text x="140.4" y="744.2" font-size="7.3" textLength="12" lengthAdjust="spacingAndGlyphs" transform="rotate(-90 140.4 744.2)">96h</text>
<clipPath id="c0_0"><rect x="22.5" y="746.5" width="123" height="11"/></clipPath>
<rect x="22.5" y="746.5" width="123" height="11" fill="#fdfdfd" stroke="none" stroke-width="1"/>
<g clip-path="url(#c0_0)">
<rect x="37.05" y="748.1" width="9.5" height="3" rx="1.26" fill="#000" fill-opacity="0.6" filter="url(#bl)"/>
<rect x="50.9" y="748.75" width="7" height="2.5" rx="1.05" fill="#000" fill-opacity="0.15" filter="url(#bl)"/>
<rect x="61.4" y="747.85" width="11" height="3.5" rx="1.47" fill="#000" fill-opacity="0.85" filter="url(#bl)"/>
<rect x="76.8" y="749.25" width="8" height="2.5" rx="1.05" fill="#000" fill-opacity="0.22" filter="url(#bl)"/>
<rect x="92.2" y="750.75" width="8" height="2.5" rx="1.05" fill="#000" fill-opacity="0.22" filter="url(#bl)"/>
<rect x="105.7" y="750.7" width="10" height="3" rx="1.26" fill="#000" fill-opacity="0.55" filter="url(#bl)"/>
<rect x="118.6" y="749.1" width="14" height="7" rx="2.94" fill="#000" fill-opacity="1" filter="url(#bl)"/>
<rect x="133.45" y="749.75" width="11.5" height="6.5" rx="2.73" fill="#000" fill-opacity="1" filter="url(#bl)"/>
</g>
<rect x="22.5" y="746.5" width="123" height="11" fill="none" stroke="#555" stroke-width="1"/>
<clipPath id="c0_1"><rect x="22.5" y="760.5" width="123" height="10"/></clipPath>
<rect x="22.5" y="760.5" width="123" height="10" fill="#d3d3d3" stroke="none" stroke-width="1"/>
<rect x="22.5" y="760.5" width="123" height="10" fill="none" stroke="#555" stroke-width="1"/>
<clipPath id="c0_2"><rect x="22.5" y="773.5" width="123" height="12"/></clipPath>
<rect x="22.5" y="773.5" width="123" height="12" fill="#fdfdfd" stroke="none" stroke-width="1"/>
<g clip-path="url(#c0_2)">
<rect x="23.75" y="777" width="10.5" height="3.2" rx="1.34" fill="#000" fill-opacity="1" filter="url(#bl)"/>
<rect x="37.05" y="777.5" width="9.5" height="3" rx="1.26" fill="#000" fill-opacity="0.85" filter="url(#bl)"/>
<rect x="51.4" y="778.75" width="6" height="1.5" rx="0.63" fill="#000" fill-opacity="0.12" filter="url(#bl)"/>
<rect x="61.65" y="777.95" width="10.5" height="3.3" rx="1.39" fill="#000" fill-opacity="0.95" filter="url(#bl)"/>
<rect x="76.8" y="779.5" width="8" height="2" rx="0.84" fill="#000" fill-opacity="0.3" filter="url(#bl)"/>
<rect x="90.45" y="779.2" width="11.5" height="3.6" rx="1.51" fill="#000" fill-opacity="1" filter="url(#bl)"/>
<rect x="104.95" y="779.4" width="11.5" height="3.6" rx="1.51" fill="#000" fill-opacity="1" filter="url(#bl)"/>
<rect x="118.85" y="778.8" width="13.5" height="5" rx="2.1" fill="#000" fill-opacity="1" filter="url(#bl)"/>
<rect x="133.95" y="779.3" width="10.5" height="4" rx="1.68" fill="#000" fill-opacity="1" filter="url(#bl)"/>
</g>
<rect x="22.5" y="773.5" width="123" height="12" fill="none" stroke="#555" stroke-width="1"/>
<clipPath id="c0_3"><rect x="22.5" y="788.5" width="123" height="13"/></clipPath>
<rect x="22.5" y="788.5" width="123" height="13" fill="#d7d7d7" stroke="none" stroke-width="1"/>
<g clip-path="url(#c0_3)">
<rect x="91.2" y="793" width="10" height="4" rx="1.68" fill="#000" fill-opacity="0.1" filter="url(#bl)"/>
<rect x="105.7" y="793" width="10" height="4" rx="1.68" fill="#000" fill-opacity="0.08" filter="url(#bl)"/>
<rect x="120.1" y="793" width="11" height="5" rx="2.1" fill="#000" fill-opacity="0.3" filter="url(#bl)"/>
<rect x="134.7" y="794" width="9" height="4" rx="1.68" fill="#000" fill-opacity="0.12" filter="url(#bl)"/>
<rect x="61.9" y="791.5" width="10" height="3" rx="1.26" fill="#000" fill-opacity="0.05" filter="url(#bl)"/>
</g>
<rect x="22.5" y="788.5" width="123" height="13" fill="none" stroke="#555" stroke-width="1"/>
<clipPath id="c0_4"><rect x="22.5" y="804.5" width="123" height="12"/></clipPath>
<rect x="22.5" y="804.5" width="123" height="12" fill="#f8f8f8" stroke="none" stroke-width="1"/>
<g clip-path="url(#c0_4)">
<rect x="25" y="807" width="8" height="2" rx="0.84" fill="#000" fill-opacity="0.25" filter="url(#bl)"/>
<rect x="37.05" y="806.7" width="9.5" height="3" rx="1.26" fill="#000" fill-opacity="0.7" filter="url(#bl)"/>
<rect x="51.4" y="807.5" width="6" height="2" rx="0.84" fill="#000" fill-opacity="0.1" filter="url(#bl)"/>
<rect x="61.65" y="806.85" width="10.5" height="3.5" rx="1.47" fill="#000" fill-opacity="0.95" filter="url(#bl)"/>
<rect x="76.8" y="808.25" width="8" height="2.5" rx="1.05" fill="#000" fill-opacity="0.3" filter="url(#bl)"/>
<rect x="90.95" y="808.5" width="10.5" height="3" rx="1.26" fill="#000" fill-opacity="0.65" filter="url(#bl)"/>
<rect x="105.2" y="809.25" width="11" height="3.5" rx="1.47" fill="#000" fill-opacity="0.85" filter="url(#bl)"/>
<rect x="118.6" y="808.5" width="14" height="7" rx="2.94" fill="#000" fill-opacity="1" filter="url(#bl)"/>
<rect x="133.95" y="809" width="10.5" height="6" rx="2.52" fill="#000" fill-opacity="1" filter="url(#bl)"/>
</g>
<rect x="22.5" y="804.5" width="123" height="12" fill="none" stroke="#555" stroke-width="1"/>
<clipPath id="c0_5"><rect x="22.5" y="818.5" width="123" height="12"/></clipPath>
<rect x="22.5" y="818.5" width="123" height="12" fill="#fefefe" stroke="none" stroke-width="1"/>
<g clip-path="url(#c0_5)">
<rect x="35.55" y="820.6" width="12.5" height="8" rx="3.36" fill="#000" fill-opacity="1" filter="url(#bl)"/>
<rect x="49.4" y="823.55" width="10" height="3.5" rx="1.47" fill="#000" fill-opacity="0.9" filter="url(#bl)"/>
<rect x="60.15" y="820.35" width="13.5" height="8.5" rx="3.57" fill="#000" fill-opacity="1" filter="url(#bl)"/>
<rect x="74.3" y="822.35" width="13" height="6.5" rx="2.73" fill="#000" fill-opacity="1" filter="url(#bl)"/>
<rect x="90.2" y="824.1" width="12" height="5" rx="2.1" fill="#000" fill-opacity="1" filter="url(#bl)"/>
<rect x="104.7" y="824.75" width="12" height="4.5" rx="1.89" fill="#000" fill-opacity="1" filter="url(#bl)"/>
<rect x="90.7" y="821.05" width="11" height="2.5" rx="1.05" fill="#000" fill-opacity="0.35" filter="url(#bl)"/>
<rect x="105.2" y="821.05" width="11" height="2.5" rx="1.05" fill="#000" fill-opacity="0.35" filter="url(#bl)"/>
</g>
<rect x="22.5" y="818.5" width="123" height="12" fill="none" stroke="#555" stroke-width="1"/>
<clipPath id="c0_6"><rect x="22.5" y="833.5" width="123" height="13"/></clipPath>
<rect x="22.5" y="833.5" width="123" height="13" fill="#f2f2f2" stroke="none" stroke-width="1"/>
<g clip-path="url(#c0_6)">
<rect x="22.75" y="835.4" width="12.5" height="7" rx="2.94" fill="#000" fill-opacity="1" filter="url(#bl)"/>
<rect x="37.8" y="838" width="8" height="3" rx="1.26" fill="#000" fill-opacity="0.3" filter="url(#bl)"/>
<rect x="51.4" y="838.75" width="6" height="2.5" rx="1.05" fill="#000" fill-opacity="0.12" filter="url(#bl)"/>
<rect x="62.4" y="836.5" width="9" height="5" rx="2.1" fill="#000" fill-opacity="0.95" filter="url(#bl)"/>
<rect x="77.3" y="839.25" width="7" height="2.5" rx="1.05" fill="#000" fill-opacity="0.12" filter="url(#bl)"/>
<rect x="89.2" y="837" width="14" height="8" rx="3.36" fill="#000" fill-opacity="1" filter="url(#bl)"/>
<rect x="104.7" y="838" width="12" height="7" rx="2.94" fill="#000" fill-opacity="1" filter="url(#bl)"/>
<rect x="119.1" y="838.5" width="13" height="7" rx="2.94" fill="#000" fill-opacity="1" filter="url(#bl)"/>
<rect x="133.7" y="839" width="11" height="7" rx="2.94" fill="#000" fill-opacity="1" filter="url(#bl)"/>
</g>
<rect x="22.5" y="833.5" width="123" height="13" fill="none" stroke="#555" stroke-width="1"/>
<text x="209" y="701.3" font-size="8.6" text-anchor="middle" textLength="22.67" lengthAdjust="spacingAndGlyphs">NBL-6</text>
<line x1="153.1" y1="704.6" x2="264.8" y2="704.6" stroke="#7a7a7a" stroke-width="0.9"/>
<line x1="166.3" y1="727" x2="184.9" y2="727" stroke="#c6c6c6" stroke-width="1.6"/>
<text x="176.1" y="723.4" font-size="8.6" text-anchor="middle" textLength="16.56" lengthAdjust="spacingAndGlyphs">HeV</text>
<line x1="195.2" y1="727" x2="214.4" y2="727" stroke="#c6c6c6" stroke-width="1.6"/>
<text x="205" y="713.7" font-size="8.6" text-anchor="middle" textLength="16.56" lengthAdjust="spacingAndGlyphs">HeV</text>
<text x="205" y="723.3" font-size="8.6" text-anchor="middle" textLength="7.6" lengthAdjust="spacingAndGlyphs">71</text>
<line x1="222.1" y1="727" x2="241.2" y2="727" stroke="#c6c6c6" stroke-width="1.6"/>
<text x="232" y="713.7" font-size="8.6" text-anchor="middle" textLength="16.56" lengthAdjust="spacingAndGlyphs">HeV</text>
<text x="232" y="723.3" font-size="8.6" text-anchor="middle" textLength="10.3" lengthAdjust="spacingAndGlyphs">84</text>
<line x1="248.4" y1="727" x2="268.1" y2="727" stroke="#c6c6c6" stroke-width="1.6"/>
<text x="259.3" y="723.4" font-size="8.6" text-anchor="middle" textLength="21.3" lengthAdjust="spacingAndGlyphs">CedV</text>
<text x="157.7" y="744.2" font-size="7.3" textLength="17" lengthAdjust="spacingAndGlyphs" transform="rotate(-90 157.7 744.2)">Mock</text>
<text x="170.4" y="744.2" font-size="7.3" textLength="12" lengthAdjust="spacingAndGlyphs" transform="rotate(-90 170.4 744.2)">72h</text>
<text x="185.1" y="744.2" font-size="7.3" textLength="12" lengthAdjust="spacingAndGlyphs" transform="rotate(-90 185.1 744.2)">96h</text>
<text x="199.8" y="744.2" font-size="7.3" textLength="12" lengthAdjust="spacingAndGlyphs" transform="rotate(-90 199.8 744.2)">72h</text>
<text x="212.9" y="744.2" font-size="7.3" textLength="12" lengthAdjust="spacingAndGlyphs" transform="rotate(-90 212.9 744.2)">96h</text>
<text x="227.4" y="744.2" font-size="7.3" textLength="12" lengthAdjust="spacingAndGlyphs" transform="rotate(-90 227.4 744.2)">72h</text>
<text x="242" y="744.2" font-size="7.3" textLength="12" lengthAdjust="spacingAndGlyphs" transform="rotate(-90 242 744.2)">96h</text>
<text x="255.2" y="744.2" font-size="7.3" textLength="12" lengthAdjust="spacingAndGlyphs" transform="rotate(-90 255.2 744.2)">72h</text>
<text x="267.6" y="744.2" font-size="7.3" textLength="12" lengthAdjust="spacingAndGlyphs" transform="rotate(-90 267.6 744.2)">96h</text>
<clipPath id="c1_0"><rect x="150.5" y="746.5" width="123" height="11"/></clipPath>
<rect x="150.5" y="746.5" width="123" height="11" fill="#fdfdfd" stroke="none" stroke-width="1"/>
<g clip-path="url(#c1_0)">
<rect x="264.3" y="749" width="5" height="2" rx="0.84" fill="#000" fill-opacity="0.15" filter="url(#bl)"/>
</g>
<rect x="150.5" y="746.5" width="123" height="11" fill="none" stroke="#555" stroke-width="1"/>
<clipPath id="c1_1"><rect x="150.5" y="760.5" width="123" height="10"/></clipPath>
<rect x="150.5" y="760.5" width="123" height="10" fill="#d9d9d9" stroke="none" stroke-width="1"/>
<rect x="150.5" y="760.5" width="123" height="10" fill="none" stroke="#555" stroke-width="1"/>
<clipPath id="c1_2"><rect x="150.5" y="773.5" width="123" height="12"/></clipPath>
<rect x="150.5" y="773.5" width="123" height="12" fill="#d3d3d3" stroke="none" stroke-width="1"/>
<g clip-path="url(#c1_2)">
<rect x="249.6" y="778.25" width="8" height="1.5" rx="0.63" fill="#000" fill-opacity="0.4" filter="url(#bl)"/>
<rect x="264.8" y="778.25" width="4" height="1.5" rx="0.63" fill="#000" fill-opacity="0.3" filter="url(#bl)"/>
</g>
<rect x="150.5" y="773.5" width="123" height="12" fill="none" stroke="#555" stroke-width="1"/>
<clipPath id="c1_3"><rect x="150.5" y="788.5" width="123" height="13"/></clipPath>
<rect x="150.5" y="788.5" width="123" height="13" fill="#fdfdfd" stroke="none" stroke-width="1"/>
<g clip-path="url(#c1_3)">
<ellipse cx="199.04" cy="796" rx="24" ry="5" fill="#000" fill-opacity="0.24" filter="url(#bl2)"/>
</g>
<rect x="150.5" y="788.5" width="123" height="13" fill="none" stroke="#555" stroke-width="1"/>
<clipPath id="c1_4"><rect x="150.5" y="804.5" width="123" height="12"/></clipPath>
<rect x="150.5" y="804.5" width="123" height="12" fill="#dedede" stroke="none" stroke-width="1"/>
<g clip-path="url(#c1_4)">
<rect x="247.85" y="805.25" width="11.5" height="9.5" rx="3.99" fill="#000" fill-opacity="1" filter="url(#bl)"/>
<rect x="261.8" y="805.75" width="10" height="8.5" rx="3.57" fill="#000" fill-opacity="0.95" filter="url(#bl)"/>
</g>
<rect x="150.5" y="804.5" width="123" height="12" fill="none" stroke="#555" stroke-width="1"/>
<clipPath id="c1_5"><rect x="150.5" y="818.5" width="123" height="12"/></clipPath>
<rect x="150.5" y="818.5" width="123" height="12" fill="#fefefe" stroke="none" stroke-width="1"/>
<g clip-path="url(#c1_5)">
<rect x="178.4" y="822.1" width="9" height="5" rx="2.1" fill="#000" fill-opacity="1" filter="url(#bl)"/>
<rect x="206" y="825.25" width="8" height="3.5" rx="1.47" fill="#000" fill-opacity="0.75" filter="url(#bl)"/>
</g>
<rect x="150.5" y="818.5" width="123" height="12" fill="none" stroke="#555" stroke-width="1"/>
<clipPath id="c1_6"><rect x="150.5" y="833.5" width="123" height="13"/></clipPath>
<rect x="150.5" y="833.5" width="123" height="13" fill="#e1e1e1" stroke="none" stroke-width="1"/>
<g clip-path="url(#c1_6)">
<rect x="153.1" y="834.5" width="7" height="2" rx="0.84" fill="#000" fill-opacity="0.4" filter="url(#bl)"/>
<rect x="165.3" y="835.1" width="9" height="3" rx="1.26" fill="#000" fill-opacity="0.9" filter="url(#bl)"/>
<rect x="177.9" y="836" width="10" height="3" rx="1.26" fill="#000" fill-opacity="0.9" filter="url(#bl)"/>
<rect x="191.8" y="837" width="9" height="3" rx="1.26" fill="#000" fill-opacity="0.6" filter="url(#bl)"/>
<rect x="205" y="838" width="10" height="3" rx="1.26" fill="#000" fill-opacity="0.8" filter="url(#bl)"/>
<rect x="219" y="838.5" width="10" height="3" rx="1.26" fill="#000" fill-opacity="0.65" filter="url(#bl)"/>
<rect x="232" y="839.25" width="11" height="3.5" rx="1.47" fill="#000" fill-opacity="0.9" filter="url(#bl)"/>
<rect x="248.1" y="840.5" width="11" height="4" rx="1.68" fill="#000" fill-opacity="1" filter="url(#bl)"/>
<rect x="261.8" y="841.5" width="10" height="3" rx="1.26" fill="#000" fill-opacity="0.95" filter="url(#bl)"/>
</g>
<rect x="150.5" y="833.5" width="123" height="13" fill="none" stroke="#555" stroke-width="1"/>
<text x="337.4" y="701.3" font-size="8.6" text-anchor="middle" textLength="21.78" lengthAdjust="spacingAndGlyphs">PaKiT</text>
<line x1="281.4" y1="704.6" x2="393.7" y2="704.6" stroke="#7a7a7a" stroke-width="0.9"/>
<line x1="295.2" y1="727" x2="313.8" y2="727" stroke="#c6c6c6" stroke-width="1.6"/>
<text x="305.5" y="723.4" font-size="8.6" text-anchor="middle" textLength="16.56" lengthAdjust="spacingAndGlyphs">HeV</text>
<line x1="323.6" y1="727" x2="342.3" y2="727" stroke="#c6c6c6" stroke-width="1.6"/>
<text x="333.5" y="713.7" font-size="8.6" text-anchor="middle" textLength="16.56" lengthAdjust="spacingAndGlyphs">HeV</text>
<text x="333.5" y="723.3" font-size="8.6" text-anchor="middle" textLength="7.6" lengthAdjust="spacingAndGlyphs">71</text>
<line x1="351" y1="727" x2="369.6" y2="727" stroke="#c6c6c6" stroke-width="1.6"/>
<text x="360.9" y="713.7" font-size="8.6" text-anchor="middle" textLength="16.56" lengthAdjust="spacingAndGlyphs">HeV</text>
<text x="360.9" y="723.3" font-size="8.6" text-anchor="middle" textLength="10.3" lengthAdjust="spacingAndGlyphs">84</text>
<line x1="377.3" y1="727" x2="395.9" y2="727" stroke="#c6c6c6" stroke-width="1.6"/>
<text x="387.8" y="723.4" font-size="8.6" text-anchor="middle" textLength="21.3" lengthAdjust="spacingAndGlyphs">CedV</text>
<text x="286.6" y="744.2" font-size="7.3" textLength="17" lengthAdjust="spacingAndGlyphs" transform="rotate(-90 286.6 744.2)">Mock</text>
<text x="299.1" y="744.2" font-size="7.3" textLength="12" lengthAdjust="spacingAndGlyphs" transform="rotate(-90 299.1 744.2)">72h</text>
<text x="313.6" y="744.2" font-size="7.3" textLength="12" lengthAdjust="spacingAndGlyphs" transform="rotate(-90 313.6 744.2)">96h</text>
<text x="328.2" y="744.2" font-size="7.3" textLength="12" lengthAdjust="spacingAndGlyphs" transform="rotate(-90 328.2 744.2)">72h</text>
<text x="342" y="744.2" font-size="7.3" textLength="12" lengthAdjust="spacingAndGlyphs" transform="rotate(-90 342 744.2)">96h</text>
<text x="356.3" y="744.2" font-size="7.3" textLength="12" lengthAdjust="spacingAndGlyphs" transform="rotate(-90 356.3 744.2)">72h</text>
<text x="370.9" y="744.2" font-size="7.3" textLength="12" lengthAdjust="spacingAndGlyphs" transform="rotate(-90 370.9 744.2)">96h</text>
<text x="383.6" y="744.2" font-size="7.3" textLength="12" lengthAdjust="spacingAndGlyphs" transform="rotate(-90 383.6 744.2)">72h</text>
<text x="396.8" y="744.2" font-size="7.3" textLength="12" lengthAdjust="spacingAndGlyphs" transform="rotate(-90 396.8 744.2)">96h</text>
<clipPath id="c2_0"><rect x="277.5" y="746.5" width="123" height="11"/></clipPath>
<rect x="277.5" y="746.5" width="123" height="11" fill="#fdfdfd" stroke="none" stroke-width="1"/>
<g clip-path="url(#c2_0)">
<rect x="376" y="750.45" width="11" height="3.5" rx="1.47" fill="#000" fill-opacity="1" filter="url(#bl)"/>
<rect x="389.3" y="748.9" width="11" height="5" rx="2.1" fill="#000" fill-opacity="1" filter="url(#bl)"/>
</g>
<rect x="277.5" y="746.5" width="123" height="11" fill="none" stroke="#555" stroke-width="1"/>
<clipPath id="c2_1"><rect x="277.5" y="760.5" width="123" height="10"/></clipPath>
<rect x="277.5" y="760.5" width="123" height="10" fill="#d3d3d3" stroke="none" stroke-width="1"/>
<rect x="277.5" y="760.5" width="123" height="10" fill="none" stroke="#555" stroke-width="1"/>
<clipPath id="c2_2"><rect x="277.5" y="773.5" width="123" height="12"/></clipPath>
<rect x="277.5" y="773.5" width="123" height="12" fill="#dddddd" stroke="none" stroke-width="1"/>
<g clip-path="url(#c2_2)">
<rect x="278" y="779.8" width="13" height="3.6" rx="1.51" fill="#000" fill-opacity="0.85" filter="url(#bl)"/>
<rect x="290.8" y="779.8" width="13" height="3.6" rx="1.51" fill="#000" fill-opacity="0.85" filter="url(#bl)"/>
<rect x="304.5" y="779.7" width="13" height="3.6" rx="1.51" fill="#000" fill-opacity="0.85" filter="url(#bl)"/>
<rect x="318.75" y="779.4" width="13.5" height="3.8" rx="1.6" fill="#000" fill-opacity="0.9" filter="url(#bl)"/>
<rect x="333" y="779.5" width="13" height="3.6" rx="1.51" fill="#000" fill-opacity="0.85" filter="url(#bl)"/>
<rect x="347.25" y="779.1" width="13.5" height="3.8" rx="1.6" fill="#000" fill-opacity="0.9" filter="url(#bl)"/>
<rect x="361.75" y="778.35" width="13.5" height="4.3" rx="1.81" fill="#000" fill-opacity="0.95" filter="url(#bl)"/>
<rect x="375" y="777.5" width="13" height="5" rx="2.1" fill="#000" fill-opacity="1" filter="url(#bl)"/>
<rect x="388.8" y="776" width="12" height="6" rx="2.52" fill="#000" fill-opacity="1" filter="url(#bl)"/>
</g>
<rect x="277.5" y="773.5" width="123" height="12" fill="none" stroke="#555" stroke-width="1"/>
<clipPath id="c2_3"><rect x="277.5" y="788.5" width="123" height="13"/></clipPath>
<rect x="277.5" y="788.5" width="123" height="13" fill="#fdfdfd" stroke="none" stroke-width="1"/>
<g clip-path="url(#c2_3)">
<rect x="366" y="795.7" width="5" height="3" rx="1.26" fill="#000" fill-opacity="0.35" filter="url(#bl)"/>
<rect x="379" y="794.25" width="5" height="3.5" rx="1.47" fill="#000" fill-opacity="0.45" filter="url(#bl)"/>
<rect x="390.8" y="793.8" width="8" height="4" rx="1.68" fill="#000" fill-opacity="1" filter="url(#bl)"/>
</g>
<rect x="277.5" y="788.5" width="123" height="13" fill="none" stroke="#555" stroke-width="1"/>
<clipPath id="c2_4"><rect x="277.5" y="804.5" width="123" height="12"/></clipPath>
<rect x="277.5" y="804.5" width="123" height="12" fill="#f1f1f1" stroke="none" stroke-width="1"/>
<g clip-path="url(#c2_4)">
<rect x="278" y="810.3" width="13" height="3" rx="1.26" fill="#000" fill-opacity="0.7" filter="url(#bl)"/>
<rect x="290.8" y="810.3" width="13" height="3" rx="1.26" fill="#000" fill-opacity="0.65" filter="url(#bl)"/>
<rect x="304.5" y="810" width="13" height="3" rx="1.26" fill="#000" fill-opacity="0.7" filter="url(#bl)"/>
<rect x="318.75" y="809.25" width="13.5" height="3.5" rx="1.47" fill="#000" fill-opacity="0.85" filter="url(#bl)"/>
<rect x="332.75" y="809.25" width="13.5" height="3.5" rx="1.47" fill="#000" fill-opacity="0.85" filter="url(#bl)"/>
<rect x="347.25" y="807.75" width="13.5" height="4.5" rx="1.89" fill="#000" fill-opacity="0.95" filter="url(#bl)"/>
<rect x="361.75" y="806.25" width="13.5" height="5.5" rx="2.31" fill="#000" fill-opacity="1" filter="url(#bl)"/>
<rect x="374.75" y="805.25" width="13.5" height="7.5" rx="3.15" fill="#000" fill-opacity="1" filter="url(#bl)"/>
<rect x="388.8" y="805.25" width="12" height="7.5" rx="3.15" fill="#000" fill-opacity="1" filter="url(#bl)"/>
</g>
<rect x="277.5" y="804.5" width="123" height="12" fill="none" stroke="#555" stroke-width="1"/>
<clipPath id="c2_5"><rect x="277.5" y="818.5" width="123" height="12"/></clipPath>
<rect x="277.5" y="818.5" width="123" height="12" fill="#fefefe" stroke="none" stroke-width="1"/>
<g clip-path="url(#c2_5)">
<rect x="290.8" y="821.9" width="13" height="7" rx="2.94" fill="#000" fill-opacity="1" filter="url(#bl)"/>
<rect x="304.25" y="821.5" width="13.5" height="6" rx="2.52" fill="#000" fill-opacity="0.8" filter="url(#bl)"/>
<rect x="318.75" y="821.5" width="13.5" height="6" rx="2.52" fill="#000" fill-opacity="0.8" filter="url(#bl)"/>
<rect x="332.75" y="821.5" width="13.5" height="6" rx="2.52" fill="#000" fill-opacity="0.8" filter="url(#bl)"/>
<rect x="347.25" y="821.5" width="13.5" height="5" rx="2.1" fill="#000" fill-opacity="0.7" filter="url(#bl)"/>
<rect x="362" y="821.5" width="13" height="5" rx="2.1" fill="#000" fill-opacity="0.7" filter="url(#bl)"/>
</g>
<rect x="277.5" y="818.5" width="123" height="12" fill="none" stroke="#555" stroke-width="1"/>
<clipPath id="c2_6"><rect x="277.5" y="833.5" width="123" height="13"/></clipPath>
<rect x="277.5" y="833.5" width="123" height="13" fill="#e9e9e9" stroke="none" stroke-width="1"/>
<g clip-path="url(#c2_6)">
<rect x="278" y="839.5" width="13" height="5" rx="2.1" fill="#000" fill-opacity="1" filter="url(#bl)"/>
<rect x="290.8" y="840.25" width="13" height="3.5" rx="1.47" fill="#000" fill-opacity="0.95" filter="url(#bl)"/>
<rect x="304.5" y="839.75" width="13" height="3.5" rx="1.47" fill="#000" fill-opacity="0.95" filter="url(#bl)"/>
<rect x="318.75" y="839" width="13.5" height="4" rx="1.68" fill="#000" fill-opacity="0.95" filter="url(#bl)"/>
<rect x="333" y="839.25" width="13" height="3.5" rx="1.47" fill="#000" fill-opacity="0.9" filter="url(#bl)"/>
<rect x="347.25" y="837.5" width="13.5" height="5" rx="2.1" fill="#000" fill-opacity="1" filter="url(#bl)"/>
<rect x="362" y="836.5" width="13" height="4" rx="1.68" fill="#000" fill-opacity="1" filter="url(#bl)"/>
<rect x="377" y="837" width="9" height="2" rx="0.84" fill="#000" fill-opacity="0.2" filter="url(#bl)"/>
<rect x="390.3" y="836.75" width="9" height="2.5" rx="1.05" fill="#000" fill-opacity="0.3" filter="url(#bl)"/>
</g>
<rect x="277.5" y="833.5" width="123" height="13" fill="none" stroke="#555" stroke-width="1"/>
<text x="0" y="737.2" font-size="8.2" textLength="15.2" lengthAdjust="spacingAndGlyphs">k Da</text>
<line x1="19" y1="747.2" x2="22.5" y2="747.2" stroke="#555" stroke-width="0.9"/>
<text x="15.9" y="750.3" font-size="8.9" text-anchor="end" textLength="10.1" lengthAdjust="spacingAndGlyphs">82</text>
<line x1="19" y1="768.2" x2="22.5" y2="768.2" stroke="#555" stroke-width="0.9"/>
<text x="15.9" y="771.3" font-size="8.9" text-anchor="end" textLength="11.8" lengthAdjust="spacingAndGlyphs">115</text>
<line x1="19" y1="782" x2="22.5" y2="782" stroke="#555" stroke-width="0.9"/>
<text x="15.9" y="785.1" font-size="8.9" text-anchor="end" textLength="11.8" lengthAdjust="spacingAndGlyphs">115</text>
<line x1="19" y1="792" x2="22.5" y2="792" stroke="#555" stroke-width="0.9"/>
<text x="15.9" y="795.1" font-size="8.9" text-anchor="end" textLength="11.8" lengthAdjust="spacingAndGlyphs">115</text>
<line x1="19" y1="804.8" x2="22.5" y2="804.8" stroke="#555" stroke-width="0.9"/>
<text x="15.9" y="807.9" font-size="8.9" text-anchor="end" textLength="11.8" lengthAdjust="spacingAndGlyphs">115</text>
<line x1="19" y1="824.8" x2="22.5" y2="824.8" stroke="#555" stroke-width="0.9"/>
<text x="15.9" y="827.9" font-size="8.9" text-anchor="end" textLength="10.1" lengthAdjust="spacingAndGlyphs">82</text>
<line x1="19" y1="842.6" x2="22.5" y2="842.6" stroke="#555" stroke-width="0.9"/>
<text x="15.9" y="845.7" font-size="8.9" text-anchor="end" textLength="10.1" lengthAdjust="spacingAndGlyphs">64</text>
<text x="405.8" y="754.6" font-size="8.2" textLength="32.3" lengthAdjust="spacingAndGlyphs">IB: IFIT3</text>
<text x="405.8" y="768.9" font-size="8.2" textLength="42.4" lengthAdjust="spacingAndGlyphs">IB: pSTAT2</text>
<text x="405.8" y="786.6" font-size="8.2" textLength="59.5" lengthAdjust="spacingAndGlyphs">IB: Total STAT2</text>
<text x="405.8" y="800.1" font-size="8.2" textLength="41.1" lengthAdjust="spacingAndGlyphs">IB: pSTAT1</text>
<text x="405.8" y="813.7" font-size="8.2" textLength="57.6" lengthAdjust="spacingAndGlyphs">IB: Total STAT1</text>
<text x="405.8" y="828.4" font-size="8.2" textLength="35.4" lengthAdjust="spacingAndGlyphs">IB: NiV N</text>
<text x="405.8" y="842.5" font-size="8.2" textLength="50" lengthAdjust="spacingAndGlyphs">IB: β-Tubulin</text>
<text x="470.4" y="712.6" font-size="12.5" fill="#000" font-weight="bold" style="stroke:#000;stroke-width:0.7px">f</text>
<text x="584" y="712.3" font-size="8.9" text-anchor="middle" textLength="60.7" lengthAdjust="spacingAndGlyphs">IFN-I sensitivity</text>
<line x1="567.2" y1="725" x2="567.2" y2="838.3" stroke="#8a8a8a" stroke-width="1"/>
<line x1="500.1" y1="837.8" x2="667.85" y2="837.8" stroke="#8a8a8a" stroke-width="1"/>
<line x1="500.1" y1="837.8" x2="500.1" y2="842.4" stroke="#8a8a8a" stroke-width="1"/>
<text x="500.1" y="853.08" font-size="8" text-anchor="middle" textLength="7.52" lengthAdjust="spacingAndGlyphs">−2</text>
<line x1="533.65" y1="837.8" x2="533.65" y2="842.4" stroke="#8a8a8a" stroke-width="1"/>
<text x="533.65" y="853.08" font-size="8" text-anchor="middle" textLength="7.52" lengthAdjust="spacingAndGlyphs">−1</text>
<line x1="567.2" y1="837.8" x2="567.2" y2="842.4" stroke="#8a8a8a" stroke-width="1"/>
<text x="567.5" y="853.08" font-size="8" text-anchor="middle" textLength="4.3" lengthAdjust="spacingAndGlyphs">0</text>
<line x1="600.75" y1="837.8" x2="600.75" y2="842.4" stroke="#8a8a8a" stroke-width="1"/>
<text x="601.05" y="853.08" font-size="8" text-anchor="middle" textLength="4.3" lengthAdjust="spacingAndGlyphs">1</text>
<line x1="634.3" y1="837.8" x2="634.3" y2="842.4" stroke="#8a8a8a" stroke-width="1"/>
<text x="634.6" y="853.08" font-size="8" text-anchor="middle" textLength="4.3" lengthAdjust="spacingAndGlyphs">2</text>
<line x1="667.85" y1="837.8" x2="667.85" y2="842.4" stroke="#8a8a8a" stroke-width="1"/>
<text x="668.15" y="853.08" font-size="8" text-anchor="middle" textLength="4.3" lengthAdjust="spacingAndGlyphs">3</text>
<line x1="564.2" y1="810.24" x2="567.2" y2="810.24" stroke="#8a8a8a" stroke-width="1"/>
<text x="560.6" y="812.91" font-size="7.4" text-anchor="end" textLength="4" lengthAdjust="spacingAndGlyphs">2</text>
<line x1="564.2" y1="782.18" x2="567.2" y2="782.18" stroke="#8a8a8a" stroke-width="1"/>
<text x="560.6" y="784.85" font-size="7.4" text-anchor="end" textLength="4" lengthAdjust="spacingAndGlyphs">4</text>
<line x1="564.2" y1="754.12" x2="567.2" y2="754.12" stroke="#8a8a8a" stroke-width="1"/>
<text x="560.6" y="756.79" font-size="7.4" text-anchor="end" textLength="4" lengthAdjust="spacingAndGlyphs">6</text>
<line x1="564.2" y1="726.06" x2="567.2" y2="726.06" stroke="#8a8a8a" stroke-width="1"/>
<text x="560.6" y="728.73" font-size="7.4" text-anchor="end" textLength="4" lengthAdjust="spacingAndGlyphs">8</text>
<line x1="503.9" y1="826.3" x2="663" y2="826.3" stroke="#222" stroke-width="0.9" stroke-dasharray="3.1 2.1"/>
<text x="667.6" y="829.5" font-size="8.8" textLength="18" lengthAdjust="spacingAndGlyphs">LOD</text>
<text x="583.6" y="866" font-size="9" text-anchor="middle" textLength="81.5" lengthAdjust="spacingAndGlyphs">U-IFN (log<tspan font-size="6.2" dy="1.6">10</tspan><tspan dy="-1.6"> ng ml</tspan><tspan font-size="6.2" dy="-3">−1</tspan><tspan dy="3">)</tspan></text>
<text x="478.2" y="782.2" font-size="9" text-anchor="middle" textLength="18.9" lengthAdjust="spacingAndGlyphs" transform="rotate(-90 478.2 782.2)">Titre</text>
<text x="488.6" y="782.3" font-size="9" text-anchor="middle" textLength="74" lengthAdjust="spacingAndGlyphs" transform="rotate(-90 488.6 782.3)">(log<tspan font-size="6" dy="1.6">10</tspan><tspan dy="-1.6"> TCID</tspan><tspan font-size="6" dy="1.6">50</tspan><tspan dy="-1.6"> ml</tspan><tspan font-size="6" dy="-3">−1</tspan><tspan dy="3">)</tspan></text>
<line x1="516.88" y1="773.62" x2="516.88" y2="789.05" stroke="#555" stroke-width="0.8"/>
<line x1="514.88" y1="773.62" x2="518.88" y2="773.62" stroke="#555" stroke-width="0.8"/>
<line x1="514.88" y1="789.05" x2="518.88" y2="789.05" stroke="#555" stroke-width="0.8"/>
<line x1="540.36" y1="795.93" x2="540.36" y2="811.36" stroke="#555" stroke-width="0.8"/>
<line x1="538.36" y1="795.93" x2="542.36" y2="795.93" stroke="#555" stroke-width="0.8"/>
<line x1="538.36" y1="811.36" x2="542.36" y2="811.36" stroke="#555" stroke-width="0.8"/>
<line x1="563.85" y1="804.77" x2="563.85" y2="827.22" stroke="#555" stroke-width="0.8"/>
<line x1="561.85" y1="804.77" x2="565.85" y2="804.77" stroke="#555" stroke-width="0.8"/>
<line x1="561.85" y1="827.22" x2="565.85" y2="827.22" stroke="#555" stroke-width="0.8"/>
<line x1="587.33" y1="822.87" x2="587.33" y2="828.48" stroke="#555" stroke-width="0.8"/>
<line x1="585.33" y1="822.87" x2="589.33" y2="822.87" stroke="#555" stroke-width="0.8"/>
<line x1="585.33" y1="828.48" x2="589.33" y2="828.48" stroke="#555" stroke-width="0.8"/>
<line x1="516.88" y1="785.2" x2="583.98" y2="826" stroke="#c8650c" stroke-width="1"/>
<circle cx="516.88" cy="781.34" r="2.6" fill="#c8650c"/>
<circle cx="540.36" cy="803.65" r="2.6" fill="#c8650c"/>
<circle cx="563.85" cy="815.99" r="2.6" fill="#c8650c"/>
<circle cx="587.33" cy="825.67" r="2.6" fill="#c8650c"/>
<line x1="516.88" y1="752.58" x2="516.88" y2="755.94" stroke="#555" stroke-width="0.8"/>
<line x1="514.88" y1="752.58" x2="518.88" y2="752.58" stroke="#555" stroke-width="0.8"/>
<line x1="514.88" y1="755.94" x2="518.88" y2="755.94" stroke="#555" stroke-width="0.8"/>
<line x1="540.36" y1="754.26" x2="540.36" y2="758.47" stroke="#555" stroke-width="0.8"/>
<line x1="538.36" y1="754.26" x2="542.36" y2="754.26" stroke="#555" stroke-width="0.8"/>
<line x1="538.36" y1="758.47" x2="542.36" y2="758.47" stroke="#555" stroke-width="0.8"/>
<line x1="563.85" y1="759.03" x2="563.85" y2="763.24" stroke="#555" stroke-width="0.8"/>
<line x1="561.85" y1="759.03" x2="565.85" y2="759.03" stroke="#555" stroke-width="0.8"/>
<line x1="561.85" y1="763.24" x2="565.85" y2="763.24" stroke="#555" stroke-width="0.8"/>
<line x1="587.33" y1="760.57" x2="587.33" y2="766.19" stroke="#555" stroke-width="0.8"/>
<line x1="585.33" y1="760.57" x2="589.33" y2="760.57" stroke="#555" stroke-width="0.8"/>
<line x1="585.33" y1="766.19" x2="589.33" y2="766.19" stroke="#555" stroke-width="0.8"/>
<line x1="610.82" y1="763.8" x2="610.82" y2="768.01" stroke="#555" stroke-width="0.8"/>
<line x1="608.82" y1="763.8" x2="612.82" y2="763.8" stroke="#555" stroke-width="0.8"/>
<line x1="608.82" y1="768.01" x2="612.82" y2="768.01" stroke="#555" stroke-width="0.8"/>
<line x1="634.3" y1="765.48" x2="634.3" y2="768.85" stroke="#555" stroke-width="0.8"/>
<line x1="632.3" y1="765.48" x2="636.3" y2="765.48" stroke="#555" stroke-width="0.8"/>
<line x1="632.3" y1="768.85" x2="636.3" y2="768.85" stroke="#555" stroke-width="0.8"/>
<line x1="657.79" y1="766.61" x2="657.79" y2="772.22" stroke="#555" stroke-width="0.8"/>
<line x1="655.79" y1="766.61" x2="659.79" y2="766.61" stroke="#555" stroke-width="0.8"/>
<line x1="655.79" y1="772.22" x2="659.79" y2="772.22" stroke="#555" stroke-width="0.8"/>
<line x1="516.88" y1="744.3" x2="516.88" y2="748.51" stroke="#555" stroke-width="0.8"/>
<line x1="514.88" y1="744.3" x2="518.88" y2="744.3" stroke="#555" stroke-width="0.8"/>
<line x1="514.88" y1="748.51" x2="518.88" y2="748.51" stroke="#555" stroke-width="0.8"/>
<line x1="540.36" y1="744.72" x2="540.36" y2="753.14" stroke="#555" stroke-width="0.8"/>
<line x1="538.36" y1="744.72" x2="542.36" y2="744.72" stroke="#555" stroke-width="0.8"/>
<line x1="538.36" y1="753.14" x2="542.36" y2="753.14" stroke="#555" stroke-width="0.8"/>
<line x1="563.85" y1="751.03" x2="563.85" y2="758.05" stroke="#555" stroke-width="0.8"/>
<line x1="561.85" y1="751.03" x2="565.85" y2="751.03" stroke="#555" stroke-width="0.8"/>
<line x1="561.85" y1="758.05" x2="565.85" y2="758.05" stroke="#555" stroke-width="0.8"/>
<line x1="587.33" y1="757.63" x2="587.33" y2="764.64" stroke="#555" stroke-width="0.8"/>
<line x1="585.33" y1="757.63" x2="589.33" y2="757.63" stroke="#555" stroke-width="0.8"/>
<line x1="585.33" y1="764.64" x2="589.33" y2="764.64" stroke="#555" stroke-width="0.8"/>
<line x1="610.82" y1="763.1" x2="610.82" y2="771.52" stroke="#555" stroke-width="0.8"/>
<line x1="608.82" y1="763.1" x2="612.82" y2="763.1" stroke="#555" stroke-width="0.8"/>
<line x1="608.82" y1="771.52" x2="612.82" y2="771.52" stroke="#555" stroke-width="0.8"/>
<line x1="634.3" y1="758.19" x2="634.3" y2="768.01" stroke="#555" stroke-width="0.8"/>
<line x1="632.3" y1="758.19" x2="636.3" y2="758.19" stroke="#555" stroke-width="0.8"/>
<line x1="632.3" y1="768.01" x2="636.3" y2="768.01" stroke="#555" stroke-width="0.8"/>
<line x1="657.79" y1="771.38" x2="657.79" y2="778.39" stroke="#555" stroke-width="0.8"/>
<line x1="655.79" y1="771.38" x2="659.79" y2="771.38" stroke="#555" stroke-width="0.8"/>
<line x1="655.79" y1="778.39" x2="659.79" y2="778.39" stroke="#555" stroke-width="0.8"/>
<line x1="516.88" y1="744.16" x2="516.88" y2="751.17" stroke="#555" stroke-width="0.8"/>
<line x1="514.88" y1="744.16" x2="518.88" y2="744.16" stroke="#555" stroke-width="0.8"/>
<line x1="514.88" y1="751.17" x2="518.88" y2="751.17" stroke="#555" stroke-width="0.8"/>
<line x1="540.36" y1="749.77" x2="540.36" y2="756.79" stroke="#555" stroke-width="0.8"/>
<line x1="538.36" y1="749.77" x2="542.36" y2="749.77" stroke="#555" stroke-width="0.8"/>
<line x1="538.36" y1="756.79" x2="542.36" y2="756.79" stroke="#555" stroke-width="0.8"/>
<line x1="563.85" y1="763.66" x2="563.85" y2="772.08" stroke="#555" stroke-width="0.8"/>
<line x1="561.85" y1="763.66" x2="565.85" y2="763.66" stroke="#555" stroke-width="0.8"/>
<line x1="561.85" y1="772.08" x2="565.85" y2="772.08" stroke="#555" stroke-width="0.8"/>
<line x1="587.33" y1="770.54" x2="587.33" y2="781.76" stroke="#555" stroke-width="0.8"/>
<line x1="585.33" y1="770.54" x2="589.33" y2="770.54" stroke="#555" stroke-width="0.8"/>
<line x1="585.33" y1="781.76" x2="589.33" y2="781.76" stroke="#555" stroke-width="0.8"/>
<line x1="610.82" y1="779.65" x2="610.82" y2="783.02" stroke="#555" stroke-width="0.8"/>
<line x1="608.82" y1="779.65" x2="612.82" y2="779.65" stroke="#555" stroke-width="0.8"/>
<line x1="608.82" y1="783.02" x2="612.82" y2="783.02" stroke="#555" stroke-width="0.8"/>
<line x1="634.3" y1="780.22" x2="634.3" y2="792.84" stroke="#555" stroke-width="0.8"/>
<line x1="632.3" y1="780.22" x2="636.3" y2="780.22" stroke="#555" stroke-width="0.8"/>
<line x1="632.3" y1="792.84" x2="636.3" y2="792.84" stroke="#555" stroke-width="0.8"/>
<line x1="657.79" y1="780.36" x2="657.79" y2="790.18" stroke="#555" stroke-width="0.8"/>
<line x1="655.79" y1="780.36" x2="659.79" y2="780.36" stroke="#555" stroke-width="0.8"/>
<line x1="655.79" y1="790.18" x2="659.79" y2="790.18" stroke="#555" stroke-width="0.8"/>
<line x1="516.88" y1="755.24" x2="657.79" y2="769.55" stroke="#ee7c93" stroke-width="1"/>
<line x1="516.88" y1="746.4" x2="657.79" y2="770.25" stroke="#8f99d6" stroke-width="1"/>
<line x1="516.88" y1="751.31" x2="657.79" y2="791.58" stroke="#000000" stroke-width="1.1"/>
<circle cx="516.88" cy="754.26" r="2.6" fill="#ee7c93"/>
<circle cx="540.36" cy="756.36" r="2.6" fill="#ee7c93"/>
<circle cx="563.85" cy="761.13" r="2.6" fill="#ee7c93"/>
<circle cx="587.33" cy="763.38" r="2.6" fill="#ee7c93"/>
<circle cx="610.82" cy="765.91" r="2.6" fill="#ee7c93"/>
<circle cx="634.3" cy="767.17" r="2.6" fill="#ee7c93"/>
<circle cx="657.79" cy="769.41" r="2.6" fill="#ee7c93"/>
<circle cx="516.88" cy="746.4" r="2.6" fill="#8f99d6"/>
<circle cx="540.36" cy="748.93" r="2.6" fill="#8f99d6"/>
<circle cx="563.85" cy="754.54" r="2.6" fill="#8f99d6"/>
<circle cx="587.33" cy="761.13" r="2.6" fill="#8f99d6"/>
<circle cx="610.82" cy="767.31" r="2.6" fill="#8f99d6"/>
<circle cx="634.3" cy="763.1" r="2.6" fill="#8f99d6"/>
<circle cx="657.79" cy="774.88" r="2.6" fill="#8f99d6"/>
<circle cx="516.88" cy="747.67" r="2.6" fill="#000000"/>
<circle cx="540.36" cy="753.28" r="2.6" fill="#000000"/>
<circle cx="563.85" cy="767.87" r="2.6" fill="#000000"/>
<circle cx="587.33" cy="776.15" r="2.6" fill="#000000"/>
<circle cx="610.82" cy="781.34" r="2.6" fill="#000000"/>
<circle cx="634.3" cy="786.53" r="2.6" fill="#000000"/>
<circle cx="657.79" cy="785.27" r="2.6" fill="#000000"/>
</svg>
</body></html>
